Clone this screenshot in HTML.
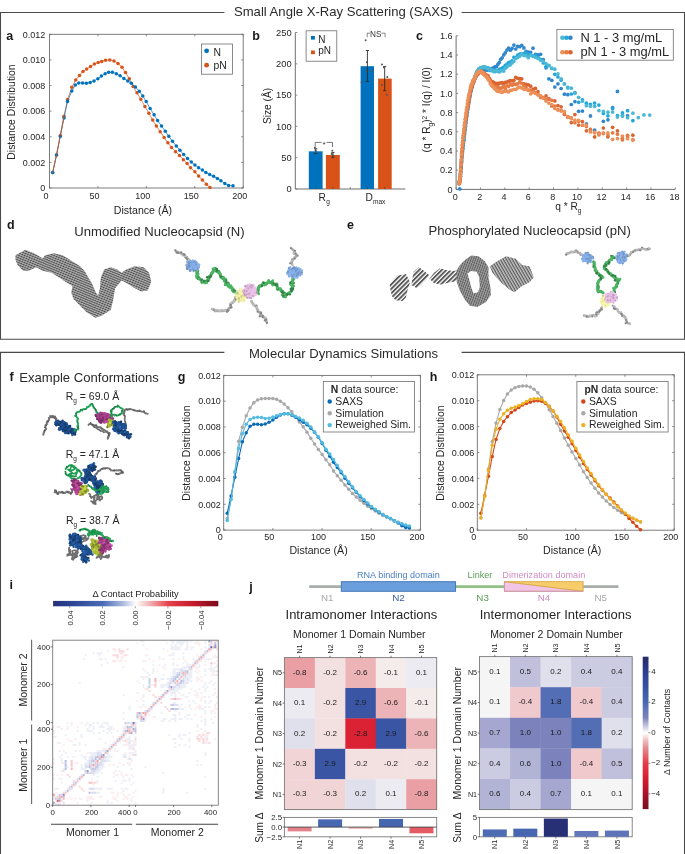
<!DOCTYPE html>
<html><head><meta charset="utf-8"><style>
html,body{margin:0;padding:0;background:#fff;}
svg{display:block;font-family:"Liberation Sans",sans-serif;will-change:transform;}
</style></head><body>
<svg width="685" height="854" viewBox="0 0 685 854">
<defs><pattern id="hatch" width="2.5" height="2.2" patternUnits="userSpaceOnUse" patternTransform="rotate(22)"><rect width="2.5" height="2.2" fill="#c6c6c6"/><ellipse cx="1.25" cy="1.1" rx="1.25" ry="0.78" fill="#464646"/></pattern>
<pattern id="hatch2" width="3.2" height="3.2" patternUnits="userSpaceOnUse" patternTransform="rotate(-45)"><rect width="3.2" height="1.9" fill="#585858"/></pattern>
<pattern id="hatch3" width="2.2" height="2.2" patternUnits="userSpaceOnUse" patternTransform="rotate(-70)"><rect width="2.2" height="2.2" fill="#b0b0b0"/><ellipse cx="1.1" cy="1.1" rx="1.1" ry="0.7" fill="#555"/></pattern>
<pattern id="hatch4" width="2.6" height="2.6" patternUnits="userSpaceOnUse" patternTransform="rotate(60)"><rect width="2.6" height="2.6" fill="#c4c4c4"/><rect width="2.6" height="1.2" fill="#5a5a5a"/></pattern></defs>
<rect width="685" height="854" fill="#fff"/>
<polyline points="224.4,12.5 0.5,12.5 0.5,339.2 684.5,339.2 684.5,12.5 461.6,12.5" fill="none" stroke="#4a4a4a" stroke-width="1.1"/>
<text x="343.5" y="15.5" font-size="13.1" text-anchor="middle" fill="#2a2a2a">Small Angle X-Ray Scattering (SAXS)</text>
<polyline points="224.4,352.4 0.5,352.4 0.5,870 684.5,870 684.5,352.4 461.6,352.4" fill="none" stroke="#4a4a4a" stroke-width="1.1"/>
<text x="343.5" y="358" font-size="13.1" text-anchor="middle" fill="#2a2a2a">Molecular Dynamics Simulations</text>
<rect x="49.5" y="34.3" width="193.7" height="153.7" fill="none" stroke="#6f6f6f" stroke-width="0.9"/>
<line x1="49.5" y1="188" x2="49.5" y2="186" stroke="#6f6f6f" stroke-width="0.8"/>
<line x1="49.5" y1="34.3" x2="49.5" y2="36.3" stroke="#6f6f6f" stroke-width="0.8"/>
<text x="46" y="198.8" font-size="9.0" text-anchor="middle" fill="#262626">0</text>
<line x1="97.92" y1="188" x2="97.92" y2="186" stroke="#6f6f6f" stroke-width="0.8"/>
<line x1="97.92" y1="34.3" x2="97.92" y2="36.3" stroke="#6f6f6f" stroke-width="0.8"/>
<text x="94.42" y="198.8" font-size="9.0" text-anchor="middle" fill="#262626">50</text>
<line x1="146.35" y1="188" x2="146.35" y2="186" stroke="#6f6f6f" stroke-width="0.8"/>
<line x1="146.35" y1="34.3" x2="146.35" y2="36.3" stroke="#6f6f6f" stroke-width="0.8"/>
<text x="142.85" y="198.8" font-size="9.0" text-anchor="middle" fill="#262626">100</text>
<line x1="194.77" y1="188" x2="194.77" y2="186" stroke="#6f6f6f" stroke-width="0.8"/>
<line x1="194.77" y1="34.3" x2="194.77" y2="36.3" stroke="#6f6f6f" stroke-width="0.8"/>
<text x="191.27" y="198.8" font-size="9.0" text-anchor="middle" fill="#262626">150</text>
<line x1="243.2" y1="188" x2="243.2" y2="186" stroke="#6f6f6f" stroke-width="0.8"/>
<line x1="243.2" y1="34.3" x2="243.2" y2="36.3" stroke="#6f6f6f" stroke-width="0.8"/>
<text x="239.7" y="198.8" font-size="9.0" text-anchor="middle" fill="#262626">200</text>
<line x1="49.5" y1="188" x2="51.5" y2="188" stroke="#6f6f6f" stroke-width="0.8"/>
<line x1="243.2" y1="188" x2="241.2" y2="188" stroke="#6f6f6f" stroke-width="0.8"/>
<text x="45.3" y="191.2" font-size="9.0" text-anchor="end" fill="#262626">0</text>
<line x1="49.5" y1="162.38" x2="51.5" y2="162.38" stroke="#6f6f6f" stroke-width="0.8"/>
<line x1="243.2" y1="162.38" x2="241.2" y2="162.38" stroke="#6f6f6f" stroke-width="0.8"/>
<text x="45.3" y="165.58" font-size="9.0" text-anchor="end" fill="#262626">0.002</text>
<line x1="49.5" y1="136.77" x2="51.5" y2="136.77" stroke="#6f6f6f" stroke-width="0.8"/>
<line x1="243.2" y1="136.77" x2="241.2" y2="136.77" stroke="#6f6f6f" stroke-width="0.8"/>
<text x="45.3" y="139.97" font-size="9.0" text-anchor="end" fill="#262626">0.004</text>
<line x1="49.5" y1="111.15" x2="51.5" y2="111.15" stroke="#6f6f6f" stroke-width="0.8"/>
<line x1="243.2" y1="111.15" x2="241.2" y2="111.15" stroke="#6f6f6f" stroke-width="0.8"/>
<text x="45.3" y="114.35" font-size="9.0" text-anchor="end" fill="#262626">0.006</text>
<line x1="49.5" y1="85.53" x2="51.5" y2="85.53" stroke="#6f6f6f" stroke-width="0.8"/>
<line x1="243.2" y1="85.53" x2="241.2" y2="85.53" stroke="#6f6f6f" stroke-width="0.8"/>
<text x="45.3" y="88.73" font-size="9.0" text-anchor="end" fill="#262626">0.008</text>
<line x1="49.5" y1="59.92" x2="51.5" y2="59.92" stroke="#6f6f6f" stroke-width="0.8"/>
<line x1="243.2" y1="59.92" x2="241.2" y2="59.92" stroke="#6f6f6f" stroke-width="0.8"/>
<text x="45.3" y="63.12" font-size="9.0" text-anchor="end" fill="#262626">0.010</text>
<line x1="49.5" y1="34.3" x2="51.5" y2="34.3" stroke="#6f6f6f" stroke-width="0.8"/>
<line x1="243.2" y1="34.3" x2="241.2" y2="34.3" stroke="#6f6f6f" stroke-width="0.8"/>
<text x="45.3" y="37.5" font-size="9.0" text-anchor="end" fill="#262626">0.012</text>
<text x="142.9" y="214" font-size="10.6" text-anchor="middle" fill="#262626">Distance (Å)</text>
<text transform="translate(15.3,112) rotate(-90)" font-size="10.4" text-anchor="middle" fill="#262626">Distance Distribution</text>
<text x="6.3" y="39.6" font-size="12.5" text-anchor="start" fill="#1a1a1a" font-weight="bold">a</text>
<polyline points="52.7,172.4 56.5,155 60.3,135.5 64,116.2 67.6,99.5 71.8,87.2 75.7,80 79.5,75.4 83,71.4 86.7,69.1 90.5,66.5 94.4,64 98.2,62.5 101.7,61.4 105.5,60.2 109.8,59.9 114,61 118,63.4 122,67.2 125.5,72.5 129.3,78.7 133.1,86.4 137,92.8 140.8,99.2 144.9,106.4 148.9,113.3 152.7,119.9 156.4,126 160.2,131.7 164.1,137.5 167.9,142.8 171.6,147.4 175.6,151.7 179.5,155.6 183.4,159.7 187.1,163.5 190.6,167.7 194.9,171.7 198.6,176.1 202.4,180.1 206.4,184.2 210,187.6" stroke="#D95319" stroke-width="0.7" fill="none" stroke-linejoin="round" stroke-linecap="round"/>
<circle cx="52.7" cy="172.4" r="1.75" fill="#D95319"/>
<circle cx="56.5" cy="155" r="1.75" fill="#D95319"/>
<circle cx="60.3" cy="135.5" r="1.75" fill="#D95319"/>
<circle cx="64" cy="116.2" r="1.75" fill="#D95319"/>
<circle cx="67.6" cy="99.5" r="1.75" fill="#D95319"/>
<circle cx="71.8" cy="87.2" r="1.75" fill="#D95319"/>
<circle cx="75.7" cy="80" r="1.75" fill="#D95319"/>
<circle cx="79.5" cy="75.4" r="1.75" fill="#D95319"/>
<circle cx="83" cy="71.4" r="1.75" fill="#D95319"/>
<circle cx="86.7" cy="69.1" r="1.75" fill="#D95319"/>
<circle cx="90.5" cy="66.5" r="1.75" fill="#D95319"/>
<circle cx="94.4" cy="64" r="1.75" fill="#D95319"/>
<circle cx="98.2" cy="62.5" r="1.75" fill="#D95319"/>
<circle cx="101.7" cy="61.4" r="1.75" fill="#D95319"/>
<circle cx="105.5" cy="60.2" r="1.75" fill="#D95319"/>
<circle cx="109.8" cy="59.9" r="1.75" fill="#D95319"/>
<circle cx="114" cy="61" r="1.75" fill="#D95319"/>
<circle cx="118" cy="63.4" r="1.75" fill="#D95319"/>
<circle cx="122" cy="67.2" r="1.75" fill="#D95319"/>
<circle cx="125.5" cy="72.5" r="1.75" fill="#D95319"/>
<circle cx="129.3" cy="78.7" r="1.75" fill="#D95319"/>
<circle cx="133.1" cy="86.4" r="1.75" fill="#D95319"/>
<circle cx="137" cy="92.8" r="1.75" fill="#D95319"/>
<circle cx="140.8" cy="99.2" r="1.75" fill="#D95319"/>
<circle cx="144.9" cy="106.4" r="1.75" fill="#D95319"/>
<circle cx="148.9" cy="113.3" r="1.75" fill="#D95319"/>
<circle cx="152.7" cy="119.9" r="1.75" fill="#D95319"/>
<circle cx="156.4" cy="126" r="1.75" fill="#D95319"/>
<circle cx="160.2" cy="131.7" r="1.75" fill="#D95319"/>
<circle cx="164.1" cy="137.5" r="1.75" fill="#D95319"/>
<circle cx="167.9" cy="142.8" r="1.75" fill="#D95319"/>
<circle cx="171.6" cy="147.4" r="1.75" fill="#D95319"/>
<circle cx="175.6" cy="151.7" r="1.75" fill="#D95319"/>
<circle cx="179.5" cy="155.6" r="1.75" fill="#D95319"/>
<circle cx="183.4" cy="159.7" r="1.75" fill="#D95319"/>
<circle cx="187.1" cy="163.5" r="1.75" fill="#D95319"/>
<circle cx="190.6" cy="167.7" r="1.75" fill="#D95319"/>
<circle cx="194.9" cy="171.7" r="1.75" fill="#D95319"/>
<circle cx="198.6" cy="176.1" r="1.75" fill="#D95319"/>
<circle cx="202.4" cy="180.1" r="1.75" fill="#D95319"/>
<circle cx="206.4" cy="184.2" r="1.75" fill="#D95319"/>
<circle cx="210" cy="187.6" r="1.75" fill="#D95319"/>
<polyline points="52.7,172.4 56.5,155.1 60.3,136.4 64,117.9 67.5,101.5 71.8,91 75.3,84.9 78.7,82.9 82.6,82.9 86.4,83.3 90.2,82.6 94,80.9 97.9,78.7 101.4,76 105.1,73.7 108.6,72.3 112.4,72.3 116.3,73.7 120.1,75.7 123.9,78.4 127.8,81 131.3,83.3 135.4,87 139.3,91.3 142.8,95.9 146.2,101.6 150.1,108.4 154.1,114.8 157.6,120.6 161.5,126 165.3,131.3 168.8,136.3 172.5,141.3 176.3,145.9 179.9,150.2 183.7,154.6 187.5,158.5 191.3,162 194.9,165.1 198.6,167.7 202.4,170.1 205.9,172.4 209.7,174.6 213.6,176.3 217.4,178.6 220.9,180.7 224.8,183.5 228.6,185.5 233,185.8" stroke="#0072BD" stroke-width="0.7" fill="none" stroke-linejoin="round" stroke-linecap="round"/>
<circle cx="52.7" cy="172.4" r="1.75" fill="#0072BD"/>
<circle cx="56.5" cy="155.1" r="1.75" fill="#0072BD"/>
<circle cx="60.3" cy="136.4" r="1.75" fill="#0072BD"/>
<circle cx="64" cy="117.9" r="1.75" fill="#0072BD"/>
<circle cx="67.5" cy="101.5" r="1.75" fill="#0072BD"/>
<circle cx="71.8" cy="91" r="1.75" fill="#0072BD"/>
<circle cx="75.3" cy="84.9" r="1.75" fill="#0072BD"/>
<circle cx="78.7" cy="82.9" r="1.75" fill="#0072BD"/>
<circle cx="82.6" cy="82.9" r="1.75" fill="#0072BD"/>
<circle cx="86.4" cy="83.3" r="1.75" fill="#0072BD"/>
<circle cx="90.2" cy="82.6" r="1.75" fill="#0072BD"/>
<circle cx="94" cy="80.9" r="1.75" fill="#0072BD"/>
<circle cx="97.9" cy="78.7" r="1.75" fill="#0072BD"/>
<circle cx="101.4" cy="76" r="1.75" fill="#0072BD"/>
<circle cx="105.1" cy="73.7" r="1.75" fill="#0072BD"/>
<circle cx="108.6" cy="72.3" r="1.75" fill="#0072BD"/>
<circle cx="112.4" cy="72.3" r="1.75" fill="#0072BD"/>
<circle cx="116.3" cy="73.7" r="1.75" fill="#0072BD"/>
<circle cx="120.1" cy="75.7" r="1.75" fill="#0072BD"/>
<circle cx="123.9" cy="78.4" r="1.75" fill="#0072BD"/>
<circle cx="127.8" cy="81" r="1.75" fill="#0072BD"/>
<circle cx="131.3" cy="83.3" r="1.75" fill="#0072BD"/>
<circle cx="135.4" cy="87" r="1.75" fill="#0072BD"/>
<circle cx="139.3" cy="91.3" r="1.75" fill="#0072BD"/>
<circle cx="142.8" cy="95.9" r="1.75" fill="#0072BD"/>
<circle cx="146.2" cy="101.6" r="1.75" fill="#0072BD"/>
<circle cx="150.1" cy="108.4" r="1.75" fill="#0072BD"/>
<circle cx="154.1" cy="114.8" r="1.75" fill="#0072BD"/>
<circle cx="157.6" cy="120.6" r="1.75" fill="#0072BD"/>
<circle cx="161.5" cy="126" r="1.75" fill="#0072BD"/>
<circle cx="165.3" cy="131.3" r="1.75" fill="#0072BD"/>
<circle cx="168.8" cy="136.3" r="1.75" fill="#0072BD"/>
<circle cx="172.5" cy="141.3" r="1.75" fill="#0072BD"/>
<circle cx="176.3" cy="145.9" r="1.75" fill="#0072BD"/>
<circle cx="179.9" cy="150.2" r="1.75" fill="#0072BD"/>
<circle cx="183.7" cy="154.6" r="1.75" fill="#0072BD"/>
<circle cx="187.5" cy="158.5" r="1.75" fill="#0072BD"/>
<circle cx="191.3" cy="162" r="1.75" fill="#0072BD"/>
<circle cx="194.9" cy="165.1" r="1.75" fill="#0072BD"/>
<circle cx="198.6" cy="167.7" r="1.75" fill="#0072BD"/>
<circle cx="202.4" cy="170.1" r="1.75" fill="#0072BD"/>
<circle cx="205.9" cy="172.4" r="1.75" fill="#0072BD"/>
<circle cx="209.7" cy="174.6" r="1.75" fill="#0072BD"/>
<circle cx="213.6" cy="176.3" r="1.75" fill="#0072BD"/>
<circle cx="217.4" cy="178.6" r="1.75" fill="#0072BD"/>
<circle cx="220.9" cy="180.7" r="1.75" fill="#0072BD"/>
<circle cx="224.8" cy="183.5" r="1.75" fill="#0072BD"/>
<circle cx="228.6" cy="185.5" r="1.75" fill="#0072BD"/>
<circle cx="233" cy="185.8" r="1.75" fill="#0072BD"/>
<polyline points="52.7,172.4 56.5,155 60.3,135.5 64,116.2" stroke="#D95319" stroke-width="0.7" fill="none" stroke-linejoin="round" stroke-linecap="round"/>
<rect x="201.4" y="44" width="31.2" height="30.2" fill="#fff" stroke="#6f6f6f" stroke-width="0.8"/>
<circle cx="206.6" cy="50.8" r="2.4" fill="#0072BD"/>
<circle cx="206.6" cy="65.2" r="2.4" fill="#D95319"/>
<text x="213.5" y="55.9" font-size="10.4" text-anchor="start" fill="#262626">N</text>
<text x="213.5" y="68.6" font-size="10.4" text-anchor="start" fill="#262626">pN</text>
<text x="252.3" y="39.9" font-size="12.5" text-anchor="start" fill="#1a1a1a" font-weight="bold">b</text>
<line x1="295.3" y1="32.5" x2="295.3" y2="189" stroke="#6f6f6f" stroke-width="1"/>
<line x1="295.3" y1="189" x2="405.3" y2="189" stroke="#6f6f6f" stroke-width="1"/>
<line x1="295.3" y1="189" x2="297.3" y2="189" stroke="#6f6f6f" stroke-width="0.8"/>
<text x="291.7" y="192.3" font-size="9.4" text-anchor="end" fill="#262626">0</text>
<line x1="295.3" y1="157.7" x2="297.3" y2="157.7" stroke="#6f6f6f" stroke-width="0.8"/>
<text x="291.7" y="161" font-size="9.4" text-anchor="end" fill="#262626">50</text>
<line x1="295.3" y1="126.4" x2="297.3" y2="126.4" stroke="#6f6f6f" stroke-width="0.8"/>
<text x="291.7" y="129.7" font-size="9.4" text-anchor="end" fill="#262626">100</text>
<line x1="295.3" y1="95.1" x2="297.3" y2="95.1" stroke="#6f6f6f" stroke-width="0.8"/>
<text x="291.7" y="98.4" font-size="9.4" text-anchor="end" fill="#262626">150</text>
<line x1="295.3" y1="63.8" x2="297.3" y2="63.8" stroke="#6f6f6f" stroke-width="0.8"/>
<text x="291.7" y="67.1" font-size="9.4" text-anchor="end" fill="#262626">200</text>
<line x1="295.3" y1="32.5" x2="297.3" y2="32.5" stroke="#6f6f6f" stroke-width="0.8"/>
<text x="291.7" y="35.8" font-size="9.4" text-anchor="end" fill="#262626">250</text>
<line x1="350.3" y1="189" x2="350.3" y2="187" stroke="#6f6f6f" stroke-width="0.8"/>
<rect x="308.8" y="151.3" width="13.8" height="37.7" fill="#0072BD"/>
<rect x="325.9" y="155" width="13.9" height="34" fill="#D95319"/>
<rect x="360.6" y="66.2" width="13.4" height="122.8" fill="#0072BD"/>
<rect x="378.1" y="78.6" width="13.6" height="110.4" fill="#D95319"/>
<line x1="367.4" y1="50.5" x2="367.4" y2="81.5" stroke="#2b2b2b" stroke-width="0.9"/>
<line x1="365.8" y1="50.5" x2="369" y2="50.5" stroke="#2b2b2b" stroke-width="0.9"/>
<line x1="365.8" y1="81.5" x2="369" y2="81.5" stroke="#2b2b2b" stroke-width="0.9"/>
<line x1="384.7" y1="66.6" x2="384.7" y2="90.7" stroke="#2b2b2b" stroke-width="0.9"/>
<line x1="383.1" y1="66.6" x2="386.3" y2="66.6" stroke="#2b2b2b" stroke-width="0.9"/>
<line x1="383.1" y1="90.7" x2="386.3" y2="90.7" stroke="#2b2b2b" stroke-width="0.9"/>
<line x1="315.7" y1="148.8" x2="315.7" y2="153.5" stroke="#2b2b2b" stroke-width="0.9"/>
<line x1="314.1" y1="148.8" x2="317.3" y2="148.8" stroke="#2b2b2b" stroke-width="0.9"/>
<line x1="314.1" y1="153.5" x2="317.3" y2="153.5" stroke="#2b2b2b" stroke-width="0.9"/>
<line x1="332.9" y1="152.6" x2="332.9" y2="157.3" stroke="#2b2b2b" stroke-width="0.9"/>
<line x1="331.3" y1="152.6" x2="334.5" y2="152.6" stroke="#2b2b2b" stroke-width="0.9"/>
<line x1="331.3" y1="157.3" x2="334.5" y2="157.3" stroke="#2b2b2b" stroke-width="0.9"/>
<circle cx="365.7" cy="40.3" r="1" fill="#555"/>
<circle cx="366.9" cy="62.2" r="1" fill="#555"/>
<circle cx="366.4" cy="71" r="1" fill="#555"/>
<circle cx="372" cy="71" r="1" fill="#555"/>
<circle cx="361.6" cy="82.2" r="1" fill="#555"/>
<circle cx="382" cy="64.4" r="1" fill="#555"/>
<circle cx="383.9" cy="67.6" r="1" fill="#555"/>
<circle cx="387.3" cy="77.1" r="1" fill="#555"/>
<circle cx="381.8" cy="84.9" r="1" fill="#555"/>
<circle cx="386.9" cy="94.8" r="1" fill="#555"/>
<circle cx="314.8" cy="147.8" r="1" fill="#555"/>
<circle cx="315.6" cy="150.5" r="1" fill="#555"/>
<circle cx="316.2" cy="152.4" r="1" fill="#555"/>
<circle cx="332.3" cy="150.8" r="1" fill="#555"/>
<circle cx="331.6" cy="153.9" r="1" fill="#555"/>
<circle cx="333.4" cy="155.6" r="1" fill="#555"/>
<polyline points="315.2,146.4 315.2,142.4 321.2,142.4" stroke="#555" stroke-width="0.8" fill="none" stroke-linejoin="round" stroke-linecap="round"/>
<polyline points="327,142.4 332.5,142.4 332.5,146.6" stroke="#555" stroke-width="0.8" fill="none" stroke-linejoin="round" stroke-linecap="round"/>
<text x="324" y="146.6" font-size="8.0" text-anchor="middle" fill="#333">*</text>
<polyline points="367.2,36.9 367.2,33.2 369.6,33.2" stroke="#555" stroke-width="0.7" fill="none" stroke-linejoin="round" stroke-linecap="round"/>
<polyline points="381.9,33.2 385.1,33.2 385.1,36.9" stroke="#555" stroke-width="0.7" fill="none" stroke-linejoin="round" stroke-linecap="round"/>
<text x="375.7" y="36.8" font-size="8.2" text-anchor="middle" fill="#333">NS</text>
<rect x="306.1" y="30.8" width="30.7" height="30.4" fill="#fff" stroke="#6f6f6f" stroke-width="0.8"/>
<rect x="311" y="36" width="3.9" height="3.6" fill="#0072BD"/>
<rect x="311" y="50.5" width="3.9" height="3.7" fill="#D95319"/>
<text x="318.3" y="42.9" font-size="10.0" text-anchor="start" fill="#262626">N</text>
<text x="318.3" y="54.2" font-size="10.0" text-anchor="start" fill="#262626">pN</text>
<text x="318.6" y="200.8" font-size="10.2" text-anchor="start" fill="#262626">R</text>
<text x="326.3" y="204.2" font-size="6.6" text-anchor="start" fill="#262626">g</text>
<text x="365.5" y="200.8" font-size="10.2" text-anchor="start" fill="#262626">D</text>
<text x="372.9" y="203.7" font-size="6.6" text-anchor="start" fill="#262626">max</text>
<line x1="315.7" y1="189" x2="315.7" y2="187" stroke="#444" stroke-width="0.7"/>
<line x1="332.9" y1="189" x2="332.9" y2="187" stroke="#444" stroke-width="0.7"/>
<line x1="367.4" y1="189" x2="367.4" y2="187" stroke="#444" stroke-width="0.7"/>
<line x1="384.7" y1="189" x2="384.7" y2="187" stroke="#444" stroke-width="0.7"/>
<text transform="translate(271.3,106) rotate(-90)" font-size="10.2" text-anchor="middle" fill="#262626">Size (Å)</text>
<text x="416" y="40" font-size="12.5" text-anchor="start" fill="#1a1a1a" font-weight="bold">c</text>
<line x1="456.1" y1="35.8" x2="456.1" y2="189.4" stroke="#6f6f6f" stroke-width="1"/>
<line x1="456.1" y1="189.4" x2="675.3" y2="189.4" stroke="#6f6f6f" stroke-width="1"/>
<line x1="456.1" y1="189.4" x2="456.1" y2="187.4" stroke="#6f6f6f" stroke-width="0.8"/>
<text x="455.3" y="200.3" font-size="9.0" text-anchor="middle" fill="#262626">0</text>
<line x1="480.46" y1="189.4" x2="480.46" y2="187.4" stroke="#6f6f6f" stroke-width="0.8"/>
<text x="479.66" y="200.3" font-size="9.0" text-anchor="middle" fill="#262626">2</text>
<line x1="504.81" y1="189.4" x2="504.81" y2="187.4" stroke="#6f6f6f" stroke-width="0.8"/>
<text x="504.01" y="200.3" font-size="9.0" text-anchor="middle" fill="#262626">4</text>
<line x1="529.17" y1="189.4" x2="529.17" y2="187.4" stroke="#6f6f6f" stroke-width="0.8"/>
<text x="528.37" y="200.3" font-size="9.0" text-anchor="middle" fill="#262626">6</text>
<line x1="553.52" y1="189.4" x2="553.52" y2="187.4" stroke="#6f6f6f" stroke-width="0.8"/>
<text x="552.72" y="200.3" font-size="9.0" text-anchor="middle" fill="#262626">8</text>
<line x1="577.88" y1="189.4" x2="577.88" y2="187.4" stroke="#6f6f6f" stroke-width="0.8"/>
<text x="577.08" y="200.3" font-size="9.0" text-anchor="middle" fill="#262626">10</text>
<line x1="602.23" y1="189.4" x2="602.23" y2="187.4" stroke="#6f6f6f" stroke-width="0.8"/>
<text x="601.43" y="200.3" font-size="9.0" text-anchor="middle" fill="#262626">12</text>
<line x1="626.59" y1="189.4" x2="626.59" y2="187.4" stroke="#6f6f6f" stroke-width="0.8"/>
<text x="625.79" y="200.3" font-size="9.0" text-anchor="middle" fill="#262626">14</text>
<line x1="650.94" y1="189.4" x2="650.94" y2="187.4" stroke="#6f6f6f" stroke-width="0.8"/>
<text x="650.14" y="200.3" font-size="9.0" text-anchor="middle" fill="#262626">16</text>
<line x1="675.3" y1="189.4" x2="675.3" y2="187.4" stroke="#6f6f6f" stroke-width="0.8"/>
<text x="674.5" y="200.3" font-size="9.0" text-anchor="middle" fill="#262626">18</text>
<line x1="456.1" y1="189.4" x2="458.1" y2="189.4" stroke="#6f6f6f" stroke-width="0.8"/>
<text x="452.6" y="192.6" font-size="9.1" text-anchor="end" fill="#262626">0</text>
<line x1="456.1" y1="170.2" x2="458.1" y2="170.2" stroke="#6f6f6f" stroke-width="0.8"/>
<text x="452.6" y="173.4" font-size="9.1" text-anchor="end" fill="#262626">0.2</text>
<line x1="456.1" y1="151" x2="458.1" y2="151" stroke="#6f6f6f" stroke-width="0.8"/>
<text x="452.6" y="154.2" font-size="9.1" text-anchor="end" fill="#262626">0.4</text>
<line x1="456.1" y1="131.8" x2="458.1" y2="131.8" stroke="#6f6f6f" stroke-width="0.8"/>
<text x="452.6" y="135" font-size="9.1" text-anchor="end" fill="#262626">0.6</text>
<line x1="456.1" y1="112.6" x2="458.1" y2="112.6" stroke="#6f6f6f" stroke-width="0.8"/>
<text x="452.6" y="115.8" font-size="9.1" text-anchor="end" fill="#262626">0.8</text>
<line x1="456.1" y1="93.4" x2="458.1" y2="93.4" stroke="#6f6f6f" stroke-width="0.8"/>
<text x="452.6" y="96.6" font-size="9.1" text-anchor="end" fill="#262626">1.0</text>
<line x1="456.1" y1="74.2" x2="458.1" y2="74.2" stroke="#6f6f6f" stroke-width="0.8"/>
<text x="452.6" y="77.4" font-size="9.1" text-anchor="end" fill="#262626">1.2</text>
<line x1="456.1" y1="55" x2="458.1" y2="55" stroke="#6f6f6f" stroke-width="0.8"/>
<text x="452.6" y="58.2" font-size="9.1" text-anchor="end" fill="#262626">1.4</text>
<line x1="456.1" y1="35.8" x2="458.1" y2="35.8" stroke="#6f6f6f" stroke-width="0.8"/>
<text x="452.6" y="39" font-size="9.1" text-anchor="end" fill="#262626">1.6</text>
<text x="566.5" y="209.6" font-size="10.2" text-anchor="middle" fill="#262626">q * R</text>
<text x="579.5" y="212.5" font-size="6.5" text-anchor="middle" fill="#262626">g</text>
<text transform="translate(430.2,109.8) rotate(-90)" font-size="10.2" text-anchor="middle" fill="#262626">(q * R<tspan font-size="6.5" dy="2.5">g</tspan><tspan dy="-2.5">)</tspan><tspan font-size="6.5" dy="-3.5">2</tspan><tspan dy="3.5"> * I(q) / I(0)</tspan></text>
<g fill="#2f86cc"><circle cx="459.14" cy="183.28" r="1.85"/><circle cx="459.38" cy="182.27" r="1.85"/><circle cx="459.63" cy="181.44" r="1.85"/><circle cx="459.88" cy="180.45" r="1.85"/><circle cx="460.14" cy="178.44" r="1.85"/><circle cx="460.41" cy="176.2" r="1.85"/><circle cx="460.68" cy="172.81" r="1.85"/><circle cx="460.96" cy="168.92" r="1.85"/><circle cx="461.26" cy="165.95" r="1.85"/><circle cx="461.56" cy="162.21" r="1.85"/><circle cx="461.87" cy="158.07" r="1.85"/><circle cx="462.19" cy="154.73" r="1.85"/><circle cx="462.51" cy="151.67" r="1.85"/><circle cx="462.85" cy="148.89" r="1.85"/><circle cx="463.2" cy="145.33" r="1.85"/><circle cx="463.56" cy="141.81" r="1.85"/><circle cx="463.93" cy="139.33" r="1.85"/><circle cx="464.31" cy="135.72" r="1.85"/><circle cx="464.7" cy="132.98" r="1.85"/><circle cx="465.11" cy="129.45" r="1.85"/><circle cx="465.53" cy="126.35" r="1.85"/><circle cx="465.95" cy="122.38" r="1.85"/><circle cx="466.4" cy="119.4" r="1.85"/><circle cx="466.85" cy="115.43" r="1.85"/><circle cx="467.32" cy="112.13" r="1.85"/><circle cx="467.8" cy="108.99" r="1.85"/><circle cx="468.3" cy="106.71" r="1.85"/><circle cx="468.81" cy="102.83" r="1.85"/><circle cx="469.34" cy="99.51" r="1.85"/><circle cx="469.88" cy="96.39" r="1.85"/><circle cx="470.44" cy="94.1" r="1.85"/><circle cx="471.02" cy="91.01" r="1.85"/><circle cx="471.61" cy="88.81" r="1.85"/><circle cx="472.22" cy="86.52" r="1.85"/><circle cx="472.85" cy="83.71" r="1.85"/><circle cx="473.5" cy="82.5" r="1.85"/><circle cx="474.17" cy="80.45" r="1.85"/><circle cx="474.86" cy="78.49" r="1.85"/><circle cx="475.57" cy="77.56" r="1.85"/><circle cx="476.3" cy="76" r="1.85"/><circle cx="477.05" cy="74.68" r="1.85"/><circle cx="477.82" cy="73.59" r="1.85"/><circle cx="478.62" cy="72.97" r="1.85"/><circle cx="479.44" cy="71.5" r="1.85"/><circle cx="480.29" cy="70.38" r="1.85"/><circle cx="481.16" cy="71.25" r="1.85"/><circle cx="482.06" cy="70.15" r="1.85"/><circle cx="482.99" cy="70.3" r="1.85"/><circle cx="483.94" cy="70.48" r="1.85"/><circle cx="484.92" cy="69.36" r="1.85"/><circle cx="485.93" cy="69.7" r="1.85"/><circle cx="486.97" cy="70.26" r="1.85"/><circle cx="488.04" cy="69.55" r="1.85"/><circle cx="489.15" cy="69.13" r="1.85"/><circle cx="490.29" cy="69.17" r="1.85"/><circle cx="491.46" cy="68.53" r="1.85"/><circle cx="492.66" cy="68.45" r="1.85"/><circle cx="493.91" cy="67.67" r="1.85"/><circle cx="495.19" cy="66.65" r="1.85"/><circle cx="496.51" cy="66.72" r="1.85"/><circle cx="497.86" cy="64.31" r="1.85"/><circle cx="499.26" cy="62.42" r="1.85"/><circle cx="500.7" cy="59.26" r="1.85"/><circle cx="502.19" cy="57.79" r="1.85"/><circle cx="503.72" cy="54.91" r="1.85"/><circle cx="505.29" cy="52.87" r="1.85"/><circle cx="506.91" cy="50.08" r="1.85"/><circle cx="508.58" cy="48.19" r="1.85"/><circle cx="510.31" cy="50.21" r="1.85"/><circle cx="512.08" cy="48.3" r="1.85"/><circle cx="513.9" cy="45.04" r="1.85"/><circle cx="515.78" cy="49.01" r="1.85"/><circle cx="517.72" cy="46.36" r="1.85"/><circle cx="519.71" cy="46.65" r="1.85"/><circle cx="521.77" cy="45.37" r="1.85"/><circle cx="523.89" cy="47.97" r="1.85"/><circle cx="526.06" cy="51.23" r="1.85"/><circle cx="528.31" cy="52.1" r="1.85"/><circle cx="530.62" cy="52.44" r="1.85"/><circle cx="533" cy="48.15" r="1.85"/><circle cx="535.46" cy="54.32" r="1.85"/><circle cx="537.98" cy="54.97" r="1.85"/><circle cx="540.59" cy="54.31" r="1.85"/><circle cx="543.27" cy="59.48" r="1.85"/><circle cx="546.03" cy="67.78" r="1.85"/><circle cx="548.87" cy="78.78" r="1.85"/><circle cx="551.8" cy="80.36" r="1.85"/><circle cx="554.82" cy="87.01" r="1.85"/><circle cx="557.93" cy="83.79" r="1.85"/><circle cx="561.13" cy="88.48" r="1.85"/><circle cx="564.43" cy="94.17" r="1.85"/><circle cx="567.82" cy="94.7" r="1.85"/><circle cx="571.32" cy="104.52" r="1.85"/><circle cx="574.92" cy="101.61" r="1.85"/><circle cx="578.63" cy="111.3" r="1.85"/><circle cx="582.45" cy="111.04" r="1.85"/><circle cx="586.39" cy="123.94" r="1.85"/><circle cx="590.45" cy="115.89" r="1.85"/><circle cx="594.62" cy="130.22" r="1.85"/><circle cx="598.92" cy="133.75" r="1.85"/><circle cx="603.36" cy="121.28" r="1.85"/><circle cx="607.92" cy="119.85" r="1.85"/><circle cx="612.62" cy="107.61" r="1.85"/><circle cx="617.46" cy="91.38" r="1.85"/><circle cx="622.45" cy="115.95" r="1.85"/><circle cx="627.58" cy="115.81" r="1.85"/></g>
<circle cx="459.75" cy="188.92" r="1.85" fill="#2f86cc"/>
<g fill="#22a6dc"><circle cx="459.14" cy="182.72" r="1.85"/><circle cx="459.38" cy="181.54" r="1.85"/><circle cx="459.63" cy="180.56" r="1.85"/><circle cx="459.88" cy="179.11" r="1.85"/><circle cx="460.14" cy="176.73" r="1.85"/><circle cx="460.41" cy="174.18" r="1.85"/><circle cx="460.68" cy="171.67" r="1.85"/><circle cx="460.96" cy="167.8" r="1.85"/><circle cx="461.26" cy="164" r="1.85"/><circle cx="461.56" cy="160.56" r="1.85"/><circle cx="461.87" cy="156.29" r="1.85"/><circle cx="462.19" cy="153.28" r="1.85"/><circle cx="462.51" cy="149.38" r="1.85"/><circle cx="462.85" cy="146.47" r="1.85"/><circle cx="463.2" cy="143.29" r="1.85"/><circle cx="463.56" cy="140.31" r="1.85"/><circle cx="463.93" cy="136.89" r="1.85"/><circle cx="464.31" cy="134.35" r="1.85"/><circle cx="464.7" cy="130.75" r="1.85"/><circle cx="465.11" cy="126.9" r="1.85"/><circle cx="465.53" cy="124.54" r="1.85"/><circle cx="465.95" cy="120.05" r="1.85"/><circle cx="466.4" cy="117.66" r="1.85"/><circle cx="466.85" cy="113.33" r="1.85"/><circle cx="467.32" cy="110.6" r="1.85"/><circle cx="467.8" cy="106.7" r="1.85"/><circle cx="468.3" cy="103.78" r="1.85"/><circle cx="468.81" cy="101.29" r="1.85"/><circle cx="469.34" cy="97.09" r="1.85"/><circle cx="469.88" cy="93.96" r="1.85"/><circle cx="470.44" cy="91.62" r="1.85"/><circle cx="471.02" cy="89.01" r="1.85"/><circle cx="471.61" cy="86.58" r="1.85"/><circle cx="472.22" cy="84.7" r="1.85"/><circle cx="472.85" cy="81.87" r="1.85"/><circle cx="473.5" cy="80.58" r="1.85"/><circle cx="474.17" cy="78.57" r="1.85"/><circle cx="474.86" cy="77.08" r="1.85"/><circle cx="475.57" cy="75.25" r="1.85"/><circle cx="476.3" cy="73.84" r="1.85"/><circle cx="477.05" cy="71.41" r="1.85"/><circle cx="477.82" cy="70.77" r="1.85"/><circle cx="478.62" cy="69.19" r="1.85"/><circle cx="479.44" cy="68.58" r="1.85"/><circle cx="480.29" cy="68.27" r="1.85"/><circle cx="481.16" cy="67.96" r="1.85"/><circle cx="482.06" cy="67.91" r="1.85"/><circle cx="482.99" cy="67.59" r="1.85"/><circle cx="483.94" cy="67.66" r="1.85"/><circle cx="484.92" cy="67.6" r="1.85"/><circle cx="485.93" cy="68.07" r="1.85"/><circle cx="486.97" cy="68.22" r="1.85"/><circle cx="488.04" cy="67.89" r="1.85"/><circle cx="489.15" cy="69.53" r="1.85"/><circle cx="490.29" cy="70.43" r="1.85"/><circle cx="491.46" cy="70.48" r="1.85"/><circle cx="492.66" cy="70.3" r="1.85"/><circle cx="493.91" cy="71.38" r="1.85"/><circle cx="495.19" cy="70.72" r="1.85"/><circle cx="496.51" cy="70.69" r="1.85"/><circle cx="497.86" cy="70.98" r="1.85"/><circle cx="499.26" cy="69.33" r="1.85"/><circle cx="500.7" cy="69.09" r="1.85"/><circle cx="502.19" cy="68.09" r="1.85"/><circle cx="503.72" cy="67.43" r="1.85"/><circle cx="505.29" cy="65.25" r="1.85"/><circle cx="506.91" cy="64.46" r="1.85"/><circle cx="508.58" cy="62.69" r="1.85"/><circle cx="510.31" cy="62.07" r="1.85"/><circle cx="512.08" cy="60.93" r="1.85"/><circle cx="513.9" cy="57.24" r="1.85"/><circle cx="515.78" cy="57.32" r="1.85"/><circle cx="517.72" cy="55.04" r="1.85"/><circle cx="519.71" cy="54.09" r="1.85"/><circle cx="521.77" cy="53.71" r="1.85"/><circle cx="523.89" cy="53.68" r="1.85"/><circle cx="526.06" cy="52.68" r="1.85"/><circle cx="528.31" cy="54.41" r="1.85"/><circle cx="530.62" cy="55.09" r="1.85"/><circle cx="533" cy="55.89" r="1.85"/><circle cx="535.46" cy="55.37" r="1.85"/><circle cx="537.98" cy="57.33" r="1.85"/><circle cx="540.59" cy="59.43" r="1.85"/><circle cx="543.27" cy="62.92" r="1.85"/><circle cx="546.03" cy="66.61" r="1.85"/><circle cx="548.87" cy="65.31" r="1.85"/><circle cx="551.8" cy="68.51" r="1.85"/><circle cx="554.82" cy="74.29" r="1.85"/><circle cx="557.93" cy="76.92" r="1.85"/><circle cx="561.13" cy="80.14" r="1.85"/><circle cx="564.43" cy="83.82" r="1.85"/><circle cx="567.82" cy="87.39" r="1.85"/><circle cx="571.32" cy="93.98" r="1.85"/><circle cx="574.92" cy="92.68" r="1.85"/><circle cx="578.63" cy="102.31" r="1.85"/><circle cx="582.45" cy="99.9" r="1.85"/><circle cx="586.39" cy="103.14" r="1.85"/><circle cx="590.45" cy="104.26" r="1.85"/><circle cx="594.62" cy="103.08" r="1.85"/><circle cx="598.92" cy="105.03" r="1.85"/><circle cx="603.36" cy="113.43" r="1.85"/><circle cx="607.92" cy="115.87" r="1.85"/><circle cx="612.62" cy="108.73" r="1.85"/><circle cx="617.46" cy="115.51" r="1.85"/><circle cx="622.45" cy="112.95" r="1.85"/><circle cx="627.58" cy="110.71" r="1.85"/><circle cx="632.88" cy="120.63" r="1.85"/></g>
<g fill="#4cb8d6"><circle cx="459.14" cy="183.61" r="1.85"/><circle cx="459.38" cy="181.63" r="1.85"/><circle cx="459.63" cy="180.47" r="1.85"/><circle cx="459.88" cy="179.13" r="1.85"/><circle cx="460.14" cy="176.99" r="1.85"/><circle cx="460.41" cy="174.71" r="1.85"/><circle cx="460.68" cy="171.85" r="1.85"/><circle cx="460.96" cy="167.83" r="1.85"/><circle cx="461.26" cy="164.38" r="1.85"/><circle cx="461.56" cy="160.79" r="1.85"/><circle cx="461.87" cy="156.2" r="1.85"/><circle cx="462.19" cy="152.97" r="1.85"/><circle cx="462.51" cy="149.6" r="1.85"/><circle cx="462.85" cy="146.92" r="1.85"/><circle cx="463.2" cy="143.57" r="1.85"/><circle cx="463.56" cy="140.47" r="1.85"/><circle cx="463.93" cy="137.18" r="1.85"/><circle cx="464.31" cy="133.51" r="1.85"/><circle cx="464.7" cy="130.62" r="1.85"/><circle cx="465.11" cy="126.9" r="1.85"/><circle cx="465.53" cy="123.6" r="1.85"/><circle cx="465.95" cy="119.59" r="1.85"/><circle cx="466.4" cy="117.53" r="1.85"/><circle cx="466.85" cy="113.28" r="1.85"/><circle cx="467.32" cy="110.31" r="1.85"/><circle cx="467.8" cy="107" r="1.85"/><circle cx="468.3" cy="104.38" r="1.85"/><circle cx="468.81" cy="100.88" r="1.85"/><circle cx="469.34" cy="97.29" r="1.85"/><circle cx="469.88" cy="94.55" r="1.85"/><circle cx="470.44" cy="91.56" r="1.85"/><circle cx="471.02" cy="89.02" r="1.85"/><circle cx="471.61" cy="86.07" r="1.85"/><circle cx="472.22" cy="84.34" r="1.85"/><circle cx="472.85" cy="83.13" r="1.85"/><circle cx="473.5" cy="80.64" r="1.85"/><circle cx="474.17" cy="79.31" r="1.85"/><circle cx="474.86" cy="78.02" r="1.85"/><circle cx="475.57" cy="75.21" r="1.85"/><circle cx="476.3" cy="72.84" r="1.85"/><circle cx="477.05" cy="71.88" r="1.85"/><circle cx="477.82" cy="71.17" r="1.85"/><circle cx="478.62" cy="69.99" r="1.85"/><circle cx="479.44" cy="68.26" r="1.85"/><circle cx="480.29" cy="67.98" r="1.85"/><circle cx="481.16" cy="67.65" r="1.85"/><circle cx="482.06" cy="67.37" r="1.85"/><circle cx="482.99" cy="67.1" r="1.85"/><circle cx="483.94" cy="66.69" r="1.85"/><circle cx="484.92" cy="66.87" r="1.85"/><circle cx="485.93" cy="67.31" r="1.85"/><circle cx="486.97" cy="68.26" r="1.85"/><circle cx="488.04" cy="68.22" r="1.85"/><circle cx="489.15" cy="69.23" r="1.85"/><circle cx="490.29" cy="69.01" r="1.85"/><circle cx="491.46" cy="70.33" r="1.85"/><circle cx="492.66" cy="70.35" r="1.85"/><circle cx="493.91" cy="70.76" r="1.85"/><circle cx="495.19" cy="71.75" r="1.85"/><circle cx="496.51" cy="70.77" r="1.85"/><circle cx="497.86" cy="71.08" r="1.85"/><circle cx="499.26" cy="72" r="1.85"/><circle cx="500.7" cy="71.01" r="1.85"/><circle cx="502.19" cy="70.48" r="1.85"/><circle cx="503.72" cy="71.1" r="1.85"/><circle cx="505.29" cy="68.22" r="1.85"/><circle cx="506.91" cy="66.97" r="1.85"/><circle cx="508.58" cy="65.41" r="1.85"/><circle cx="510.31" cy="64.78" r="1.85"/><circle cx="512.08" cy="62.94" r="1.85"/><circle cx="513.9" cy="61.28" r="1.85"/><circle cx="515.78" cy="58.49" r="1.85"/><circle cx="517.72" cy="57.38" r="1.85"/><circle cx="519.71" cy="56.15" r="1.85"/><circle cx="521.77" cy="53.9" r="1.85"/><circle cx="523.89" cy="55.51" r="1.85"/><circle cx="526.06" cy="55.7" r="1.85"/><circle cx="528.31" cy="57.65" r="1.85"/><circle cx="530.62" cy="55.14" r="1.85"/><circle cx="533" cy="56.47" r="1.85"/><circle cx="535.46" cy="57.3" r="1.85"/><circle cx="537.98" cy="58.5" r="1.85"/><circle cx="540.59" cy="60.24" r="1.85"/><circle cx="543.27" cy="61.45" r="1.85"/><circle cx="546.03" cy="63.63" r="1.85"/><circle cx="548.87" cy="65.74" r="1.85"/><circle cx="551.8" cy="68.08" r="1.85"/><circle cx="554.82" cy="69.19" r="1.85"/><circle cx="557.93" cy="73.86" r="1.85"/><circle cx="561.13" cy="78.73" r="1.85"/><circle cx="564.43" cy="84.08" r="1.85"/><circle cx="567.82" cy="88.11" r="1.85"/><circle cx="571.32" cy="88.13" r="1.85"/><circle cx="574.92" cy="93.31" r="1.85"/><circle cx="578.63" cy="97.29" r="1.85"/><circle cx="582.45" cy="101.24" r="1.85"/><circle cx="586.39" cy="105.7" r="1.85"/><circle cx="590.45" cy="106.21" r="1.85"/><circle cx="594.62" cy="106.34" r="1.85"/><circle cx="598.92" cy="110.56" r="1.85"/><circle cx="603.36" cy="111.4" r="1.85"/><circle cx="607.92" cy="112.13" r="1.85"/><circle cx="612.62" cy="112.04" r="1.85"/><circle cx="617.46" cy="117.12" r="1.85"/><circle cx="622.45" cy="115.46" r="1.85"/><circle cx="627.58" cy="117.63" r="1.85"/><circle cx="632.88" cy="113.18" r="1.85"/><circle cx="638.32" cy="117.55" r="1.85"/><circle cx="643.94" cy="114.88" r="1.85"/><circle cx="649.72" cy="115.03" r="1.85"/></g>
<g fill="#d9642f"><circle cx="459.14" cy="183.84" r="1.85"/><circle cx="459.38" cy="183.26" r="1.85"/><circle cx="459.63" cy="182.11" r="1.85"/><circle cx="459.88" cy="181.13" r="1.85"/><circle cx="460.14" cy="179.57" r="1.85"/><circle cx="460.41" cy="176.16" r="1.85"/><circle cx="460.68" cy="171.95" r="1.85"/><circle cx="460.96" cy="168.62" r="1.85"/><circle cx="461.26" cy="164.04" r="1.85"/><circle cx="461.56" cy="159.71" r="1.85"/><circle cx="461.87" cy="154.75" r="1.85"/><circle cx="462.19" cy="151.51" r="1.85"/><circle cx="462.51" cy="148.09" r="1.85"/><circle cx="462.85" cy="143.84" r="1.85"/><circle cx="463.2" cy="141.39" r="1.85"/><circle cx="463.56" cy="137.37" r="1.85"/><circle cx="463.93" cy="133.98" r="1.85"/><circle cx="464.31" cy="131.27" r="1.85"/><circle cx="464.7" cy="128" r="1.85"/><circle cx="465.11" cy="124.32" r="1.85"/><circle cx="465.53" cy="122.01" r="1.85"/><circle cx="465.95" cy="119.06" r="1.85"/><circle cx="466.4" cy="116.28" r="1.85"/><circle cx="466.85" cy="112.7" r="1.85"/><circle cx="467.32" cy="109.14" r="1.85"/><circle cx="467.8" cy="106.38" r="1.85"/><circle cx="468.3" cy="104.2" r="1.85"/><circle cx="468.81" cy="101.24" r="1.85"/><circle cx="469.34" cy="98.15" r="1.85"/><circle cx="469.88" cy="94.94" r="1.85"/><circle cx="470.44" cy="92.37" r="1.85"/><circle cx="471.02" cy="89.68" r="1.85"/><circle cx="471.61" cy="87.46" r="1.85"/><circle cx="472.22" cy="85.7" r="1.85"/><circle cx="472.85" cy="83.75" r="1.85"/><circle cx="473.5" cy="81.94" r="1.85"/><circle cx="474.17" cy="80.44" r="1.85"/><circle cx="474.86" cy="78.66" r="1.85"/><circle cx="475.57" cy="76.62" r="1.85"/><circle cx="476.3" cy="75.7" r="1.85"/><circle cx="477.05" cy="74.67" r="1.85"/><circle cx="477.82" cy="74.31" r="1.85"/><circle cx="478.62" cy="72.49" r="1.85"/><circle cx="479.44" cy="72.53" r="1.85"/><circle cx="480.29" cy="71.87" r="1.85"/><circle cx="481.16" cy="71.08" r="1.85"/><circle cx="482.06" cy="71.46" r="1.85"/><circle cx="482.99" cy="72.32" r="1.85"/><circle cx="483.94" cy="73.62" r="1.85"/><circle cx="484.92" cy="73.93" r="1.85"/><circle cx="485.93" cy="74.91" r="1.85"/><circle cx="486.97" cy="75.29" r="1.85"/><circle cx="488.04" cy="75.86" r="1.85"/><circle cx="489.15" cy="78.08" r="1.85"/><circle cx="490.29" cy="79.96" r="1.85"/><circle cx="491.46" cy="81.45" r="1.85"/><circle cx="492.66" cy="81.92" r="1.85"/><circle cx="493.91" cy="82.56" r="1.85"/><circle cx="495.19" cy="83.57" r="1.85"/><circle cx="496.51" cy="83.41" r="1.85"/><circle cx="497.86" cy="84.38" r="1.85"/><circle cx="499.26" cy="83.13" r="1.85"/><circle cx="500.7" cy="82.99" r="1.85"/><circle cx="502.19" cy="82.68" r="1.85"/><circle cx="503.72" cy="83.44" r="1.85"/><circle cx="505.29" cy="82.3" r="1.85"/><circle cx="506.91" cy="82.12" r="1.85"/><circle cx="508.58" cy="81.45" r="1.85"/><circle cx="510.31" cy="80.53" r="1.85"/><circle cx="512.08" cy="80.78" r="1.85"/><circle cx="513.9" cy="80.25" r="1.85"/><circle cx="515.78" cy="77.28" r="1.85"/><circle cx="517.72" cy="78.33" r="1.85"/><circle cx="519.71" cy="78.59" r="1.85"/><circle cx="521.77" cy="78.8" r="1.85"/><circle cx="523.89" cy="83.81" r="1.85"/><circle cx="526.06" cy="84.28" r="1.85"/><circle cx="528.31" cy="84.78" r="1.85"/><circle cx="530.62" cy="86.18" r="1.85"/><circle cx="533" cy="89.14" r="1.85"/><circle cx="535.46" cy="88.46" r="1.85"/><circle cx="537.98" cy="91.62" r="1.85"/><circle cx="540.59" cy="96.13" r="1.85"/><circle cx="543.27" cy="97.54" r="1.85"/><circle cx="546.03" cy="95.91" r="1.85"/><circle cx="548.87" cy="98.52" r="1.85"/><circle cx="551.8" cy="105.92" r="1.85"/><circle cx="554.82" cy="100.94" r="1.85"/><circle cx="557.93" cy="105.55" r="1.85"/><circle cx="561.13" cy="106.79" r="1.85"/><circle cx="564.43" cy="114.4" r="1.85"/><circle cx="567.82" cy="117.17" r="1.85"/><circle cx="571.32" cy="122.57" r="1.85"/><circle cx="574.92" cy="114.61" r="1.85"/><circle cx="578.63" cy="125.11" r="1.85"/><circle cx="582.45" cy="121.64" r="1.85"/><circle cx="586.39" cy="130.82" r="1.85"/><circle cx="590.45" cy="129.4" r="1.85"/><circle cx="594.62" cy="136.93" r="1.85"/><circle cx="598.92" cy="133.04" r="1.85"/><circle cx="603.36" cy="127.99" r="1.85"/><circle cx="607.92" cy="136.83" r="1.85"/><circle cx="612.62" cy="127.33" r="1.85"/><circle cx="617.46" cy="130.79" r="1.85"/><circle cx="622.45" cy="138.58" r="1.85"/><circle cx="627.58" cy="136.96" r="1.85"/><circle cx="632.88" cy="135.2" r="1.85"/></g>
<g fill="#e57a43"><circle cx="459.14" cy="182.95" r="1.85"/><circle cx="459.38" cy="182.03" r="1.85"/><circle cx="459.63" cy="180.83" r="1.85"/><circle cx="459.88" cy="179.1" r="1.85"/><circle cx="460.14" cy="177.06" r="1.85"/><circle cx="460.41" cy="174.06" r="1.85"/><circle cx="460.68" cy="169.83" r="1.85"/><circle cx="460.96" cy="165.22" r="1.85"/><circle cx="461.26" cy="161.59" r="1.85"/><circle cx="461.56" cy="156.39" r="1.85"/><circle cx="461.87" cy="152.24" r="1.85"/><circle cx="462.19" cy="148.53" r="1.85"/><circle cx="462.51" cy="144.42" r="1.85"/><circle cx="462.85" cy="141.59" r="1.85"/><circle cx="463.2" cy="137.52" r="1.85"/><circle cx="463.56" cy="135.15" r="1.85"/><circle cx="463.93" cy="131.49" r="1.85"/><circle cx="464.31" cy="128.55" r="1.85"/><circle cx="464.7" cy="125.61" r="1.85"/><circle cx="465.11" cy="121.96" r="1.85"/><circle cx="465.53" cy="119.11" r="1.85"/><circle cx="465.95" cy="115.69" r="1.85"/><circle cx="466.4" cy="112.84" r="1.85"/><circle cx="466.85" cy="110.16" r="1.85"/><circle cx="467.32" cy="106.77" r="1.85"/><circle cx="467.8" cy="103.78" r="1.85"/><circle cx="468.3" cy="100.59" r="1.85"/><circle cx="468.81" cy="98.51" r="1.85"/><circle cx="469.34" cy="95.37" r="1.85"/><circle cx="469.88" cy="93.29" r="1.85"/><circle cx="470.44" cy="89.81" r="1.85"/><circle cx="471.02" cy="88.16" r="1.85"/><circle cx="471.61" cy="86.45" r="1.85"/><circle cx="472.22" cy="84.02" r="1.85"/><circle cx="472.85" cy="81.96" r="1.85"/><circle cx="473.5" cy="81.47" r="1.85"/><circle cx="474.17" cy="79.84" r="1.85"/><circle cx="474.86" cy="78.19" r="1.85"/><circle cx="475.57" cy="76.72" r="1.85"/><circle cx="476.3" cy="74.62" r="1.85"/><circle cx="477.05" cy="73.9" r="1.85"/><circle cx="477.82" cy="73.21" r="1.85"/><circle cx="478.62" cy="72.18" r="1.85"/><circle cx="479.44" cy="72.29" r="1.85"/><circle cx="480.29" cy="71.64" r="1.85"/><circle cx="481.16" cy="72.27" r="1.85"/><circle cx="482.06" cy="72.71" r="1.85"/><circle cx="482.99" cy="73.54" r="1.85"/><circle cx="483.94" cy="72.9" r="1.85"/><circle cx="484.92" cy="74.66" r="1.85"/><circle cx="485.93" cy="75.43" r="1.85"/><circle cx="486.97" cy="76.58" r="1.85"/><circle cx="488.04" cy="77.98" r="1.85"/><circle cx="489.15" cy="79.84" r="1.85"/><circle cx="490.29" cy="81.06" r="1.85"/><circle cx="491.46" cy="83.95" r="1.85"/><circle cx="492.66" cy="85.38" r="1.85"/><circle cx="493.91" cy="86.07" r="1.85"/><circle cx="495.19" cy="87.06" r="1.85"/><circle cx="496.51" cy="86.78" r="1.85"/><circle cx="497.86" cy="87.14" r="1.85"/><circle cx="499.26" cy="88.15" r="1.85"/><circle cx="500.7" cy="88.29" r="1.85"/><circle cx="502.19" cy="87.46" r="1.85"/><circle cx="503.72" cy="86.02" r="1.85"/><circle cx="505.29" cy="88.5" r="1.85"/><circle cx="506.91" cy="85.73" r="1.85"/><circle cx="508.58" cy="86.37" r="1.85"/><circle cx="510.31" cy="84.12" r="1.85"/><circle cx="512.08" cy="85.24" r="1.85"/><circle cx="513.9" cy="83.83" r="1.85"/><circle cx="515.78" cy="84.38" r="1.85"/><circle cx="517.72" cy="83.84" r="1.85"/><circle cx="519.71" cy="81.95" r="1.85"/><circle cx="521.77" cy="83.31" r="1.85"/><circle cx="523.89" cy="85.59" r="1.85"/><circle cx="526.06" cy="87.5" r="1.85"/><circle cx="528.31" cy="90.36" r="1.85"/><circle cx="530.62" cy="90.02" r="1.85"/><circle cx="533" cy="91.03" r="1.85"/><circle cx="535.46" cy="92.63" r="1.85"/><circle cx="537.98" cy="94.23" r="1.85"/><circle cx="540.59" cy="97.48" r="1.85"/><circle cx="543.27" cy="97.69" r="1.85"/><circle cx="546.03" cy="99.59" r="1.85"/><circle cx="548.87" cy="99.36" r="1.85"/><circle cx="551.8" cy="100.36" r="1.85"/><circle cx="554.82" cy="106.09" r="1.85"/><circle cx="557.93" cy="109.52" r="1.85"/><circle cx="561.13" cy="110.45" r="1.85"/><circle cx="564.43" cy="113.92" r="1.85"/><circle cx="567.82" cy="116.7" r="1.85"/><circle cx="571.32" cy="117.8" r="1.85"/><circle cx="574.92" cy="122.68" r="1.85"/><circle cx="578.63" cy="121.2" r="1.85"/><circle cx="582.45" cy="125.27" r="1.85"/><circle cx="586.39" cy="126.57" r="1.85"/><circle cx="590.45" cy="129.57" r="1.85"/><circle cx="594.62" cy="132.75" r="1.85"/><circle cx="598.92" cy="134.85" r="1.85"/><circle cx="603.36" cy="133.6" r="1.85"/><circle cx="607.92" cy="134.95" r="1.85"/><circle cx="612.62" cy="132.8" r="1.85"/><circle cx="617.46" cy="134.22" r="1.85"/><circle cx="622.45" cy="139.93" r="1.85"/><circle cx="627.58" cy="135.37" r="1.85"/><circle cx="632.88" cy="139.48" r="1.85"/></g>
<g fill="#ec9058"><circle cx="459.14" cy="183.24" r="1.85"/><circle cx="459.38" cy="181.98" r="1.85"/><circle cx="459.63" cy="181.33" r="1.85"/><circle cx="459.88" cy="178.91" r="1.85"/><circle cx="460.14" cy="176.41" r="1.85"/><circle cx="460.41" cy="173.13" r="1.85"/><circle cx="460.68" cy="169.09" r="1.85"/><circle cx="460.96" cy="164.36" r="1.85"/><circle cx="461.26" cy="159.56" r="1.85"/><circle cx="461.56" cy="154.22" r="1.85"/><circle cx="461.87" cy="149.55" r="1.85"/><circle cx="462.19" cy="145.24" r="1.85"/><circle cx="462.51" cy="142.23" r="1.85"/><circle cx="462.85" cy="138.27" r="1.85"/><circle cx="463.2" cy="134.99" r="1.85"/><circle cx="463.56" cy="131.86" r="1.85"/><circle cx="463.93" cy="128.8" r="1.85"/><circle cx="464.31" cy="125.3" r="1.85"/><circle cx="464.7" cy="123.05" r="1.85"/><circle cx="465.11" cy="119.13" r="1.85"/><circle cx="465.53" cy="116.07" r="1.85"/><circle cx="465.95" cy="112.91" r="1.85"/><circle cx="466.4" cy="109.73" r="1.85"/><circle cx="466.85" cy="107.03" r="1.85"/><circle cx="467.32" cy="103.85" r="1.85"/><circle cx="467.8" cy="100.6" r="1.85"/><circle cx="468.3" cy="97.92" r="1.85"/><circle cx="468.81" cy="95.33" r="1.85"/><circle cx="469.34" cy="93.34" r="1.85"/><circle cx="469.88" cy="90" r="1.85"/><circle cx="470.44" cy="87.38" r="1.85"/><circle cx="471.02" cy="85.33" r="1.85"/><circle cx="471.61" cy="83.85" r="1.85"/><circle cx="472.22" cy="82.99" r="1.85"/><circle cx="472.85" cy="80.64" r="1.85"/><circle cx="473.5" cy="79.76" r="1.85"/><circle cx="474.17" cy="79.39" r="1.85"/><circle cx="474.86" cy="76.89" r="1.85"/><circle cx="475.57" cy="76.09" r="1.85"/><circle cx="476.3" cy="74.6" r="1.85"/><circle cx="477.05" cy="73.29" r="1.85"/><circle cx="477.82" cy="72.06" r="1.85"/><circle cx="478.62" cy="72.33" r="1.85"/><circle cx="479.44" cy="71.82" r="1.85"/><circle cx="480.29" cy="71.13" r="1.85"/><circle cx="481.16" cy="71.3" r="1.85"/><circle cx="482.06" cy="72.4" r="1.85"/><circle cx="482.99" cy="73.18" r="1.85"/><circle cx="483.94" cy="74.54" r="1.85"/><circle cx="484.92" cy="75.44" r="1.85"/><circle cx="485.93" cy="76.21" r="1.85"/><circle cx="486.97" cy="77.45" r="1.85"/><circle cx="488.04" cy="79.16" r="1.85"/><circle cx="489.15" cy="80.75" r="1.85"/><circle cx="490.29" cy="83.49" r="1.85"/><circle cx="491.46" cy="85.17" r="1.85"/><circle cx="492.66" cy="86.43" r="1.85"/><circle cx="493.91" cy="87.82" r="1.85"/><circle cx="495.19" cy="88.96" r="1.85"/><circle cx="496.51" cy="90.4" r="1.85"/><circle cx="497.86" cy="91.47" r="1.85"/><circle cx="499.26" cy="91.3" r="1.85"/><circle cx="500.7" cy="91.99" r="1.85"/><circle cx="502.19" cy="92.36" r="1.85"/><circle cx="503.72" cy="91.16" r="1.85"/><circle cx="505.29" cy="91.5" r="1.85"/><circle cx="506.91" cy="91.04" r="1.85"/><circle cx="508.58" cy="91.85" r="1.85"/><circle cx="510.31" cy="90.46" r="1.85"/><circle cx="512.08" cy="89.99" r="1.85"/><circle cx="513.9" cy="89.26" r="1.85"/><circle cx="515.78" cy="89.52" r="1.85"/><circle cx="517.72" cy="87.92" r="1.85"/><circle cx="519.71" cy="87.12" r="1.85"/><circle cx="521.77" cy="87.91" r="1.85"/><circle cx="523.89" cy="89.31" r="1.85"/><circle cx="526.06" cy="89.48" r="1.85"/><circle cx="528.31" cy="89.51" r="1.85"/><circle cx="530.62" cy="93.82" r="1.85"/><circle cx="533" cy="92.52" r="1.85"/><circle cx="535.46" cy="93.43" r="1.85"/><circle cx="537.98" cy="95.07" r="1.85"/><circle cx="540.59" cy="95.75" r="1.85"/><circle cx="543.27" cy="98.17" r="1.85"/><circle cx="546.03" cy="101.07" r="1.85"/><circle cx="548.87" cy="103.11" r="1.85"/><circle cx="551.8" cy="104.57" r="1.85"/><circle cx="554.82" cy="108.51" r="1.85"/><circle cx="557.93" cy="110.11" r="1.85"/><circle cx="561.13" cy="111.07" r="1.85"/><circle cx="564.43" cy="111.7" r="1.85"/><circle cx="567.82" cy="116.99" r="1.85"/><circle cx="571.32" cy="118.72" r="1.85"/><circle cx="574.92" cy="120.21" r="1.85"/><circle cx="578.63" cy="120.32" r="1.85"/><circle cx="582.45" cy="125.26" r="1.85"/><circle cx="586.39" cy="125.12" r="1.85"/><circle cx="590.45" cy="131.92" r="1.85"/><circle cx="594.62" cy="132.19" r="1.85"/><circle cx="598.92" cy="133.74" r="1.85"/><circle cx="603.36" cy="132.76" r="1.85"/><circle cx="607.92" cy="132.97" r="1.85"/><circle cx="612.62" cy="139.35" r="1.85"/><circle cx="617.46" cy="138.6" r="1.85"/><circle cx="622.45" cy="136.1" r="1.85"/><circle cx="627.58" cy="138.71" r="1.85"/><circle cx="632.88" cy="140.17" r="1.85"/></g>
<rect x="556.9" y="29.5" width="116.4" height="30.7" fill="#fff" stroke="#6f6f6f" stroke-width="0.8"/>
<circle cx="562.4" cy="37.8" r="2.3" fill="#4cb8d6"/>
<circle cx="566.4" cy="37.8" r="2.3" fill="#22a6dc"/>
<circle cx="570.4" cy="37.8" r="2.3" fill="#2f86cc"/>
<circle cx="562.4" cy="52.2" r="2.3" fill="#ec9058"/>
<circle cx="566.4" cy="52.2" r="2.3" fill="#e57a43"/>
<circle cx="570.4" cy="52.2" r="2.3" fill="#d9642f"/>
<text x="580.4" y="41.8" font-size="12.9" text-anchor="start" fill="#262626">N 1 - 3 mg/mL</text>
<text x="580.4" y="56" font-size="12.9" text-anchor="start" fill="#262626">pN 1 - 3 mg/mL</text>
<text x="7" y="229.1" font-size="12.5" text-anchor="start" fill="#1a1a1a" font-weight="bold">d</text>
<text x="159.5" y="235.5" font-size="13.1" text-anchor="middle" fill="#2a2a2a">Unmodified Nucleocapsid (N)</text>
<text x="347" y="229.1" font-size="12.5" text-anchor="start" fill="#1a1a1a" font-weight="bold">e</text>
<text x="529.6" y="235.1" font-size="13.1" text-anchor="middle" fill="#2a2a2a">Phosphorylated Nucleocapsid (pN)</text>
<polygon points="15.47,255.33 25.33,249.85 34.09,253.14 42.84,258.61 45.03,255.33 53.79,253.14 62.55,255.33 73.5,261.9 80.07,266.28 84.45,270.65 88.83,278.32 92.11,283.79 95.4,291.46 98.02,295.84 99.77,289.27 100.87,277.22 104.15,269.56 110.72,267.37 117.29,269.56 121.67,272.84 126.05,269.56 134.81,266.28 143.57,267.37 149.04,272.84 151.23,281.6 147.95,290.36 141.38,291.46 132.62,287.08 126.05,282.7 121.67,280.51 115.1,288.17 112.91,301.31 110.72,310.07 101.96,315.54 95.4,317.73 86.64,312.26 80.07,305.69 73.5,299.12 71.31,292.55 72.4,285.98 66.93,282.7 60.36,278.32 51.6,272.84 42.84,270.65 36.28,267.37 28.61,270.65 23.14,270.65 17.66,265.18 15.47,259.71" fill="url(#hatch)" stroke="none" stroke-width="1"/>
<polygon points="389.67,284.53 396.68,275.77 406.02,274.01 410.11,282.19 407.19,291.53 406.02,297.37 402.52,300.88 395.51,300.29 392.01,296.2 390.26,289.2" fill="url(#hatch2)" stroke="none" stroke-width="1"/>
<polygon points="411.28,285.11 413.61,271.68 418.87,267.01 424.12,271.09 429.38,275.18 425.88,279.85 420.04,285.69 416.53,288.03" fill="url(#hatch2)" stroke="none" stroke-width="1"/>
<polygon points="429.38,278.69 434.05,272.85 439.89,268.18 445.73,269.93 452.74,271.09 457.41,270.51 457.99,281.02 450.4,282.19 441.06,284.53 434.05,283.36" fill="url(#hatch2)" stroke="none" stroke-width="1"/>
<path d="M456.24,271.09 L459.96,264.89 L464.93,259.93 L471.13,255.58 L478.57,256.2 L484.78,261.17 L488.5,267.37 L488.5,277.3 L490.36,287.22 L490.98,294.67 L486.02,302.11 L477.33,307.07 L469.89,305.83 L464.93,299.63 L459.96,290.94 L456.86,282.26 Z M469.27,279.78 L471.13,287.22 L473.61,293.42 L477.95,292.18 L479.81,287.22 L479.19,277.3 L476.71,271.71 L471.13,271.09 L467.41,273.57 Z" fill="url(#hatch3)" fill-rule="evenodd"/>
<polygon points="489.74,266.13 497.18,261.17 505.87,256.2 515.79,258.68 522,264.89 529.44,266.13 533.78,277.3 529.44,282.26 522,285.98 514.55,292.18 509.59,289.7 502.15,283.5 497.18,278.54 492.22,272.33" fill="url(#hatch4)" stroke="none" stroke-width="1"/>
<polyline points="175.9,250.9 177.29,252.35 179.15,252.66 181,253 182.03,254.09 183.66,254.22 184.7,255.3 185.23,256.97 187.03,257.37 187.4,259.2 189.1,259.7" stroke="#ababab" stroke-width="2.6" fill="none" stroke-linejoin="round" stroke-linecap="round"/>
<g><circle cx="175.24" cy="250.28" r="1.09" fill="#858585"/><circle cx="176.61" cy="252.67" r="1.09" fill="#858585"/><circle cx="178.12" cy="252.65" r="1.09" fill="#858585"/><circle cx="181.2" cy="252.45" r="1.09" fill="#858585"/><circle cx="182.76" cy="255.57" r="1.09" fill="#bfbfbf"/><circle cx="183.62" cy="254.37" r="1.09" fill="#858585"/><circle cx="184.66" cy="254.76" r="1.09" fill="#858585"/><circle cx="185.75" cy="256.41" r="1.09" fill="#bfbfbf"/><circle cx="186.01" cy="257.97" r="1.09" fill="#858585"/><circle cx="187.3" cy="259.36" r="1.09" fill="#858585"/><circle cx="188.86" cy="260.06" r="1.09" fill="#bfbfbf"/></g>
<polyline points="292,248.8 293.11,249.94 294.42,250.95 293.91,253.19 295.54,253.99 296.4,255.3 295.87,256.84 294.66,257.83 293.61,258.94 292.5,260 291.71,261.98 292,264.1" stroke="#ababab" stroke-width="2.6" fill="none" stroke-linejoin="round" stroke-linecap="round"/>
<g><circle cx="290.84" cy="248.04" r="1.09" fill="#858585"/><circle cx="295.09" cy="250.74" r="1.09" fill="#858585"/><circle cx="294.88" cy="252.73" r="1.09" fill="#bfbfbf"/><circle cx="293.7" cy="253.84" r="1.09" fill="#bfbfbf"/><circle cx="295.77" cy="253.49" r="1.09" fill="#858585"/><circle cx="297.6" cy="255.64" r="1.09" fill="#858585"/><circle cx="294.35" cy="257.34" r="1.09" fill="#bfbfbf"/><circle cx="294.8" cy="258.51" r="1.09" fill="#858585"/><circle cx="292.02" cy="259.55" r="1.09" fill="#858585"/><circle cx="291.99" cy="260.24" r="1.09" fill="#bfbfbf"/><circle cx="290.08" cy="263.23" r="1.09" fill="#858585"/><circle cx="292.81" cy="265.54" r="1.09" fill="#bfbfbf"/></g>
<polyline points="235.1,298 235.39,299.99 233.96,300.74 233.31,302.05 232.02,302.9 230.8,303.8 230,305 231,307.12 228.74,308.26 228.5,310 227.22,311.34 225.64,310.1 224.26,310.58 222.86,310.91 221.42,310.89 220,311 218.32,311.01 216.72,310.66 214.94,311.07 213.67,309.42 212.1,309" stroke="#ababab" stroke-width="2.6" fill="none" stroke-linejoin="round" stroke-linecap="round"/>
<g><circle cx="236.44" cy="299.44" r="1.09" fill="#bfbfbf"/><circle cx="235.86" cy="299.22" r="1.09" fill="#858585"/><circle cx="234.06" cy="300.62" r="1.09" fill="#bfbfbf"/><circle cx="233.28" cy="301.8" r="1.09" fill="#bfbfbf"/><circle cx="230.98" cy="302.81" r="1.09" fill="#bfbfbf"/><circle cx="230.46" cy="304.06" r="1.09" fill="#bfbfbf"/><circle cx="230.86" cy="304.93" r="1.09" fill="#858585"/><circle cx="231.48" cy="307.41" r="1.09" fill="#858585"/><circle cx="230.39" cy="307.5" r="1.09" fill="#858585"/><circle cx="228.21" cy="310.49" r="1.09" fill="#858585"/><circle cx="227.23" cy="310.43" r="1.09" fill="#858585"/><circle cx="226.86" cy="311.73" r="1.09" fill="#858585"/><circle cx="225.48" cy="310.13" r="1.09" fill="#bfbfbf"/><circle cx="223.66" cy="310.14" r="1.09" fill="#bfbfbf"/><circle cx="221.28" cy="309.8" r="1.09" fill="#bfbfbf"/><circle cx="220.09" cy="311.23" r="1.09" fill="#bfbfbf"/><circle cx="217.94" cy="309.84" r="1.09" fill="#bfbfbf"/><circle cx="215.73" cy="309.85" r="1.09" fill="#bfbfbf"/><circle cx="214.32" cy="309.44" r="1.09" fill="#bfbfbf"/><circle cx="213.66" cy="309.76" r="1.09" fill="#858585"/><circle cx="212.56" cy="309.03" r="1.09" fill="#bfbfbf"/></g>
<polyline points="251.5,301.3 252.11,302.67 253,303.83 253.87,305.02 255,306 256.79,306.63 256.79,308.45 257.69,309.67 258.23,311.13 259.2,312.3 260.97,312.81 260.11,315.45 261.99,315.88 263,317 264.71,317.71 265.97,318.75 266.03,320.69 266.8,322.1" stroke="#ababab" stroke-width="2.6" fill="none" stroke-linejoin="round" stroke-linecap="round"/>
<g><circle cx="251.43" cy="300.78" r="1.09" fill="#bfbfbf"/><circle cx="251.78" cy="303.25" r="1.09" fill="#bfbfbf"/><circle cx="253.26" cy="304.94" r="1.09" fill="#bfbfbf"/><circle cx="253.7" cy="305.17" r="1.09" fill="#bfbfbf"/><circle cx="256.49" cy="305.49" r="1.09" fill="#858585"/><circle cx="256.76" cy="306.72" r="1.09" fill="#bfbfbf"/><circle cx="256.86" cy="307.49" r="1.09" fill="#bfbfbf"/><circle cx="257.7" cy="310.64" r="1.09" fill="#bfbfbf"/><circle cx="257.63" cy="311.63" r="1.09" fill="#858585"/><circle cx="260.85" cy="312.6" r="1.09" fill="#858585"/><circle cx="261.07" cy="313.5" r="1.09" fill="#858585"/><circle cx="259.64" cy="316.53" r="1.09" fill="#858585"/><circle cx="262.75" cy="315.51" r="1.09" fill="#858585"/><circle cx="262.68" cy="316.94" r="1.09" fill="#858585"/><circle cx="265.27" cy="317.35" r="1.09" fill="#bfbfbf"/><circle cx="266.21" cy="319.73" r="1.09" fill="#858585"/><circle cx="264.75" cy="320.37" r="1.09" fill="#858585"/><circle cx="266.88" cy="323.06" r="1.09" fill="#858585"/></g>
<polyline points="195.7,268.5 195.6,270.16 197.76,270.87 196.7,272.93 198,274 196.73,276.01 198.35,276.94 199.29,278.13 200,279.4 201.3,280.34 201.92,282.43 204.55,281.16 205.5,282.7 206.32,281.3 207.64,280.25 208.76,279.05 208.77,277.12 210,276 211.12,274.91 211.6,273.35 212.79,272.31 213.5,270.93 213.67,269.15 215.4,268.5 216.31,269.61 216.58,271.24 218.78,271.33 219,273 220.15,274.28 220.44,276.14 221.9,277.2 223.68,277.62 223.98,279.52 225.87,279.83 225.58,282.32 225.93,284.17 228.5,283.8 228.06,286.08 230.54,285.87 230.82,287.53 232.19,288.27 233.14,289.36 233.1,291.31 235.1,291.5" stroke="#44a45a" stroke-width="3.0" fill="none" stroke-linejoin="round" stroke-linecap="round"/>
<g><circle cx="194.59" cy="269.39" r="1.26" fill="#4cb764"/><circle cx="196.78" cy="270.3" r="1.26" fill="#357f46"/><circle cx="197.38" cy="271.28" r="1.26" fill="#4cb764"/><circle cx="197.72" cy="271.32" r="1.26" fill="#4cb764"/><circle cx="197.72" cy="273.73" r="1.26" fill="#4cb764"/><circle cx="197.9" cy="275.12" r="1.26" fill="#4cb764"/><circle cx="196.37" cy="275.48" r="1.26" fill="#4cb764"/><circle cx="196.62" cy="277.62" r="1.26" fill="#4cb764"/><circle cx="198.04" cy="278.78" r="1.26" fill="#357f46"/><circle cx="198.75" cy="278.81" r="1.26" fill="#4cb764"/><circle cx="202.07" cy="279.81" r="1.26" fill="#357f46"/><circle cx="202.29" cy="281.1" r="1.26" fill="#357f46"/><circle cx="202.64" cy="281.62" r="1.26" fill="#4cb764"/><circle cx="204.2" cy="281.38" r="1.26" fill="#357f46"/><circle cx="204.82" cy="283.11" r="1.26" fill="#4cb764"/><circle cx="206.76" cy="282.82" r="1.26" fill="#4cb764"/><circle cx="209.06" cy="279.95" r="1.26" fill="#4cb764"/><circle cx="208.07" cy="281.07" r="1.26" fill="#357f46"/><circle cx="207.12" cy="277.21" r="1.26" fill="#357f46"/><circle cx="209.98" cy="277.24" r="1.26" fill="#357f46"/><circle cx="210.9" cy="276.05" r="1.26" fill="#357f46"/><circle cx="212.22" cy="272.24" r="1.26" fill="#4cb764"/><circle cx="211.35" cy="273.62" r="1.26" fill="#4cb764"/><circle cx="212.45" cy="271.84" r="1.26" fill="#4cb764"/><circle cx="212.83" cy="268.64" r="1.26" fill="#4cb764"/><circle cx="214.87" cy="269.72" r="1.26" fill="#4cb764"/><circle cx="216.68" cy="269" r="1.26" fill="#357f46"/><circle cx="216.93" cy="271.33" r="1.26" fill="#357f46"/><circle cx="217.21" cy="271.14" r="1.26" fill="#357f46"/><circle cx="218.06" cy="272.47" r="1.26" fill="#4cb764"/><circle cx="219.55" cy="272.49" r="1.26" fill="#4cb764"/><circle cx="220.5" cy="274.09" r="1.26" fill="#4cb764"/><circle cx="220.74" cy="277.57" r="1.26" fill="#4cb764"/><circle cx="221.16" cy="276.75" r="1.26" fill="#357f46"/><circle cx="223.34" cy="277.57" r="1.26" fill="#4cb764"/><circle cx="222.36" cy="278.65" r="1.26" fill="#4cb764"/><circle cx="225.25" cy="279.06" r="1.26" fill="#4cb764"/><circle cx="225.61" cy="280.74" r="1.26" fill="#357f46"/><circle cx="224.13" cy="281.25" r="1.26" fill="#4cb764"/><circle cx="225.04" cy="285.11" r="1.26" fill="#4cb764"/><circle cx="227.7" cy="282.84" r="1.26" fill="#357f46"/><circle cx="228.18" cy="284.03" r="1.26" fill="#4cb764"/><circle cx="229.61" cy="285.86" r="1.26" fill="#4cb764"/><circle cx="228.49" cy="286.47" r="1.26" fill="#4cb764"/><circle cx="231.3" cy="286.24" r="1.26" fill="#4cb764"/><circle cx="229.49" cy="287.46" r="1.26" fill="#4cb764"/><circle cx="232.2" cy="287.96" r="1.26" fill="#4cb764"/><circle cx="231.97" cy="290.12" r="1.26" fill="#4cb764"/><circle cx="234.42" cy="290.41" r="1.26" fill="#357f46"/><circle cx="234.76" cy="292.34" r="1.26" fill="#4cb764"/></g>
<polyline points="254.8,293.6 255.26,292.11 257.26,291.95 258.18,290.85 258.26,289.04 258.68,287.52 259.31,286.18 261.3,286 262.43,284.69 263.22,282.72 265.89,284.35 267,283 268.62,281.99 270.64,282.49 272.3,281.6 272.33,283.93 273.93,284.57 276.53,284.14 277,286 277.42,287.63 278.23,288.9 280.5,288.85 281,290.4 282.59,291.22 282.84,292.94 284.83,293.49 283.42,296.34 285.4,296.9 284.98,294.27 286.9,294.02 288.53,293.48 289.66,292.42 291,291.59 292,290.4 292.38,288.91 292.08,287.36 293.43,285.96 290.63,284.18 292.69,282.84 292.18,281.27 293.08,279.82 293.1,278.3" stroke="#44a45a" stroke-width="3.0" fill="none" stroke-linejoin="round" stroke-linecap="round"/>
<g><circle cx="254.99" cy="292.83" r="1.26" fill="#4cb764"/><circle cx="256.02" cy="292.4" r="1.26" fill="#357f46"/><circle cx="258.73" cy="293.91" r="1.26" fill="#4cb764"/><circle cx="258.42" cy="292.97" r="1.26" fill="#4cb764"/><circle cx="257.25" cy="289.39" r="1.26" fill="#4cb764"/><circle cx="258.2" cy="287.42" r="1.26" fill="#4cb764"/><circle cx="260.03" cy="285.84" r="1.26" fill="#357f46"/><circle cx="260.05" cy="285.98" r="1.26" fill="#4cb764"/><circle cx="262.07" cy="285.81" r="1.26" fill="#357f46"/><circle cx="263.35" cy="283.74" r="1.26" fill="#4cb764"/><circle cx="263.87" cy="282.93" r="1.26" fill="#357f46"/><circle cx="264.48" cy="285.17" r="1.26" fill="#4cb764"/><circle cx="265.95" cy="283.1" r="1.26" fill="#4cb764"/><circle cx="267.98" cy="281.87" r="1.26" fill="#4cb764"/><circle cx="268.68" cy="280.25" r="1.26" fill="#4cb764"/><circle cx="269.24" cy="282.3" r="1.26" fill="#4cb764"/><circle cx="272.85" cy="280.58" r="1.26" fill="#4cb764"/><circle cx="273.81" cy="283.63" r="1.26" fill="#357f46"/><circle cx="272.91" cy="285.22" r="1.26" fill="#4cb764"/><circle cx="276.03" cy="284.52" r="1.26" fill="#357f46"/><circle cx="277.06" cy="283.67" r="1.26" fill="#4cb764"/><circle cx="276.99" cy="285" r="1.26" fill="#357f46"/><circle cx="277.44" cy="289.37" r="1.26" fill="#357f46"/><circle cx="276.95" cy="288.12" r="1.26" fill="#4cb764"/><circle cx="279.67" cy="289.23" r="1.26" fill="#4cb764"/><circle cx="280.39" cy="289.09" r="1.26" fill="#4cb764"/><circle cx="281.12" cy="291.31" r="1.26" fill="#4cb764"/><circle cx="281.86" cy="291.77" r="1.26" fill="#357f46"/><circle cx="284.03" cy="292.66" r="1.26" fill="#4cb764"/><circle cx="283.13" cy="292.87" r="1.26" fill="#357f46"/><circle cx="282.09" cy="295.04" r="1.26" fill="#4cb764"/><circle cx="283.62" cy="295.81" r="1.26" fill="#357f46"/><circle cx="285.37" cy="296.7" r="1.26" fill="#4cb764"/><circle cx="284.99" cy="294.41" r="1.26" fill="#4cb764"/><circle cx="285.96" cy="294.71" r="1.26" fill="#4cb764"/><circle cx="286.98" cy="294.63" r="1.26" fill="#357f46"/><circle cx="289.82" cy="294.33" r="1.26" fill="#357f46"/><circle cx="290" cy="292.81" r="1.26" fill="#4cb764"/><circle cx="291.6" cy="290.64" r="1.26" fill="#357f46"/><circle cx="290.73" cy="288.91" r="1.26" fill="#357f46"/><circle cx="292.96" cy="288.87" r="1.26" fill="#357f46"/><circle cx="292.59" cy="285.96" r="1.26" fill="#4cb764"/><circle cx="292.65" cy="286.1" r="1.26" fill="#4cb764"/><circle cx="291.28" cy="284.67" r="1.26" fill="#4cb764"/><circle cx="290.48" cy="282.58" r="1.26" fill="#357f46"/><circle cx="293.69" cy="283.09" r="1.26" fill="#357f46"/><circle cx="292.76" cy="282.42" r="1.26" fill="#4cb764"/><circle cx="292.44" cy="279.66" r="1.26" fill="#4cb764"/><circle cx="293.64" cy="279.29" r="1.26" fill="#4cb764"/></g>
<ellipse cx="192.6" cy="265.6" rx="6.72" ry="5.08" fill="#84abe2"/>
<g><circle cx="191.41" cy="266.88" r="1.05" fill="#8ab3ed"/><circle cx="193.57" cy="265.47" r="1.05" fill="#8ab3ed"/><circle cx="194.89" cy="269.06" r="1.05" fill="#8ab3ed"/><circle cx="186.95" cy="261.86" r="1.05" fill="#8ab3ed"/><circle cx="187.62" cy="268.62" r="1.05" fill="#8ab3ed"/><circle cx="188.7" cy="267.39" r="1.05" fill="#8ab3ed"/><circle cx="191.88" cy="268.35" r="1.05" fill="#7193c2"/><circle cx="188.8" cy="266.73" r="1.05" fill="#8ab3ed"/><circle cx="195.15" cy="262.87" r="1.05" fill="#8ab3ed"/><circle cx="196.3" cy="263.63" r="1.05" fill="#8ab3ed"/><circle cx="186.9" cy="267.2" r="1.05" fill="#8ab3ed"/><circle cx="197.37" cy="269.89" r="1.05" fill="#8ab3ed"/><circle cx="194.31" cy="261.24" r="1.05" fill="#8ab3ed"/><circle cx="189.67" cy="269.86" r="1.05" fill="#7193c2"/><circle cx="186.38" cy="265.34" r="1.05" fill="#7193c2"/><circle cx="198.82" cy="267.5" r="1.05" fill="#8ab3ed"/><circle cx="190.44" cy="262.81" r="1.05" fill="#8ab3ed"/><circle cx="197.91" cy="267.94" r="1.05" fill="#8ab3ed"/><circle cx="188.86" cy="263.04" r="1.05" fill="#7193c2"/><circle cx="191.82" cy="261.76" r="1.05" fill="#8ab3ed"/><circle cx="191.13" cy="266.87" r="1.05" fill="#8ab3ed"/><circle cx="187.41" cy="261.78" r="1.05" fill="#8ab3ed"/><circle cx="198.81" cy="267.36" r="1.05" fill="#7193c2"/><circle cx="191.09" cy="262.28" r="1.05" fill="#7193c2"/><circle cx="187.12" cy="265.91" r="1.05" fill="#8ab3ed"/><circle cx="188.58" cy="262.02" r="1.05" fill="#7193c2"/><circle cx="190.65" cy="262.59" r="1.05" fill="#8ab3ed"/><circle cx="187.12" cy="266.68" r="1.05" fill="#7193c2"/><circle cx="189.06" cy="265.62" r="1.05" fill="#7193c2"/><circle cx="198.07" cy="267.67" r="1.05" fill="#8ab3ed"/><circle cx="191.11" cy="267.06" r="1.05" fill="#8ab3ed"/><circle cx="197.57" cy="269.46" r="1.05" fill="#7193c2"/><circle cx="189.17" cy="268.66" r="1.05" fill="#7193c2"/><circle cx="190.94" cy="268.32" r="1.05" fill="#8ab3ed"/><circle cx="197.13" cy="265.3" r="1.05" fill="#8ab3ed"/><circle cx="196.25" cy="268.95" r="1.05" fill="#8ab3ed"/><circle cx="190.98" cy="270.62" r="1.05" fill="#8ab3ed"/><circle cx="195.32" cy="267.9" r="1.05" fill="#8ab3ed"/><circle cx="198.49" cy="265.39" r="1.05" fill="#8ab3ed"/><circle cx="199.06" cy="265.11" r="1.05" fill="#8ab3ed"/><circle cx="193.43" cy="269.02" r="1.05" fill="#8ab3ed"/><circle cx="196.31" cy="264.2" r="1.05" fill="#7193c2"/><circle cx="198.84" cy="266.26" r="1.05" fill="#8ab3ed"/><circle cx="193.68" cy="262.97" r="1.05" fill="#8ab3ed"/><circle cx="190.21" cy="262.16" r="1.05" fill="#7193c2"/><circle cx="187.26" cy="268.42" r="1.05" fill="#7193c2"/><circle cx="196.93" cy="267.68" r="1.05" fill="#7193c2"/><circle cx="194.73" cy="260.7" r="1.05" fill="#8ab3ed"/><circle cx="195.84" cy="261.72" r="1.05" fill="#7193c2"/><circle cx="195.45" cy="261.24" r="1.05" fill="#8ab3ed"/><circle cx="190.37" cy="260.68" r="1.05" fill="#7193c2"/><circle cx="190.06" cy="261.97" r="1.05" fill="#7193c2"/><circle cx="191.22" cy="267.59" r="1.05" fill="#8ab3ed"/><circle cx="189.28" cy="268.32" r="1.05" fill="#8ab3ed"/><circle cx="190" cy="261.32" r="1.05" fill="#8ab3ed"/><circle cx="193.68" cy="269.58" r="1.05" fill="#7193c2"/><circle cx="186.85" cy="269.07" r="1.05" fill="#7193c2"/><circle cx="192.94" cy="260.3" r="1.05" fill="#8ab3ed"/><circle cx="194.08" cy="261.98" r="1.05" fill="#7193c2"/><circle cx="189.27" cy="265.51" r="1.05" fill="#7193c2"/><circle cx="190.04" cy="270.93" r="1.05" fill="#7193c2"/><circle cx="193.57" cy="271.08" r="1.05" fill="#7193c2"/><circle cx="199.41" cy="264.48" r="1.05" fill="#8ab3ed"/><circle cx="189.59" cy="266.71" r="1.05" fill="#7193c2"/><circle cx="196.14" cy="267.64" r="1.05" fill="#8ab3ed"/><circle cx="197.5" cy="263.67" r="1.05" fill="#8ab3ed"/></g>
<ellipse cx="294.2" cy="272.4" rx="7.71" ry="5.25" fill="#84abe2"/>
<g><circle cx="293.6" cy="270.19" r="1.05" fill="#8ab3ed"/><circle cx="295.12" cy="273.38" r="1.05" fill="#8ab3ed"/><circle cx="292.23" cy="274.58" r="1.05" fill="#7193c2"/><circle cx="290.81" cy="269.13" r="1.05" fill="#7193c2"/><circle cx="293.25" cy="269.49" r="1.05" fill="#8ab3ed"/><circle cx="287.89" cy="272.71" r="1.05" fill="#8ab3ed"/><circle cx="290.34" cy="267.16" r="1.05" fill="#8ab3ed"/><circle cx="299.72" cy="274.14" r="1.05" fill="#7193c2"/><circle cx="297.26" cy="273.96" r="1.05" fill="#7193c2"/><circle cx="301.43" cy="271.13" r="1.05" fill="#8ab3ed"/><circle cx="292.66" cy="269.26" r="1.05" fill="#7193c2"/><circle cx="289.84" cy="273.56" r="1.05" fill="#8ab3ed"/><circle cx="294.52" cy="270.79" r="1.05" fill="#7193c2"/><circle cx="287.15" cy="273.04" r="1.05" fill="#8ab3ed"/><circle cx="293.76" cy="270.51" r="1.05" fill="#7193c2"/><circle cx="292.54" cy="275.31" r="1.05" fill="#8ab3ed"/><circle cx="301.34" cy="272.2" r="1.05" fill="#7193c2"/><circle cx="291.92" cy="277.44" r="1.05" fill="#8ab3ed"/><circle cx="289.97" cy="270.45" r="1.05" fill="#7193c2"/><circle cx="288.82" cy="268.33" r="1.05" fill="#7193c2"/><circle cx="294.37" cy="272.69" r="1.05" fill="#7193c2"/><circle cx="298.26" cy="268.66" r="1.05" fill="#8ab3ed"/><circle cx="298.94" cy="273.91" r="1.05" fill="#8ab3ed"/><circle cx="293.02" cy="271.11" r="1.05" fill="#8ab3ed"/><circle cx="289.55" cy="268.68" r="1.05" fill="#8ab3ed"/><circle cx="297.42" cy="277.76" r="1.05" fill="#8ab3ed"/><circle cx="292.91" cy="268.18" r="1.05" fill="#7193c2"/><circle cx="294.38" cy="273.87" r="1.05" fill="#7193c2"/><circle cx="295.92" cy="276.01" r="1.05" fill="#7193c2"/><circle cx="289.12" cy="276.45" r="1.05" fill="#7193c2"/><circle cx="300.39" cy="275.6" r="1.05" fill="#8ab3ed"/><circle cx="290.05" cy="273.54" r="1.05" fill="#8ab3ed"/><circle cx="295.62" cy="277.77" r="1.05" fill="#8ab3ed"/><circle cx="293.61" cy="273.23" r="1.05" fill="#8ab3ed"/><circle cx="292.09" cy="276.95" r="1.05" fill="#8ab3ed"/><circle cx="296.6" cy="267.18" r="1.05" fill="#8ab3ed"/><circle cx="297.42" cy="269.06" r="1.05" fill="#7193c2"/><circle cx="289.23" cy="272.81" r="1.05" fill="#8ab3ed"/><circle cx="295.8" cy="270.47" r="1.05" fill="#7193c2"/><circle cx="289.82" cy="275.08" r="1.05" fill="#8ab3ed"/><circle cx="302.14" cy="270.33" r="1.05" fill="#8ab3ed"/><circle cx="292.21" cy="269.65" r="1.05" fill="#7193c2"/><circle cx="302.09" cy="272.49" r="1.05" fill="#7193c2"/><circle cx="298.47" cy="273.98" r="1.05" fill="#7193c2"/><circle cx="294.09" cy="271.96" r="1.05" fill="#7193c2"/><circle cx="300.56" cy="269.1" r="1.05" fill="#8ab3ed"/><circle cx="290.4" cy="271.39" r="1.05" fill="#8ab3ed"/><circle cx="294.62" cy="268.19" r="1.05" fill="#7193c2"/><circle cx="295.33" cy="275.94" r="1.05" fill="#7193c2"/><circle cx="299.31" cy="273.8" r="1.05" fill="#8ab3ed"/><circle cx="292.96" cy="275.95" r="1.05" fill="#7193c2"/><circle cx="289.33" cy="275.64" r="1.05" fill="#8ab3ed"/><circle cx="296.69" cy="277.37" r="1.05" fill="#8ab3ed"/><circle cx="287.14" cy="273.69" r="1.05" fill="#8ab3ed"/><circle cx="298.74" cy="268.09" r="1.05" fill="#8ab3ed"/><circle cx="293.58" cy="270.1" r="1.05" fill="#8ab3ed"/><circle cx="294.08" cy="275.39" r="1.05" fill="#7193c2"/><circle cx="293.23" cy="272.9" r="1.05" fill="#8ab3ed"/><circle cx="294.11" cy="267.22" r="1.05" fill="#7193c2"/><circle cx="289.19" cy="268.22" r="1.05" fill="#7193c2"/><circle cx="295.76" cy="275.26" r="1.05" fill="#8ab3ed"/><circle cx="297.18" cy="276.22" r="1.05" fill="#7193c2"/><circle cx="290.66" cy="268.85" r="1.05" fill="#8ab3ed"/><circle cx="294.37" cy="277.35" r="1.05" fill="#8ab3ed"/><circle cx="293.8" cy="270.88" r="1.05" fill="#8ab3ed"/><circle cx="290.2" cy="270.97" r="1.05" fill="#8ab3ed"/><circle cx="288.02" cy="271.93" r="1.05" fill="#7193c2"/><circle cx="293.71" cy="275.93" r="1.05" fill="#8ab3ed"/><circle cx="292.63" cy="272.84" r="1.05" fill="#8ab3ed"/><circle cx="294.49" cy="273.03" r="1.05" fill="#8ab3ed"/><circle cx="292.48" cy="276.55" r="1.05" fill="#7193c2"/><circle cx="301.95" cy="274.24" r="1.05" fill="#8ab3ed"/><circle cx="296.37" cy="275.91" r="1.05" fill="#7193c2"/><circle cx="297.7" cy="276.56" r="1.05" fill="#8ab3ed"/><circle cx="294.63" cy="267.57" r="1.05" fill="#7193c2"/><circle cx="294.99" cy="276.59" r="1.05" fill="#8ab3ed"/><circle cx="289.82" cy="274.98" r="1.05" fill="#8ab3ed"/><circle cx="298.63" cy="272.85" r="1.05" fill="#7193c2"/></g>
<ellipse cx="241" cy="295.4" rx="5.58" ry="6.23" fill="#eeeca4"/>
<g><circle cx="243.98" cy="295.25" r="1.05" fill="#ccca8d"/><circle cx="236.64" cy="298.22" r="1.05" fill="#ccca8d"/><circle cx="242.48" cy="292.78" r="1.05" fill="#f9f7ac"/><circle cx="244.09" cy="300.98" r="1.05" fill="#ccca8d"/><circle cx="240.33" cy="289.04" r="1.05" fill="#ccca8d"/><circle cx="245" cy="298.35" r="1.05" fill="#f9f7ac"/><circle cx="235.52" cy="296.2" r="1.05" fill="#f9f7ac"/><circle cx="236.63" cy="295.49" r="1.05" fill="#f9f7ac"/><circle cx="238.92" cy="296.97" r="1.05" fill="#ccca8d"/><circle cx="240.71" cy="298.87" r="1.05" fill="#f9f7ac"/><circle cx="243.14" cy="297.48" r="1.05" fill="#f9f7ac"/><circle cx="239.83" cy="298.57" r="1.05" fill="#ccca8d"/><circle cx="235.86" cy="295.33" r="1.05" fill="#f9f7ac"/><circle cx="243.47" cy="291.74" r="1.05" fill="#f9f7ac"/><circle cx="238.36" cy="297.13" r="1.05" fill="#f9f7ac"/><circle cx="243.57" cy="296.72" r="1.05" fill="#f9f7ac"/><circle cx="238.21" cy="293.43" r="1.05" fill="#f9f7ac"/><circle cx="236.93" cy="298.31" r="1.05" fill="#ccca8d"/><circle cx="242.55" cy="293.98" r="1.05" fill="#ccca8d"/><circle cx="245.58" cy="290.92" r="1.05" fill="#f9f7ac"/><circle cx="242.42" cy="292.42" r="1.05" fill="#ccca8d"/><circle cx="239.5" cy="295.92" r="1.05" fill="#f9f7ac"/><circle cx="244.56" cy="295.61" r="1.05" fill="#ccca8d"/><circle cx="245.4" cy="295.82" r="1.05" fill="#ccca8d"/><circle cx="245.2" cy="291.99" r="1.05" fill="#ccca8d"/><circle cx="244.04" cy="290.16" r="1.05" fill="#ccca8d"/><circle cx="244.46" cy="289.88" r="1.05" fill="#f9f7ac"/><circle cx="237.46" cy="300.72" r="1.05" fill="#f9f7ac"/><circle cx="239.95" cy="297.08" r="1.05" fill="#f9f7ac"/><circle cx="239.46" cy="292.5" r="1.05" fill="#f9f7ac"/><circle cx="238.86" cy="301.66" r="1.05" fill="#ccca8d"/><circle cx="241.43" cy="296.77" r="1.05" fill="#ccca8d"/><circle cx="243.92" cy="295.18" r="1.05" fill="#f9f7ac"/><circle cx="241.5" cy="295.3" r="1.05" fill="#ccca8d"/><circle cx="241.84" cy="293.45" r="1.05" fill="#f9f7ac"/><circle cx="242.2" cy="293.12" r="1.05" fill="#f9f7ac"/><circle cx="236.1" cy="293.41" r="1.05" fill="#ccca8d"/><circle cx="238.71" cy="297.68" r="1.05" fill="#ccca8d"/><circle cx="243.68" cy="301.34" r="1.05" fill="#f9f7ac"/><circle cx="237.68" cy="299.89" r="1.05" fill="#f9f7ac"/><circle cx="240.29" cy="299.46" r="1.05" fill="#f9f7ac"/><circle cx="238.41" cy="299.86" r="1.05" fill="#f9f7ac"/><circle cx="239.34" cy="301.41" r="1.05" fill="#ccca8d"/><circle cx="240.41" cy="289.15" r="1.05" fill="#f9f7ac"/><circle cx="246.21" cy="294.48" r="1.05" fill="#f9f7ac"/><circle cx="240.2" cy="300.37" r="1.05" fill="#ccca8d"/><circle cx="244.59" cy="297.72" r="1.05" fill="#f9f7ac"/><circle cx="241.14" cy="294.5" r="1.05" fill="#f9f7ac"/><circle cx="241.06" cy="299.18" r="1.05" fill="#f9f7ac"/><circle cx="245.23" cy="291.7" r="1.05" fill="#ccca8d"/><circle cx="235.44" cy="296.88" r="1.05" fill="#ccca8d"/><circle cx="242.88" cy="289.59" r="1.05" fill="#f9f7ac"/><circle cx="244.09" cy="292.78" r="1.05" fill="#f9f7ac"/><circle cx="238.7" cy="292.3" r="1.05" fill="#f9f7ac"/><circle cx="237.4" cy="292.23" r="1.05" fill="#ccca8d"/><circle cx="247.14" cy="295.03" r="1.05" fill="#ccca8d"/><circle cx="245.28" cy="293.65" r="1.05" fill="#ccca8d"/><circle cx="242.77" cy="291.24" r="1.05" fill="#f9f7ac"/><circle cx="243.14" cy="290.86" r="1.05" fill="#ccca8d"/><circle cx="243.29" cy="290.17" r="1.05" fill="#f9f7ac"/><circle cx="240.3" cy="301.55" r="1.05" fill="#f9f7ac"/><circle cx="238.54" cy="298.94" r="1.05" fill="#ccca8d"/><circle cx="244.01" cy="295.52" r="1.05" fill="#ccca8d"/><circle cx="245.25" cy="299.25" r="1.05" fill="#f9f7ac"/><circle cx="237.96" cy="293.85" r="1.05" fill="#ccca8d"/><circle cx="241.09" cy="290.61" r="1.05" fill="#f9f7ac"/><circle cx="236.87" cy="297.84" r="1.05" fill="#f9f7ac"/></g>
<ellipse cx="250" cy="291.2" rx="6.23" ry="6.72" fill="#e2bae0"/>
<g><circle cx="249.45" cy="296.6" r="1.05" fill="#edc3eb"/><circle cx="255.86" cy="295.04" r="1.05" fill="#edc3eb"/><circle cx="250.18" cy="297.78" r="1.05" fill="#edc3eb"/><circle cx="245.44" cy="285.92" r="1.05" fill="#c29fc0"/><circle cx="244.06" cy="290.08" r="1.05" fill="#edc3eb"/><circle cx="246.58" cy="286.66" r="1.05" fill="#c29fc0"/><circle cx="245.31" cy="288.76" r="1.05" fill="#edc3eb"/><circle cx="252.8" cy="285.47" r="1.05" fill="#edc3eb"/><circle cx="255.61" cy="293.87" r="1.05" fill="#edc3eb"/><circle cx="250.04" cy="287.09" r="1.05" fill="#edc3eb"/><circle cx="250.59" cy="289.94" r="1.05" fill="#c29fc0"/><circle cx="243.56" cy="291.7" r="1.05" fill="#c29fc0"/><circle cx="251.53" cy="287.86" r="1.05" fill="#c29fc0"/><circle cx="244.67" cy="289.18" r="1.05" fill="#edc3eb"/><circle cx="252.54" cy="288.61" r="1.05" fill="#edc3eb"/><circle cx="247.13" cy="287.68" r="1.05" fill="#edc3eb"/><circle cx="253.87" cy="288.06" r="1.05" fill="#edc3eb"/><circle cx="251.98" cy="293.41" r="1.05" fill="#edc3eb"/><circle cx="248.17" cy="296.62" r="1.05" fill="#edc3eb"/><circle cx="253.7" cy="296.4" r="1.05" fill="#edc3eb"/><circle cx="252.18" cy="294.24" r="1.05" fill="#edc3eb"/><circle cx="255.56" cy="287.51" r="1.05" fill="#edc3eb"/><circle cx="246.86" cy="294.93" r="1.05" fill="#c29fc0"/><circle cx="246.64" cy="291.29" r="1.05" fill="#c29fc0"/><circle cx="248.71" cy="292.5" r="1.05" fill="#edc3eb"/><circle cx="248.13" cy="285.46" r="1.05" fill="#edc3eb"/><circle cx="254.19" cy="287.25" r="1.05" fill="#edc3eb"/><circle cx="244.13" cy="293.51" r="1.05" fill="#c29fc0"/><circle cx="243.18" cy="289.95" r="1.05" fill="#edc3eb"/><circle cx="243.8" cy="290.91" r="1.05" fill="#c29fc0"/><circle cx="250.46" cy="290.3" r="1.05" fill="#c29fc0"/><circle cx="251.57" cy="294.63" r="1.05" fill="#edc3eb"/><circle cx="253.78" cy="291.82" r="1.05" fill="#edc3eb"/><circle cx="248.21" cy="284.85" r="1.05" fill="#c29fc0"/><circle cx="251.2" cy="298.04" r="1.05" fill="#c29fc0"/><circle cx="253.09" cy="292.64" r="1.05" fill="#edc3eb"/><circle cx="255.58" cy="288.91" r="1.05" fill="#edc3eb"/><circle cx="244.23" cy="290.36" r="1.05" fill="#edc3eb"/><circle cx="248.9" cy="293.17" r="1.05" fill="#c29fc0"/><circle cx="251.14" cy="285.32" r="1.05" fill="#edc3eb"/><circle cx="256.38" cy="293.18" r="1.05" fill="#c29fc0"/><circle cx="254.82" cy="288.6" r="1.05" fill="#edc3eb"/><circle cx="252.29" cy="285.77" r="1.05" fill="#edc3eb"/><circle cx="252.98" cy="296.1" r="1.05" fill="#c29fc0"/><circle cx="252.27" cy="292.46" r="1.05" fill="#edc3eb"/><circle cx="249.52" cy="297.78" r="1.05" fill="#c29fc0"/><circle cx="256.96" cy="291.85" r="1.05" fill="#c29fc0"/><circle cx="246.8" cy="290.99" r="1.05" fill="#c29fc0"/><circle cx="244.92" cy="295.06" r="1.05" fill="#c29fc0"/><circle cx="253.63" cy="284.79" r="1.05" fill="#edc3eb"/><circle cx="247.84" cy="294.01" r="1.05" fill="#c29fc0"/><circle cx="247.13" cy="297.44" r="1.05" fill="#c29fc0"/><circle cx="251.28" cy="285.19" r="1.05" fill="#c29fc0"/><circle cx="255.43" cy="293.94" r="1.05" fill="#edc3eb"/><circle cx="247.48" cy="297.65" r="1.05" fill="#c29fc0"/><circle cx="247.87" cy="292.33" r="1.05" fill="#edc3eb"/><circle cx="252.53" cy="292.86" r="1.05" fill="#edc3eb"/><circle cx="244.31" cy="291.19" r="1.05" fill="#edc3eb"/><circle cx="247.56" cy="289.12" r="1.05" fill="#edc3eb"/><circle cx="252.71" cy="293.81" r="1.05" fill="#edc3eb"/><circle cx="251.71" cy="292.82" r="1.05" fill="#edc3eb"/><circle cx="249.78" cy="286.61" r="1.05" fill="#c29fc0"/><circle cx="251.33" cy="296.46" r="1.05" fill="#edc3eb"/><circle cx="251.29" cy="290.58" r="1.05" fill="#edc3eb"/><circle cx="254.11" cy="290.94" r="1.05" fill="#edc3eb"/><circle cx="252.56" cy="285.77" r="1.05" fill="#c29fc0"/><circle cx="245.31" cy="286.27" r="1.05" fill="#c29fc0"/><circle cx="248.96" cy="291.34" r="1.05" fill="#edc3eb"/><circle cx="250.27" cy="289.61" r="1.05" fill="#edc3eb"/><circle cx="249.11" cy="288.7" r="1.05" fill="#edc3eb"/><circle cx="248.49" cy="287.14" r="1.05" fill="#edc3eb"/><circle cx="255.51" cy="290.29" r="1.05" fill="#edc3eb"/><circle cx="252.23" cy="292.26" r="1.05" fill="#edc3eb"/><circle cx="249.7" cy="284.31" r="1.05" fill="#edc3eb"/><circle cx="245.48" cy="288.67" r="1.05" fill="#edc3eb"/><circle cx="247.62" cy="295.86" r="1.05" fill="#edc3eb"/><circle cx="248.29" cy="288.22" r="1.05" fill="#c29fc0"/><circle cx="252.51" cy="292.89" r="1.05" fill="#edc3eb"/><circle cx="248.75" cy="284.81" r="1.05" fill="#edc3eb"/><circle cx="253.81" cy="294.3" r="1.05" fill="#edc3eb"/><circle cx="244.45" cy="290.86" r="1.05" fill="#c29fc0"/></g>
<polyline points="566.2,254.5 567.69,253.45 569.4,252.83 571,252 572.77,251.87 574.62,252.02 575.9,250.4 577.29,251.23 578.23,252.77 580,253 581.07,254.33 582.73,254.9 583.9,256.1" stroke="#ababab" stroke-width="2.4" fill="none" stroke-linejoin="round" stroke-linecap="round"/>
<g><circle cx="566.25" cy="254.52" r="1.01" fill="#858585"/><circle cx="566.95" cy="252.85" r="1.01" fill="#bfbfbf"/><circle cx="568.41" cy="253.63" r="1.01" fill="#bfbfbf"/><circle cx="570.87" cy="251.52" r="1.01" fill="#bfbfbf"/><circle cx="573.03" cy="252.38" r="1.01" fill="#bfbfbf"/><circle cx="575.16" cy="251.63" r="1.01" fill="#858585"/><circle cx="574.6" cy="251.23" r="1.01" fill="#bfbfbf"/><circle cx="576.82" cy="251.89" r="1.01" fill="#858585"/><circle cx="576.21" cy="252.59" r="1.01" fill="#bfbfbf"/><circle cx="580.49" cy="254.64" r="1.01" fill="#858585"/><circle cx="581.03" cy="254.04" r="1.01" fill="#bfbfbf"/><circle cx="583.06" cy="255.73" r="1.01" fill="#858585"/><circle cx="584.96" cy="255.47" r="1.01" fill="#858585"/></g>
<polyline points="627.3,255.3 629.14,255.2 630.41,254.09 631.24,252.24 633,252 634.17,250.94 635.62,250.49 637.11,250.17 638.5,249.6 640.42,250.22 642.07,248.28 644,249 645.44,249.29 646.87,249.34 648.29,249.25 649.7,248.8" stroke="#ababab" stroke-width="2.4" fill="none" stroke-linejoin="round" stroke-linecap="round"/>
<g><circle cx="627.61" cy="256.32" r="1.01" fill="#858585"/><circle cx="629.6" cy="255.58" r="1.01" fill="#858585"/><circle cx="629.08" cy="255" r="1.01" fill="#bfbfbf"/><circle cx="630.89" cy="251.93" r="1.01" fill="#bfbfbf"/><circle cx="632.32" cy="251.6" r="1.01" fill="#bfbfbf"/><circle cx="632.97" cy="252.09" r="1.01" fill="#858585"/><circle cx="635.38" cy="250.04" r="1.01" fill="#858585"/><circle cx="636.47" cy="249.75" r="1.01" fill="#bfbfbf"/><circle cx="638.72" cy="248.76" r="1.01" fill="#bfbfbf"/><circle cx="639.86" cy="250.28" r="1.01" fill="#858585"/><circle cx="641.99" cy="248.65" r="1.01" fill="#bfbfbf"/><circle cx="642.02" cy="247.48" r="1.01" fill="#858585"/><circle cx="644.1" cy="249.16" r="1.01" fill="#bfbfbf"/><circle cx="646.38" cy="250.26" r="1.01" fill="#bfbfbf"/><circle cx="647.82" cy="248.72" r="1.01" fill="#858585"/><circle cx="649.01" cy="248.04" r="1.01" fill="#bfbfbf"/></g>
<polyline points="601.6,307.4 601.53,309.46 599.44,310.29 598.8,312 596.19,312.83 596.8,315.5 595.15,316.34 593.35,315.07 591.69,315.69 590,316 588.41,316.67 586.93,315.95 585.41,315.79 583.9,315.5" stroke="#ababab" stroke-width="2.4" fill="none" stroke-linejoin="round" stroke-linecap="round"/>
<g><circle cx="601.14" cy="308.7" r="1.01" fill="#858585"/><circle cx="601.8" cy="309.45" r="1.01" fill="#858585"/><circle cx="600.15" cy="310.64" r="1.01" fill="#858585"/><circle cx="599.31" cy="311.85" r="1.01" fill="#858585"/><circle cx="598.67" cy="313.89" r="1.01" fill="#bfbfbf"/><circle cx="596.93" cy="312.15" r="1.01" fill="#858585"/><circle cx="596.11" cy="314.48" r="1.01" fill="#858585"/><circle cx="595.2" cy="315.95" r="1.01" fill="#bfbfbf"/><circle cx="594.09" cy="315.73" r="1.01" fill="#bfbfbf"/><circle cx="592.13" cy="316.61" r="1.01" fill="#858585"/><circle cx="590.16" cy="315.3" r="1.01" fill="#bfbfbf"/><circle cx="590.53" cy="316.59" r="1.01" fill="#bfbfbf"/><circle cx="587.17" cy="316.92" r="1.01" fill="#bfbfbf"/><circle cx="586.67" cy="316.77" r="1.01" fill="#858585"/><circle cx="584.33" cy="316" r="1.01" fill="#bfbfbf"/></g>
<polyline points="612.8,305.8 614.38,306.3 614.28,308.48 616.11,308.73 617.35,309.57 618,311 619.05,312.18 620.31,313.14 621.81,313.88 622.4,315.5 624.45,316.06 625.3,317.71 626,319.5 626.47,321.54 627.43,323.13 629.7,323.5" stroke="#ababab" stroke-width="2.4" fill="none" stroke-linejoin="round" stroke-linecap="round"/>
<g><circle cx="613.24" cy="306.6" r="1.01" fill="#bfbfbf"/><circle cx="614.32" cy="306.56" r="1.01" fill="#bfbfbf"/><circle cx="613.63" cy="308.15" r="1.01" fill="#858585"/><circle cx="614.87" cy="308.92" r="1.01" fill="#858585"/><circle cx="617.78" cy="309.39" r="1.01" fill="#bfbfbf"/><circle cx="618.02" cy="310.73" r="1.01" fill="#bfbfbf"/><circle cx="618.76" cy="312.66" r="1.01" fill="#bfbfbf"/><circle cx="621.26" cy="312.05" r="1.01" fill="#bfbfbf"/><circle cx="621.58" cy="314.13" r="1.01" fill="#858585"/><circle cx="622.19" cy="316.06" r="1.01" fill="#858585"/><circle cx="623.4" cy="316.89" r="1.01" fill="#bfbfbf"/><circle cx="624.73" cy="317.9" r="1.01" fill="#bfbfbf"/><circle cx="626.53" cy="318.78" r="1.01" fill="#bfbfbf"/><circle cx="625.99" cy="320.06" r="1.01" fill="#858585"/><circle cx="626.96" cy="322.18" r="1.01" fill="#858585"/><circle cx="625.55" cy="323.28" r="1.01" fill="#858585"/><circle cx="629.86" cy="324.26" r="1.01" fill="#bfbfbf"/></g>
<polyline points="593.5,261.7 594.09,263.11 594.18,264.61 594.41,266.08 595.02,267.48 595.32,268.95 595.1,270.5 596.83,270.98 596.88,273.38 598.76,273.69 599.44,275.37 601.32,275.68 602.4,276.9 601.35,278.09 600.51,279.44 599.1,280.33 598.4,281.8 597.55,283.33 597.88,284.98 598.48,286.66 598.41,288.27 597.6,289.8 598.31,291.81 600.52,291.2 601.92,291.99 603.2,293" stroke="#44a45a" stroke-width="2.8" fill="none" stroke-linejoin="round" stroke-linecap="round"/>
<g><circle cx="594.65" cy="262.55" r="1.18" fill="#4cb764"/><circle cx="593.78" cy="265.09" r="1.18" fill="#357f46"/><circle cx="594.66" cy="264.77" r="1.18" fill="#4cb764"/><circle cx="593.55" cy="266.83" r="1.18" fill="#357f46"/><circle cx="594.95" cy="267.16" r="1.18" fill="#4cb764"/><circle cx="594.95" cy="268.58" r="1.18" fill="#4cb764"/><circle cx="596.85" cy="272.95" r="1.18" fill="#357f46"/><circle cx="596.38" cy="271.04" r="1.18" fill="#4cb764"/><circle cx="596.58" cy="272.92" r="1.18" fill="#357f46"/><circle cx="599.28" cy="274.13" r="1.18" fill="#4cb764"/><circle cx="599.46" cy="275.53" r="1.18" fill="#357f46"/><circle cx="599.87" cy="275.22" r="1.18" fill="#357f46"/><circle cx="603.27" cy="277.47" r="1.18" fill="#4cb764"/><circle cx="600.75" cy="277.84" r="1.18" fill="#357f46"/><circle cx="600.81" cy="278.92" r="1.18" fill="#357f46"/><circle cx="599.17" cy="280.76" r="1.18" fill="#4cb764"/><circle cx="598.35" cy="281.34" r="1.18" fill="#4cb764"/><circle cx="598.43" cy="282.68" r="1.18" fill="#4cb764"/><circle cx="597.47" cy="283.31" r="1.18" fill="#4cb764"/><circle cx="597.44" cy="286.59" r="1.18" fill="#357f46"/><circle cx="597.14" cy="286.94" r="1.18" fill="#4cb764"/><circle cx="597.26" cy="288.29" r="1.18" fill="#4cb764"/><circle cx="597.75" cy="291.05" r="1.18" fill="#4cb764"/><circle cx="599.07" cy="291.08" r="1.18" fill="#4cb764"/><circle cx="600.89" cy="291.25" r="1.18" fill="#4cb764"/><circle cx="601.04" cy="292.1" r="1.18" fill="#4cb764"/><circle cx="603" cy="292.4" r="1.18" fill="#4cb764"/></g>
<polyline points="614.4,257.7 611.99,256.71 611.86,259.52 610.25,259.86 608.9,260.63 608.84,263.55 606.4,262.5 605.9,264.07 606.18,265.84 604.07,267.02 604.8,268.9 606.02,269.82 607.4,270.57 608.13,271.97 608.97,273.27 610.47,273.9 611.2,275.3 612.56,276.06 614.45,275.92 615.3,277.54 616.2,279.06 617.02,280.72 619.2,280.1 618.04,281.52 617.79,283.27 616.47,284.63 616.8,286.6 615.39,287.5 614.27,288.53 614.07,290.03 614.33,291.76 613.6,293" stroke="#44a45a" stroke-width="2.8" fill="none" stroke-linejoin="round" stroke-linecap="round"/>
<g><circle cx="614.6" cy="257.84" r="1.18" fill="#357f46"/><circle cx="613.02" cy="256.46" r="1.18" fill="#4cb764"/><circle cx="611.43" cy="255.84" r="1.18" fill="#357f46"/><circle cx="611.89" cy="257.77" r="1.18" fill="#4cb764"/><circle cx="611.35" cy="259.85" r="1.18" fill="#4cb764"/><circle cx="610.65" cy="259.52" r="1.18" fill="#4cb764"/><circle cx="609.22" cy="262.3" r="1.18" fill="#357f46"/><circle cx="608.21" cy="263.05" r="1.18" fill="#357f46"/><circle cx="606.66" cy="262.79" r="1.18" fill="#4cb764"/><circle cx="605.36" cy="263.65" r="1.18" fill="#4cb764"/><circle cx="605.96" cy="264.75" r="1.18" fill="#357f46"/><circle cx="604.16" cy="265.53" r="1.18" fill="#4cb764"/><circle cx="604.22" cy="266.49" r="1.18" fill="#357f46"/><circle cx="604.57" cy="268.44" r="1.18" fill="#4cb764"/><circle cx="606.28" cy="269.22" r="1.18" fill="#357f46"/><circle cx="607.5" cy="271.32" r="1.18" fill="#4cb764"/><circle cx="608.16" cy="271.82" r="1.18" fill="#357f46"/><circle cx="609.72" cy="273.93" r="1.18" fill="#357f46"/><circle cx="611.1" cy="273.97" r="1.18" fill="#4cb764"/><circle cx="611.2" cy="273.68" r="1.18" fill="#4cb764"/><circle cx="612.76" cy="275.13" r="1.18" fill="#357f46"/><circle cx="613.64" cy="277.58" r="1.18" fill="#4cb764"/><circle cx="615.28" cy="276.06" r="1.18" fill="#357f46"/><circle cx="615.69" cy="280.23" r="1.18" fill="#4cb764"/><circle cx="615" cy="280.25" r="1.18" fill="#357f46"/><circle cx="617.72" cy="278.75" r="1.18" fill="#4cb764"/><circle cx="620.22" cy="278.96" r="1.18" fill="#4cb764"/><circle cx="617.56" cy="283.65" r="1.18" fill="#357f46"/><circle cx="617.51" cy="284.27" r="1.18" fill="#4cb764"/><circle cx="616.04" cy="285.15" r="1.18" fill="#4cb764"/><circle cx="615.33" cy="287.8" r="1.18" fill="#4cb764"/><circle cx="615.26" cy="287.54" r="1.18" fill="#4cb764"/><circle cx="613.41" cy="287.96" r="1.18" fill="#4cb764"/><circle cx="614.14" cy="290.78" r="1.18" fill="#4cb764"/><circle cx="614.68" cy="292.01" r="1.18" fill="#357f46"/><circle cx="613.78" cy="292.26" r="1.18" fill="#4cb764"/></g>
<ellipse cx="587.5" cy="258" rx="5.41" ry="4.76" fill="#84abe2"/>
<g><circle cx="591.91" cy="256.33" r="1.05" fill="#8ab3ed"/><circle cx="587.96" cy="252.8" r="1.05" fill="#7193c2"/><circle cx="583.08" cy="261.46" r="1.05" fill="#8ab3ed"/><circle cx="589.97" cy="257.26" r="1.05" fill="#7193c2"/><circle cx="590.58" cy="255.91" r="1.05" fill="#8ab3ed"/><circle cx="590.12" cy="257.03" r="1.05" fill="#8ab3ed"/><circle cx="585.1" cy="259.61" r="1.05" fill="#7193c2"/><circle cx="583.38" cy="257.58" r="1.05" fill="#8ab3ed"/><circle cx="588.71" cy="258.35" r="1.05" fill="#7193c2"/><circle cx="583.27" cy="255.09" r="1.05" fill="#8ab3ed"/><circle cx="583.82" cy="255.2" r="1.05" fill="#7193c2"/><circle cx="587.64" cy="263.33" r="1.05" fill="#7193c2"/><circle cx="591.52" cy="256.77" r="1.05" fill="#7193c2"/><circle cx="590.33" cy="258.04" r="1.05" fill="#7193c2"/><circle cx="583.73" cy="259.33" r="1.05" fill="#8ab3ed"/><circle cx="586.41" cy="258.16" r="1.05" fill="#7193c2"/><circle cx="588.48" cy="257.79" r="1.05" fill="#8ab3ed"/><circle cx="582.45" cy="258.66" r="1.05" fill="#7193c2"/><circle cx="584.51" cy="260.79" r="1.05" fill="#8ab3ed"/><circle cx="586.66" cy="259.38" r="1.05" fill="#7193c2"/><circle cx="590" cy="255.98" r="1.05" fill="#7193c2"/><circle cx="582.91" cy="255.21" r="1.05" fill="#8ab3ed"/><circle cx="589.74" cy="260.77" r="1.05" fill="#7193c2"/><circle cx="593.43" cy="258.55" r="1.05" fill="#8ab3ed"/><circle cx="591.28" cy="261.76" r="1.05" fill="#8ab3ed"/><circle cx="588.73" cy="255.54" r="1.05" fill="#7193c2"/><circle cx="582.92" cy="257.36" r="1.05" fill="#8ab3ed"/><circle cx="593.17" cy="256.96" r="1.05" fill="#7193c2"/><circle cx="585.66" cy="257.04" r="1.05" fill="#8ab3ed"/><circle cx="589.33" cy="258.77" r="1.05" fill="#7193c2"/><circle cx="586.43" cy="260.82" r="1.05" fill="#8ab3ed"/><circle cx="589.3" cy="258.82" r="1.05" fill="#8ab3ed"/><circle cx="585.11" cy="254.02" r="1.05" fill="#8ab3ed"/><circle cx="585.15" cy="254.61" r="1.05" fill="#8ab3ed"/><circle cx="589.94" cy="259.2" r="1.05" fill="#8ab3ed"/><circle cx="589.06" cy="261.64" r="1.05" fill="#7193c2"/><circle cx="582.46" cy="260.04" r="1.05" fill="#8ab3ed"/><circle cx="584.51" cy="258.94" r="1.05" fill="#8ab3ed"/><circle cx="585.28" cy="255.05" r="1.05" fill="#8ab3ed"/><circle cx="585.37" cy="253.06" r="1.05" fill="#8ab3ed"/><circle cx="591.14" cy="255.67" r="1.05" fill="#8ab3ed"/><circle cx="588.5" cy="256.66" r="1.05" fill="#8ab3ed"/><circle cx="586.35" cy="257.21" r="1.05" fill="#8ab3ed"/><circle cx="586.24" cy="252.96" r="1.05" fill="#7193c2"/><circle cx="581.81" cy="258.98" r="1.05" fill="#8ab3ed"/><circle cx="589.49" cy="255.01" r="1.05" fill="#7193c2"/><circle cx="587.02" cy="260.43" r="1.05" fill="#8ab3ed"/><circle cx="590.41" cy="262.13" r="1.05" fill="#8ab3ed"/><circle cx="588.66" cy="258.72" r="1.05" fill="#7193c2"/></g>
<ellipse cx="621.6" cy="257.2" rx="5.08" ry="6.07" fill="#84abe2"/>
<g><circle cx="623.01" cy="256.43" r="1.05" fill="#8ab3ed"/><circle cx="620.76" cy="260.06" r="1.05" fill="#7193c2"/><circle cx="621.32" cy="256.35" r="1.05" fill="#8ab3ed"/><circle cx="619.08" cy="255.83" r="1.05" fill="#7193c2"/><circle cx="619.05" cy="252.74" r="1.05" fill="#7193c2"/><circle cx="619.64" cy="261.2" r="1.05" fill="#8ab3ed"/><circle cx="616.52" cy="255.71" r="1.05" fill="#8ab3ed"/><circle cx="617.91" cy="255.39" r="1.05" fill="#8ab3ed"/><circle cx="616.75" cy="257.51" r="1.05" fill="#7193c2"/><circle cx="619.26" cy="262.92" r="1.05" fill="#7193c2"/><circle cx="624.65" cy="251.7" r="1.05" fill="#8ab3ed"/><circle cx="625.58" cy="260.74" r="1.05" fill="#8ab3ed"/><circle cx="620.26" cy="263.32" r="1.05" fill="#8ab3ed"/><circle cx="622.99" cy="257.82" r="1.05" fill="#7193c2"/><circle cx="617.63" cy="253.29" r="1.05" fill="#7193c2"/><circle cx="626.06" cy="257.95" r="1.05" fill="#8ab3ed"/><circle cx="616.78" cy="259.41" r="1.05" fill="#8ab3ed"/><circle cx="626.53" cy="255.97" r="1.05" fill="#7193c2"/><circle cx="624.16" cy="261.43" r="1.05" fill="#8ab3ed"/><circle cx="625.17" cy="259.59" r="1.05" fill="#7193c2"/><circle cx="619.14" cy="259.15" r="1.05" fill="#7193c2"/><circle cx="621.73" cy="259.38" r="1.05" fill="#8ab3ed"/><circle cx="617.06" cy="259.11" r="1.05" fill="#8ab3ed"/><circle cx="624.78" cy="256.04" r="1.05" fill="#8ab3ed"/><circle cx="618.13" cy="260.87" r="1.05" fill="#8ab3ed"/><circle cx="618.56" cy="259.95" r="1.05" fill="#8ab3ed"/><circle cx="624.79" cy="260.38" r="1.05" fill="#7193c2"/><circle cx="622.31" cy="262.51" r="1.05" fill="#8ab3ed"/><circle cx="624.51" cy="257.19" r="1.05" fill="#7193c2"/><circle cx="617.84" cy="256.67" r="1.05" fill="#7193c2"/><circle cx="622.16" cy="251.5" r="1.05" fill="#8ab3ed"/><circle cx="618.46" cy="253.61" r="1.05" fill="#8ab3ed"/><circle cx="626.59" cy="254.3" r="1.05" fill="#8ab3ed"/><circle cx="622.77" cy="255.5" r="1.05" fill="#8ab3ed"/><circle cx="622.21" cy="253.58" r="1.05" fill="#8ab3ed"/><circle cx="624.02" cy="258.25" r="1.05" fill="#8ab3ed"/><circle cx="624.96" cy="259.09" r="1.05" fill="#7193c2"/><circle cx="623.68" cy="254.27" r="1.05" fill="#7193c2"/><circle cx="622.97" cy="252.38" r="1.05" fill="#7193c2"/><circle cx="622.5" cy="262.41" r="1.05" fill="#7193c2"/><circle cx="621.65" cy="262.57" r="1.05" fill="#8ab3ed"/><circle cx="621.09" cy="262.25" r="1.05" fill="#8ab3ed"/><circle cx="624.49" cy="258.07" r="1.05" fill="#7193c2"/><circle cx="622.53" cy="256.14" r="1.05" fill="#7193c2"/><circle cx="623.22" cy="262.54" r="1.05" fill="#8ab3ed"/><circle cx="626.56" cy="259.43" r="1.05" fill="#8ab3ed"/><circle cx="622.72" cy="263.58" r="1.05" fill="#7193c2"/><circle cx="621.97" cy="255.39" r="1.05" fill="#8ab3ed"/><circle cx="616.2" cy="256.97" r="1.05" fill="#8ab3ed"/><circle cx="620.36" cy="256.76" r="1.05" fill="#8ab3ed"/><circle cx="617.57" cy="261.99" r="1.05" fill="#8ab3ed"/><circle cx="618.75" cy="259.51" r="1.05" fill="#8ab3ed"/><circle cx="625.85" cy="260.68" r="1.05" fill="#8ab3ed"/><circle cx="617.18" cy="259.47" r="1.05" fill="#7193c2"/><circle cx="623.89" cy="260.64" r="1.05" fill="#7193c2"/><circle cx="624.83" cy="259.55" r="1.05" fill="#8ab3ed"/><circle cx="622.76" cy="261.82" r="1.05" fill="#8ab3ed"/><circle cx="624.13" cy="251.49" r="1.05" fill="#8ab3ed"/><circle cx="617.91" cy="254.44" r="1.05" fill="#8ab3ed"/></g>
<ellipse cx="604.8" cy="301.5" rx="4.59" ry="5.41" fill="#eeeca4"/>
<g><circle cx="601.78" cy="302.3" r="1.05" fill="#ccca8d"/><circle cx="607.67" cy="302.97" r="1.05" fill="#f9f7ac"/><circle cx="602.83" cy="300.7" r="1.05" fill="#f9f7ac"/><circle cx="609.6" cy="303.01" r="1.05" fill="#f9f7ac"/><circle cx="601.69" cy="300.15" r="1.05" fill="#f9f7ac"/><circle cx="605.45" cy="301.53" r="1.05" fill="#f9f7ac"/><circle cx="603.85" cy="305.18" r="1.05" fill="#f9f7ac"/><circle cx="609.72" cy="303.14" r="1.05" fill="#f9f7ac"/><circle cx="608.4" cy="304.54" r="1.05" fill="#f9f7ac"/><circle cx="603.09" cy="296.69" r="1.05" fill="#f9f7ac"/><circle cx="608.58" cy="305.6" r="1.05" fill="#f9f7ac"/><circle cx="605.76" cy="305.04" r="1.05" fill="#ccca8d"/><circle cx="607.75" cy="298.81" r="1.05" fill="#ccca8d"/><circle cx="604" cy="297.32" r="1.05" fill="#f9f7ac"/><circle cx="609.39" cy="303.13" r="1.05" fill="#f9f7ac"/><circle cx="608.35" cy="301.72" r="1.05" fill="#ccca8d"/><circle cx="603.29" cy="301.17" r="1.05" fill="#f9f7ac"/><circle cx="606.51" cy="306.04" r="1.05" fill="#f9f7ac"/><circle cx="603.77" cy="304.04" r="1.05" fill="#f9f7ac"/><circle cx="607.32" cy="302.26" r="1.05" fill="#ccca8d"/><circle cx="602.1" cy="299.64" r="1.05" fill="#ccca8d"/><circle cx="600.84" cy="299.29" r="1.05" fill="#f9f7ac"/><circle cx="601.95" cy="301.72" r="1.05" fill="#ccca8d"/><circle cx="600.8" cy="300.51" r="1.05" fill="#f9f7ac"/><circle cx="607.04" cy="300.81" r="1.05" fill="#f9f7ac"/><circle cx="603.85" cy="295.85" r="1.05" fill="#f9f7ac"/><circle cx="605.21" cy="307.31" r="1.05" fill="#f9f7ac"/><circle cx="602.63" cy="296.15" r="1.05" fill="#f9f7ac"/><circle cx="603.61" cy="300.7" r="1.05" fill="#f9f7ac"/><circle cx="604.98" cy="305.28" r="1.05" fill="#ccca8d"/><circle cx="608.86" cy="300.69" r="1.05" fill="#f9f7ac"/><circle cx="606.13" cy="304.46" r="1.05" fill="#f9f7ac"/><circle cx="608.46" cy="305.56" r="1.05" fill="#f9f7ac"/><circle cx="601.95" cy="304.28" r="1.05" fill="#f9f7ac"/><circle cx="601.5" cy="302.23" r="1.05" fill="#f9f7ac"/><circle cx="604.45" cy="303.94" r="1.05" fill="#f9f7ac"/><circle cx="607.73" cy="303.64" r="1.05" fill="#f9f7ac"/><circle cx="605.16" cy="299.54" r="1.05" fill="#ccca8d"/><circle cx="605.37" cy="298.03" r="1.05" fill="#f9f7ac"/><circle cx="604.59" cy="300.28" r="1.05" fill="#ccca8d"/><circle cx="605.18" cy="297.12" r="1.05" fill="#f9f7ac"/><circle cx="609.03" cy="301.19" r="1.05" fill="#f9f7ac"/><circle cx="606.72" cy="298.22" r="1.05" fill="#ccca8d"/><circle cx="604.24" cy="306.14" r="1.05" fill="#f9f7ac"/><circle cx="602.65" cy="299.48" r="1.05" fill="#f9f7ac"/><circle cx="602.81" cy="303.2" r="1.05" fill="#f9f7ac"/><circle cx="603.84" cy="303.18" r="1.05" fill="#f9f7ac"/><circle cx="602.97" cy="295.91" r="1.05" fill="#ccca8d"/></g>
<ellipse cx="610.8" cy="297.4" rx="5.9" ry="5.25" fill="#e2bae0"/>
<g><circle cx="615.8" cy="294.6" r="1.05" fill="#c29fc0"/><circle cx="605.59" cy="298.01" r="1.05" fill="#c29fc0"/><circle cx="615.53" cy="300.77" r="1.05" fill="#c29fc0"/><circle cx="606.43" cy="297.63" r="1.05" fill="#edc3eb"/><circle cx="606.78" cy="296.01" r="1.05" fill="#edc3eb"/><circle cx="607.41" cy="301.41" r="1.05" fill="#c29fc0"/><circle cx="611.06" cy="292.3" r="1.05" fill="#edc3eb"/><circle cx="607.69" cy="297.67" r="1.05" fill="#edc3eb"/><circle cx="613.92" cy="295.65" r="1.05" fill="#c29fc0"/><circle cx="613.34" cy="302.62" r="1.05" fill="#c29fc0"/><circle cx="612.76" cy="298.01" r="1.05" fill="#edc3eb"/><circle cx="606.71" cy="300.68" r="1.05" fill="#edc3eb"/><circle cx="605.61" cy="299.43" r="1.05" fill="#edc3eb"/><circle cx="607.26" cy="296.55" r="1.05" fill="#c29fc0"/><circle cx="607.96" cy="295.72" r="1.05" fill="#c29fc0"/><circle cx="613.68" cy="294.96" r="1.05" fill="#c29fc0"/><circle cx="607.48" cy="294.24" r="1.05" fill="#c29fc0"/><circle cx="607.78" cy="301.14" r="1.05" fill="#c29fc0"/><circle cx="616.7" cy="296.94" r="1.05" fill="#edc3eb"/><circle cx="611.86" cy="296.84" r="1.05" fill="#c29fc0"/><circle cx="614.86" cy="295.26" r="1.05" fill="#c29fc0"/><circle cx="605.68" cy="295.26" r="1.05" fill="#edc3eb"/><circle cx="612.02" cy="297.72" r="1.05" fill="#edc3eb"/><circle cx="612.71" cy="297.57" r="1.05" fill="#edc3eb"/><circle cx="609.01" cy="298.05" r="1.05" fill="#edc3eb"/><circle cx="606.58" cy="301.47" r="1.05" fill="#edc3eb"/><circle cx="607.67" cy="294.76" r="1.05" fill="#edc3eb"/><circle cx="610.94" cy="300.38" r="1.05" fill="#edc3eb"/><circle cx="611.98" cy="300.9" r="1.05" fill="#edc3eb"/><circle cx="608.87" cy="300.52" r="1.05" fill="#edc3eb"/><circle cx="611.68" cy="300.18" r="1.05" fill="#edc3eb"/><circle cx="610.2" cy="300.74" r="1.05" fill="#edc3eb"/><circle cx="607.94" cy="302.7" r="1.05" fill="#edc3eb"/><circle cx="612.6" cy="295.1" r="1.05" fill="#c29fc0"/><circle cx="610.9" cy="292.05" r="1.05" fill="#c29fc0"/><circle cx="611.69" cy="300.2" r="1.05" fill="#c29fc0"/><circle cx="606.67" cy="299.38" r="1.05" fill="#edc3eb"/><circle cx="613.53" cy="298.28" r="1.05" fill="#c29fc0"/><circle cx="610.44" cy="299.92" r="1.05" fill="#edc3eb"/><circle cx="609.07" cy="298.97" r="1.05" fill="#edc3eb"/><circle cx="616.62" cy="296.51" r="1.05" fill="#edc3eb"/><circle cx="607.77" cy="299.99" r="1.05" fill="#c29fc0"/><circle cx="612.85" cy="292.45" r="1.05" fill="#edc3eb"/><circle cx="614.26" cy="293.77" r="1.05" fill="#edc3eb"/><circle cx="610.42" cy="300.27" r="1.05" fill="#c29fc0"/><circle cx="615.85" cy="294.65" r="1.05" fill="#edc3eb"/><circle cx="613.42" cy="292.66" r="1.05" fill="#edc3eb"/><circle cx="611.06" cy="295.01" r="1.05" fill="#edc3eb"/><circle cx="617.08" cy="298.94" r="1.05" fill="#edc3eb"/><circle cx="613.76" cy="301.84" r="1.05" fill="#edc3eb"/><circle cx="615.61" cy="298.56" r="1.05" fill="#edc3eb"/><circle cx="606.22" cy="293.64" r="1.05" fill="#edc3eb"/><circle cx="611.99" cy="301.66" r="1.05" fill="#edc3eb"/><circle cx="613.2" cy="297.55" r="1.05" fill="#c29fc0"/><circle cx="612.21" cy="299.98" r="1.05" fill="#edc3eb"/><circle cx="615.15" cy="296.44" r="1.05" fill="#edc3eb"/><circle cx="611.19" cy="292.58" r="1.05" fill="#edc3eb"/><circle cx="616.98" cy="297.44" r="1.05" fill="#c29fc0"/><circle cx="612.8" cy="301.21" r="1.05" fill="#edc3eb"/></g>
<text x="177.7" y="380.5" font-size="12.5" text-anchor="start" fill="#1a1a1a" font-weight="bold">g</text>
<rect x="223.7" y="375.4" width="196.7" height="154.7" fill="none" stroke="#6f6f6f" stroke-width="0.9"/>
<line x1="223.7" y1="530.1" x2="223.7" y2="528.1" stroke="#6f6f6f" stroke-width="0.8"/>
<line x1="223.7" y1="375.4" x2="223.7" y2="377.4" stroke="#6f6f6f" stroke-width="0.8"/>
<text x="220.2" y="539.7" font-size="9.0" text-anchor="middle" fill="#262626">0</text>
<line x1="272.88" y1="530.1" x2="272.88" y2="528.1" stroke="#6f6f6f" stroke-width="0.8"/>
<line x1="272.88" y1="375.4" x2="272.88" y2="377.4" stroke="#6f6f6f" stroke-width="0.8"/>
<text x="269.38" y="539.7" font-size="9.0" text-anchor="middle" fill="#262626">50</text>
<line x1="322.05" y1="530.1" x2="322.05" y2="528.1" stroke="#6f6f6f" stroke-width="0.8"/>
<line x1="322.05" y1="375.4" x2="322.05" y2="377.4" stroke="#6f6f6f" stroke-width="0.8"/>
<text x="318.55" y="539.7" font-size="9.0" text-anchor="middle" fill="#262626">100</text>
<line x1="371.22" y1="530.1" x2="371.22" y2="528.1" stroke="#6f6f6f" stroke-width="0.8"/>
<line x1="371.22" y1="375.4" x2="371.22" y2="377.4" stroke="#6f6f6f" stroke-width="0.8"/>
<text x="367.72" y="539.7" font-size="9.0" text-anchor="middle" fill="#262626">150</text>
<line x1="420.4" y1="530.1" x2="420.4" y2="528.1" stroke="#6f6f6f" stroke-width="0.8"/>
<line x1="420.4" y1="375.4" x2="420.4" y2="377.4" stroke="#6f6f6f" stroke-width="0.8"/>
<text x="416.9" y="539.7" font-size="9.0" text-anchor="middle" fill="#262626">200</text>
<line x1="223.7" y1="530.1" x2="225.7" y2="530.1" stroke="#6f6f6f" stroke-width="0.8"/>
<line x1="420.4" y1="530.1" x2="418.4" y2="530.1" stroke="#6f6f6f" stroke-width="0.8"/>
<text x="220.7" y="533.3" font-size="9.0" text-anchor="end" fill="#262626">0</text>
<line x1="223.7" y1="504.32" x2="225.7" y2="504.32" stroke="#6f6f6f" stroke-width="0.8"/>
<line x1="420.4" y1="504.32" x2="418.4" y2="504.32" stroke="#6f6f6f" stroke-width="0.8"/>
<text x="220.7" y="507.52" font-size="9.0" text-anchor="end" fill="#262626">0.002</text>
<line x1="223.7" y1="478.53" x2="225.7" y2="478.53" stroke="#6f6f6f" stroke-width="0.8"/>
<line x1="420.4" y1="478.53" x2="418.4" y2="478.53" stroke="#6f6f6f" stroke-width="0.8"/>
<text x="220.7" y="481.73" font-size="9.0" text-anchor="end" fill="#262626">0.004</text>
<line x1="223.7" y1="452.75" x2="225.7" y2="452.75" stroke="#6f6f6f" stroke-width="0.8"/>
<line x1="420.4" y1="452.75" x2="418.4" y2="452.75" stroke="#6f6f6f" stroke-width="0.8"/>
<text x="220.7" y="455.95" font-size="9.0" text-anchor="end" fill="#262626">0.006</text>
<line x1="223.7" y1="426.97" x2="225.7" y2="426.97" stroke="#6f6f6f" stroke-width="0.8"/>
<line x1="420.4" y1="426.97" x2="418.4" y2="426.97" stroke="#6f6f6f" stroke-width="0.8"/>
<text x="220.7" y="430.17" font-size="9.0" text-anchor="end" fill="#262626">0.008</text>
<line x1="223.7" y1="401.18" x2="225.7" y2="401.18" stroke="#6f6f6f" stroke-width="0.8"/>
<line x1="420.4" y1="401.18" x2="418.4" y2="401.18" stroke="#6f6f6f" stroke-width="0.8"/>
<text x="220.7" y="404.38" font-size="9.0" text-anchor="end" fill="#262626">0.010</text>
<line x1="223.7" y1="375.4" x2="225.7" y2="375.4" stroke="#6f6f6f" stroke-width="0.8"/>
<line x1="420.4" y1="375.4" x2="418.4" y2="375.4" stroke="#6f6f6f" stroke-width="0.8"/>
<text x="220.7" y="378.6" font-size="9.0" text-anchor="end" fill="#262626">0.012</text>
<text x="318.55" y="554.2" font-size="10.6" text-anchor="middle" fill="#262626">Distance (Å)</text>
<text transform="translate(190.1,453) rotate(-90)" font-size="10.4" text-anchor="middle" fill="#262626">Distance Distribution</text>
<polyline points="227.24,518.41 231.04,498.8 234.83,472.46 238.63,441.32 242.43,427.31 246.22,415.65 250.02,408.07 253.81,402.67 257.61,400.04 261.41,398.8 265.2,398.51 269,398.4 272.8,398.49 276.59,399.17 280.39,401.13 284.19,404.09 287.98,407.67 291.78,411.86 295.57,417 299.37,421.93 303.17,426.86 306.96,432.14 310.76,438.29 314.56,444.03 318.35,449.47 322.15,454.4 325.94,459.82 329.74,464.76 333.54,470.96 337.33,475.74 341.13,480.32 344.93,484.91 348.72,489.37 352.52,493.52 356.32,496.98 360.11,500.2 363.91,503.22 367.7,506.33 371.5,508.76 375.3,511.04 379.09,513.35 382.89,515.44 386.69,516.98 390.48,518.98 394.28,520.69 398.07,522.31 401.87,524.08 405.67,525.51 409.46,526.91" stroke="#A8A8A8" stroke-width="1.1" fill="none" stroke-linejoin="round" stroke-linecap="round"/>
<g fill="#A8A8A8"><circle cx="227.24" cy="518.41" r="1.75"/><circle cx="231.04" cy="498.8" r="1.75"/><circle cx="234.83" cy="472.46" r="1.75"/><circle cx="238.63" cy="441.32" r="1.75"/><circle cx="242.43" cy="427.31" r="1.75"/><circle cx="246.22" cy="415.65" r="1.75"/><circle cx="250.02" cy="408.07" r="1.75"/><circle cx="253.81" cy="402.67" r="1.75"/><circle cx="257.61" cy="400.04" r="1.75"/><circle cx="261.41" cy="398.8" r="1.75"/><circle cx="265.2" cy="398.51" r="1.75"/><circle cx="269" cy="398.4" r="1.75"/><circle cx="272.8" cy="398.49" r="1.75"/><circle cx="276.59" cy="399.17" r="1.75"/><circle cx="280.39" cy="401.13" r="1.75"/><circle cx="284.19" cy="404.09" r="1.75"/><circle cx="287.98" cy="407.67" r="1.75"/><circle cx="291.78" cy="411.86" r="1.75"/><circle cx="295.57" cy="417" r="1.75"/><circle cx="299.37" cy="421.93" r="1.75"/><circle cx="303.17" cy="426.86" r="1.75"/><circle cx="306.96" cy="432.14" r="1.75"/><circle cx="310.76" cy="438.29" r="1.75"/><circle cx="314.56" cy="444.03" r="1.75"/><circle cx="318.35" cy="449.47" r="1.75"/><circle cx="322.15" cy="454.4" r="1.75"/><circle cx="325.94" cy="459.82" r="1.75"/><circle cx="329.74" cy="464.76" r="1.75"/><circle cx="333.54" cy="470.96" r="1.75"/><circle cx="337.33" cy="475.74" r="1.75"/><circle cx="341.13" cy="480.32" r="1.75"/><circle cx="344.93" cy="484.91" r="1.75"/><circle cx="348.72" cy="489.37" r="1.75"/><circle cx="352.52" cy="493.52" r="1.75"/><circle cx="356.32" cy="496.98" r="1.75"/><circle cx="360.11" cy="500.2" r="1.75"/><circle cx="363.91" cy="503.22" r="1.75"/><circle cx="367.7" cy="506.33" r="1.75"/><circle cx="371.5" cy="508.76" r="1.75"/><circle cx="375.3" cy="511.04" r="1.75"/><circle cx="379.09" cy="513.35" r="1.75"/><circle cx="382.89" cy="515.44" r="1.75"/><circle cx="386.69" cy="516.98" r="1.75"/><circle cx="390.48" cy="518.98" r="1.75"/><circle cx="394.28" cy="520.69" r="1.75"/><circle cx="398.07" cy="522.31" r="1.75"/><circle cx="401.87" cy="524.08" r="1.75"/><circle cx="405.67" cy="525.51" r="1.75"/><circle cx="409.46" cy="526.91" r="1.75"/></g>
<polyline points="227.24,513.13 231.04,495.91 234.83,477.35 238.63,458.55 242.43,441.65 246.22,432.72 250.02,426.23 253.81,424.32 257.61,424.32 261.41,424.71 265.2,423.97 269,422.25 272.8,420.12 276.59,417.24 280.39,414.94 284.19,413.65 287.98,413.67 291.78,415.16 295.57,417.18 299.37,419.87 303.17,422.37 306.96,424.87 310.76,428.27 314.56,432.37 318.35,437.27 322.15,443.56 325.94,450.13 329.74,456.14 333.54,462.36 337.33,467.56 341.13,472.8 344.93,478.17 348.72,483.24 352.52,487.79 356.32,492.28 360.11,496.63 363.91,500.48 367.7,503.94 371.5,507.16 375.3,509.79 379.09,512.16 382.89,514.62 386.69,516.76 390.48,518.4 394.28,520.69 398.07,522.97 401.87,525.67 405.67,527.6 409.46,527.88" stroke="#0a6cb8" stroke-width="1.1" fill="none" stroke-linejoin="round" stroke-linecap="round"/>
<g fill="#0a6cb8"><circle cx="227.24" cy="513.13" r="1.75"/><circle cx="231.04" cy="495.91" r="1.75"/><circle cx="234.83" cy="477.35" r="1.75"/><circle cx="238.63" cy="458.55" r="1.75"/><circle cx="242.43" cy="441.65" r="1.75"/><circle cx="246.22" cy="432.72" r="1.75"/><circle cx="250.02" cy="426.23" r="1.75"/><circle cx="253.81" cy="424.32" r="1.75"/><circle cx="257.61" cy="424.32" r="1.75"/><circle cx="261.41" cy="424.71" r="1.75"/><circle cx="265.2" cy="423.97" r="1.75"/><circle cx="269" cy="422.25" r="1.75"/><circle cx="272.8" cy="420.12" r="1.75"/><circle cx="276.59" cy="417.24" r="1.75"/><circle cx="280.39" cy="414.94" r="1.75"/><circle cx="284.19" cy="413.65" r="1.75"/><circle cx="287.98" cy="413.67" r="1.75"/><circle cx="291.78" cy="415.16" r="1.75"/><circle cx="295.57" cy="417.18" r="1.75"/><circle cx="299.37" cy="419.87" r="1.75"/><circle cx="303.17" cy="422.37" r="1.75"/><circle cx="306.96" cy="424.87" r="1.75"/><circle cx="310.76" cy="428.27" r="1.75"/><circle cx="314.56" cy="432.37" r="1.75"/><circle cx="318.35" cy="437.27" r="1.75"/><circle cx="322.15" cy="443.56" r="1.75"/><circle cx="325.94" cy="450.13" r="1.75"/><circle cx="329.74" cy="456.14" r="1.75"/><circle cx="333.54" cy="462.36" r="1.75"/><circle cx="337.33" cy="467.56" r="1.75"/><circle cx="341.13" cy="472.8" r="1.75"/><circle cx="344.93" cy="478.17" r="1.75"/><circle cx="348.72" cy="483.24" r="1.75"/><circle cx="352.52" cy="487.79" r="1.75"/><circle cx="356.32" cy="492.28" r="1.75"/><circle cx="360.11" cy="496.63" r="1.75"/><circle cx="363.91" cy="500.48" r="1.75"/><circle cx="367.7" cy="503.94" r="1.75"/><circle cx="371.5" cy="507.16" r="1.75"/><circle cx="375.3" cy="509.79" r="1.75"/><circle cx="379.09" cy="512.16" r="1.75"/><circle cx="382.89" cy="514.62" r="1.75"/><circle cx="386.69" cy="516.76" r="1.75"/><circle cx="390.48" cy="518.4" r="1.75"/><circle cx="394.28" cy="520.69" r="1.75"/><circle cx="398.07" cy="522.97" r="1.75"/><circle cx="401.87" cy="525.67" r="1.75"/><circle cx="405.67" cy="527.6" r="1.75"/><circle cx="409.46" cy="527.88" r="1.75"/></g>
<polyline points="227.24,520.56 231.04,499.57 234.83,471.74 238.63,448.48 242.43,433.63 246.22,424.16 250.02,419.39 253.81,417.63 257.61,417.3 261.41,417.6 265.2,418.59 269,418.15 272.8,417.07 276.59,415.74 280.39,414.43 284.19,413.8 287.98,413.8 291.78,414.71 295.57,416.4 299.37,418.04 303.17,420.18 306.96,423.37 310.76,426.97 314.56,432 318.35,436.67 322.15,442.61 325.94,449.18 329.74,454.05 333.54,459.62 337.33,465.56 341.13,471.23 344.93,476.59 348.72,481.74 352.52,486.82 356.32,491.67 360.11,495.73 363.91,499.47 367.7,502.91 371.5,506.59 375.3,509.13 379.09,511.85 382.89,514.47 386.69,516.52 390.48,518.56 394.28,520.72 398.07,522.28 401.87,523.72 405.67,524.88 409.46,526.07" stroke="#52bbe0" stroke-width="1.1" fill="none" stroke-linejoin="round" stroke-linecap="round"/>
<g fill="#52bbe0"><circle cx="227.24" cy="520.56" r="1.75"/><circle cx="231.04" cy="499.57" r="1.75"/><circle cx="234.83" cy="471.74" r="1.75"/><circle cx="238.63" cy="448.48" r="1.75"/><circle cx="242.43" cy="433.63" r="1.75"/><circle cx="246.22" cy="424.16" r="1.75"/><circle cx="250.02" cy="419.39" r="1.75"/><circle cx="253.81" cy="417.63" r="1.75"/><circle cx="257.61" cy="417.3" r="1.75"/><circle cx="261.41" cy="417.6" r="1.75"/><circle cx="265.2" cy="418.59" r="1.75"/><circle cx="269" cy="418.15" r="1.75"/><circle cx="272.8" cy="417.07" r="1.75"/><circle cx="276.59" cy="415.74" r="1.75"/><circle cx="280.39" cy="414.43" r="1.75"/><circle cx="284.19" cy="413.8" r="1.75"/><circle cx="287.98" cy="413.8" r="1.75"/><circle cx="291.78" cy="414.71" r="1.75"/><circle cx="295.57" cy="416.4" r="1.75"/><circle cx="299.37" cy="418.04" r="1.75"/><circle cx="303.17" cy="420.18" r="1.75"/><circle cx="306.96" cy="423.37" r="1.75"/><circle cx="310.76" cy="426.97" r="1.75"/><circle cx="314.56" cy="432" r="1.75"/><circle cx="318.35" cy="436.67" r="1.75"/><circle cx="322.15" cy="442.61" r="1.75"/><circle cx="325.94" cy="449.18" r="1.75"/><circle cx="329.74" cy="454.05" r="1.75"/><circle cx="333.54" cy="459.62" r="1.75"/><circle cx="337.33" cy="465.56" r="1.75"/><circle cx="341.13" cy="471.23" r="1.75"/><circle cx="344.93" cy="476.59" r="1.75"/><circle cx="348.72" cy="481.74" r="1.75"/><circle cx="352.52" cy="486.82" r="1.75"/><circle cx="356.32" cy="491.67" r="1.75"/><circle cx="360.11" cy="495.73" r="1.75"/><circle cx="363.91" cy="499.47" r="1.75"/><circle cx="367.7" cy="502.91" r="1.75"/><circle cx="371.5" cy="506.59" r="1.75"/><circle cx="375.3" cy="509.13" r="1.75"/><circle cx="379.09" cy="511.85" r="1.75"/><circle cx="382.89" cy="514.47" r="1.75"/><circle cx="386.69" cy="516.52" r="1.75"/><circle cx="390.48" cy="518.56" r="1.75"/><circle cx="394.28" cy="520.72" r="1.75"/><circle cx="398.07" cy="522.28" r="1.75"/><circle cx="401.87" cy="523.72" r="1.75"/><circle cx="405.67" cy="524.88" r="1.75"/><circle cx="409.46" cy="526.07" r="1.75"/></g>
<rect x="323.3" y="381.4" width="91.2" height="50.6" fill="#fff" stroke="#6f6f6f" stroke-width="0.8"/>
<text x="330.8" y="392.8" font-size="10.4" fill="#262626"><tspan font-weight="bold">N</tspan> data source:</text>
<circle cx="329.7" cy="401.5" r="2.2" fill="#0a6cb8"/>
<text x="335.3" y="405.3" font-size="10.4" text-anchor="start" fill="#262626">SAXS</text>
<circle cx="329.7" cy="413.3" r="2.2" fill="#A8A8A8"/>
<text x="335.3" y="416.6" font-size="10.4" text-anchor="start" fill="#262626">Simulation</text>
<circle cx="329.7" cy="425.1" r="2.2" fill="#52bbe0"/>
<text x="335.3" y="427.9" font-size="10.4" text-anchor="start" fill="#262626">Reweighed Sim.</text>
<text x="429.8" y="380.5" font-size="12.5" text-anchor="start" fill="#1a1a1a" font-weight="bold">h</text>
<rect x="477.3" y="374.8" width="196.9" height="155.4" fill="none" stroke="#6f6f6f" stroke-width="0.9"/>
<line x1="477.3" y1="530.2" x2="477.3" y2="528.2" stroke="#6f6f6f" stroke-width="0.8"/>
<line x1="477.3" y1="374.8" x2="477.3" y2="376.8" stroke="#6f6f6f" stroke-width="0.8"/>
<text x="473.8" y="539.8" font-size="9.0" text-anchor="middle" fill="#262626">0</text>
<line x1="526.52" y1="530.2" x2="526.52" y2="528.2" stroke="#6f6f6f" stroke-width="0.8"/>
<line x1="526.52" y1="374.8" x2="526.52" y2="376.8" stroke="#6f6f6f" stroke-width="0.8"/>
<text x="523.02" y="539.8" font-size="9.0" text-anchor="middle" fill="#262626">50</text>
<line x1="575.75" y1="530.2" x2="575.75" y2="528.2" stroke="#6f6f6f" stroke-width="0.8"/>
<line x1="575.75" y1="374.8" x2="575.75" y2="376.8" stroke="#6f6f6f" stroke-width="0.8"/>
<text x="572.25" y="539.8" font-size="9.0" text-anchor="middle" fill="#262626">100</text>
<line x1="624.98" y1="530.2" x2="624.98" y2="528.2" stroke="#6f6f6f" stroke-width="0.8"/>
<line x1="624.98" y1="374.8" x2="624.98" y2="376.8" stroke="#6f6f6f" stroke-width="0.8"/>
<text x="621.48" y="539.8" font-size="9.0" text-anchor="middle" fill="#262626">150</text>
<line x1="674.2" y1="530.2" x2="674.2" y2="528.2" stroke="#6f6f6f" stroke-width="0.8"/>
<line x1="674.2" y1="374.8" x2="674.2" y2="376.8" stroke="#6f6f6f" stroke-width="0.8"/>
<text x="670.7" y="539.8" font-size="9.0" text-anchor="middle" fill="#262626">200</text>
<line x1="477.3" y1="530.2" x2="479.3" y2="530.2" stroke="#6f6f6f" stroke-width="0.8"/>
<line x1="674.2" y1="530.2" x2="672.2" y2="530.2" stroke="#6f6f6f" stroke-width="0.8"/>
<text x="474.3" y="533.4" font-size="9.0" text-anchor="end" fill="#262626">0</text>
<line x1="477.3" y1="504.3" x2="479.3" y2="504.3" stroke="#6f6f6f" stroke-width="0.8"/>
<line x1="674.2" y1="504.3" x2="672.2" y2="504.3" stroke="#6f6f6f" stroke-width="0.8"/>
<text x="474.3" y="507.5" font-size="9.0" text-anchor="end" fill="#262626">0.002</text>
<line x1="477.3" y1="478.4" x2="479.3" y2="478.4" stroke="#6f6f6f" stroke-width="0.8"/>
<line x1="674.2" y1="478.4" x2="672.2" y2="478.4" stroke="#6f6f6f" stroke-width="0.8"/>
<text x="474.3" y="481.6" font-size="9.0" text-anchor="end" fill="#262626">0.004</text>
<line x1="477.3" y1="452.5" x2="479.3" y2="452.5" stroke="#6f6f6f" stroke-width="0.8"/>
<line x1="674.2" y1="452.5" x2="672.2" y2="452.5" stroke="#6f6f6f" stroke-width="0.8"/>
<text x="474.3" y="455.7" font-size="9.0" text-anchor="end" fill="#262626">0.006</text>
<line x1="477.3" y1="426.6" x2="479.3" y2="426.6" stroke="#6f6f6f" stroke-width="0.8"/>
<line x1="674.2" y1="426.6" x2="672.2" y2="426.6" stroke="#6f6f6f" stroke-width="0.8"/>
<text x="474.3" y="429.8" font-size="9.0" text-anchor="end" fill="#262626">0.008</text>
<line x1="477.3" y1="400.7" x2="479.3" y2="400.7" stroke="#6f6f6f" stroke-width="0.8"/>
<line x1="674.2" y1="400.7" x2="672.2" y2="400.7" stroke="#6f6f6f" stroke-width="0.8"/>
<text x="474.3" y="403.9" font-size="9.0" text-anchor="end" fill="#262626">0.010</text>
<line x1="477.3" y1="374.8" x2="479.3" y2="374.8" stroke="#6f6f6f" stroke-width="0.8"/>
<line x1="674.2" y1="374.8" x2="672.2" y2="374.8" stroke="#6f6f6f" stroke-width="0.8"/>
<text x="474.3" y="378" font-size="9.0" text-anchor="end" fill="#262626">0.012</text>
<text x="572.25" y="554.2" font-size="10.6" text-anchor="middle" fill="#262626">Distance (Å)</text>
<text transform="translate(443.7,453) rotate(-90)" font-size="10.4" text-anchor="middle" fill="#262626">Distance Distribution</text>
<polyline points="480.84,517.8 484.64,495.92 488.44,468.98 492.24,441.52 496.04,423.03 499.85,409.6 503.65,400.58 507.45,393.99 511.25,389.98 515.05,387.77 518.85,386.54 522.65,385.88 526.45,386.03 530.25,386.9 534.05,389.26 537.85,392.81 541.65,397.64 545.45,403.29 549.25,409.77 553.05,416.57 556.85,423.37 560.65,430.43 564.45,437.96 568.25,445.37 572.05,452.09 575.85,458.43 579.65,465.01 583.45,471.67 587.25,477.51 591.05,483.03 594.85,488.34 598.65,492.95 602.45,497.08 606.25,501.03 610.05,504.49 613.85,507.56 617.65,510.3 621.45,512.69 625.25,514.55 629.05,516.38 632.85,518.33 636.65,520.22 640.45,522.07" stroke="#A8A8A8" stroke-width="1.1" fill="none" stroke-linejoin="round" stroke-linecap="round"/>
<g fill="#A8A8A8"><circle cx="480.84" cy="517.8" r="1.75"/><circle cx="484.64" cy="495.92" r="1.75"/><circle cx="488.44" cy="468.98" r="1.75"/><circle cx="492.24" cy="441.52" r="1.75"/><circle cx="496.04" cy="423.03" r="1.75"/><circle cx="499.85" cy="409.6" r="1.75"/><circle cx="503.65" cy="400.58" r="1.75"/><circle cx="507.45" cy="393.99" r="1.75"/><circle cx="511.25" cy="389.98" r="1.75"/><circle cx="515.05" cy="387.77" r="1.75"/><circle cx="518.85" cy="386.54" r="1.75"/><circle cx="522.65" cy="385.88" r="1.75"/><circle cx="526.45" cy="386.03" r="1.75"/><circle cx="530.25" cy="386.9" r="1.75"/><circle cx="534.05" cy="389.26" r="1.75"/><circle cx="537.85" cy="392.81" r="1.75"/><circle cx="541.65" cy="397.64" r="1.75"/><circle cx="545.45" cy="403.29" r="1.75"/><circle cx="549.25" cy="409.77" r="1.75"/><circle cx="553.05" cy="416.57" r="1.75"/><circle cx="556.85" cy="423.37" r="1.75"/><circle cx="560.65" cy="430.43" r="1.75"/><circle cx="564.45" cy="437.96" r="1.75"/><circle cx="568.25" cy="445.37" r="1.75"/><circle cx="572.05" cy="452.09" r="1.75"/><circle cx="575.85" cy="458.43" r="1.75"/><circle cx="579.65" cy="465.01" r="1.75"/><circle cx="583.45" cy="471.67" r="1.75"/><circle cx="587.25" cy="477.51" r="1.75"/><circle cx="591.05" cy="483.03" r="1.75"/><circle cx="594.85" cy="488.34" r="1.75"/><circle cx="598.65" cy="492.95" r="1.75"/><circle cx="602.45" cy="497.08" r="1.75"/><circle cx="606.25" cy="501.03" r="1.75"/><circle cx="610.05" cy="504.49" r="1.75"/><circle cx="613.85" cy="507.56" r="1.75"/><circle cx="617.65" cy="510.3" r="1.75"/><circle cx="621.45" cy="512.69" r="1.75"/><circle cx="625.25" cy="514.55" r="1.75"/><circle cx="629.05" cy="516.38" r="1.75"/><circle cx="632.85" cy="518.33" r="1.75"/><circle cx="636.65" cy="520.22" r="1.75"/><circle cx="640.45" cy="522.07" r="1.75"/></g>
<polyline points="480.84,513.17 484.64,495.73 488.44,476.26 492.24,456.6 496.04,439.5 499.85,428.56 503.65,421.43 507.45,416.76 511.25,412.4 515.05,410.03 518.85,407.44 522.65,404.98 526.45,403.44 530.25,402.24 534.05,401.01 537.85,400.69 541.65,401.35 545.45,403.18 549.25,406.19 553.05,411 556.85,417.02 560.65,424.21 564.45,431.08 568.25,437.27 572.05,443.79 575.85,450.4 579.65,456.94 583.45,463.43 587.25,469.47 591.05,475.1 594.85,480.65 598.65,485.78 602.45,490.31 606.25,494.28 610.05,498.06 613.85,502.03 617.65,505.97 621.45,510.39 625.25,513.88 629.05,518.38 632.85,522.34 636.65,526.22 640.45,529.8" stroke="#d4461a" stroke-width="1.1" fill="none" stroke-linejoin="round" stroke-linecap="round"/>
<g fill="#d4461a"><circle cx="480.84" cy="513.17" r="1.75"/><circle cx="484.64" cy="495.73" r="1.75"/><circle cx="488.44" cy="476.26" r="1.75"/><circle cx="492.24" cy="456.6" r="1.75"/><circle cx="496.04" cy="439.5" r="1.75"/><circle cx="499.85" cy="428.56" r="1.75"/><circle cx="503.65" cy="421.43" r="1.75"/><circle cx="507.45" cy="416.76" r="1.75"/><circle cx="511.25" cy="412.4" r="1.75"/><circle cx="515.05" cy="410.03" r="1.75"/><circle cx="518.85" cy="407.44" r="1.75"/><circle cx="522.65" cy="404.98" r="1.75"/><circle cx="526.45" cy="403.44" r="1.75"/><circle cx="530.25" cy="402.24" r="1.75"/><circle cx="534.05" cy="401.01" r="1.75"/><circle cx="537.85" cy="400.69" r="1.75"/><circle cx="541.65" cy="401.35" r="1.75"/><circle cx="545.45" cy="403.18" r="1.75"/><circle cx="549.25" cy="406.19" r="1.75"/><circle cx="553.05" cy="411" r="1.75"/><circle cx="556.85" cy="417.02" r="1.75"/><circle cx="560.65" cy="424.21" r="1.75"/><circle cx="564.45" cy="431.08" r="1.75"/><circle cx="568.25" cy="437.27" r="1.75"/><circle cx="572.05" cy="443.79" r="1.75"/><circle cx="575.85" cy="450.4" r="1.75"/><circle cx="579.65" cy="456.94" r="1.75"/><circle cx="583.45" cy="463.43" r="1.75"/><circle cx="587.25" cy="469.47" r="1.75"/><circle cx="591.05" cy="475.1" r="1.75"/><circle cx="594.85" cy="480.65" r="1.75"/><circle cx="598.65" cy="485.78" r="1.75"/><circle cx="602.45" cy="490.31" r="1.75"/><circle cx="606.25" cy="494.28" r="1.75"/><circle cx="610.05" cy="498.06" r="1.75"/><circle cx="613.85" cy="502.03" r="1.75"/><circle cx="617.65" cy="505.97" r="1.75"/><circle cx="621.45" cy="510.39" r="1.75"/><circle cx="625.25" cy="513.88" r="1.75"/><circle cx="629.05" cy="518.38" r="1.75"/><circle cx="632.85" cy="522.34" r="1.75"/><circle cx="636.65" cy="526.22" r="1.75"/><circle cx="640.45" cy="529.8" r="1.75"/></g>
<polyline points="480.84,517.88 484.64,496.54 488.44,470.22 492.24,445.61 496.04,429.22 499.85,419.36 503.65,413.71 507.45,410.2 511.25,408.26 515.05,407.01 518.85,405.6 522.65,403.75 526.45,401.56 530.25,399.51 534.05,398.75 537.85,398.7 541.65,399.55 545.45,402.49 549.25,406.52 553.05,410.98 556.85,416.23 560.65,421.62 564.45,427.86 568.25,434.7 572.05,441.29 575.85,448.26 579.65,455.03 583.45,461.6 587.25,467.97 591.05,473.61 594.85,479.42 598.65,484.81 602.45,489.65 606.25,494.47 610.05,498.94 613.85,502.96 617.65,506.58 621.45,509.93 625.25,512.96 629.05,515.9 632.85,518.16 636.65,520.02 640.45,521.87" stroke="#EDB120" stroke-width="1.1" fill="none" stroke-linejoin="round" stroke-linecap="round"/>
<g fill="#EDB120"><circle cx="480.84" cy="517.88" r="1.75"/><circle cx="484.64" cy="496.54" r="1.75"/><circle cx="488.44" cy="470.22" r="1.75"/><circle cx="492.24" cy="445.61" r="1.75"/><circle cx="496.04" cy="429.22" r="1.75"/><circle cx="499.85" cy="419.36" r="1.75"/><circle cx="503.65" cy="413.71" r="1.75"/><circle cx="507.45" cy="410.2" r="1.75"/><circle cx="511.25" cy="408.26" r="1.75"/><circle cx="515.05" cy="407.01" r="1.75"/><circle cx="518.85" cy="405.6" r="1.75"/><circle cx="522.65" cy="403.75" r="1.75"/><circle cx="526.45" cy="401.56" r="1.75"/><circle cx="530.25" cy="399.51" r="1.75"/><circle cx="534.05" cy="398.75" r="1.75"/><circle cx="537.85" cy="398.7" r="1.75"/><circle cx="541.65" cy="399.55" r="1.75"/><circle cx="545.45" cy="402.49" r="1.75"/><circle cx="549.25" cy="406.52" r="1.75"/><circle cx="553.05" cy="410.98" r="1.75"/><circle cx="556.85" cy="416.23" r="1.75"/><circle cx="560.65" cy="421.62" r="1.75"/><circle cx="564.45" cy="427.86" r="1.75"/><circle cx="568.25" cy="434.7" r="1.75"/><circle cx="572.05" cy="441.29" r="1.75"/><circle cx="575.85" cy="448.26" r="1.75"/><circle cx="579.65" cy="455.03" r="1.75"/><circle cx="583.45" cy="461.6" r="1.75"/><circle cx="587.25" cy="467.97" r="1.75"/><circle cx="591.05" cy="473.61" r="1.75"/><circle cx="594.85" cy="479.42" r="1.75"/><circle cx="598.65" cy="484.81" r="1.75"/><circle cx="602.45" cy="489.65" r="1.75"/><circle cx="606.25" cy="494.47" r="1.75"/><circle cx="610.05" cy="498.94" r="1.75"/><circle cx="613.85" cy="502.96" r="1.75"/><circle cx="617.65" cy="506.58" r="1.75"/><circle cx="621.45" cy="509.93" r="1.75"/><circle cx="625.25" cy="512.96" r="1.75"/><circle cx="629.05" cy="515.9" r="1.75"/><circle cx="632.85" cy="518.16" r="1.75"/><circle cx="636.65" cy="520.02" r="1.75"/><circle cx="640.45" cy="521.87" r="1.75"/></g>
<rect x="576.9" y="381.4" width="91.2" height="50.6" fill="#fff" stroke="#6f6f6f" stroke-width="0.8"/>
<text x="584.4" y="392.8" font-size="10.4" fill="#262626"><tspan font-weight="bold">pN</tspan> data source:</text>
<circle cx="583.3" cy="401.5" r="2.2" fill="#d4461a"/>
<text x="588.9" y="405.3" font-size="10.4" text-anchor="start" fill="#262626">SAXS</text>
<circle cx="583.3" cy="413.3" r="2.2" fill="#A8A8A8"/>
<text x="588.9" y="416.6" font-size="10.4" text-anchor="start" fill="#262626">Simulation</text>
<circle cx="583.3" cy="425.1" r="2.2" fill="#EDB120"/>
<text x="588.9" y="427.9" font-size="10.4" text-anchor="start" fill="#262626">Reweighed Sim.</text>
<text x="9.5" y="380.7" font-size="12.5" text-anchor="start" fill="#1a1a1a" font-weight="bold">f</text>
<text x="19.2" y="382" font-size="13.1" text-anchor="start" fill="#2a2a2a">Example Conformations</text>
<text x="65.7" y="399.9" font-size="10.5" fill="#262626">R<tspan font-size="6.5" dy="3">g</tspan><tspan dy="-3"> = 69.0 Å</tspan></text>
<text x="65.7" y="458.2" font-size="10.5" fill="#262626">R<tspan font-size="6.5" dy="3">g</tspan><tspan dy="-3"> = 47.1 Å</tspan></text>
<text x="65.9" y="523.9" font-size="10.5" fill="#262626">R<tspan font-size="6.5" dy="3">g</tspan><tspan dy="-3"> = 38.7 Å</tspan></text>
<polyline points="43.3,434.5 43.85,432.73 44.5,431 46.1,428.9 45.32,427.28 45.5,425.5 46.66,424.22 46.82,422.49 47.5,421 49.1,419.92 49,418 50.73,417.35 52,416 53.42,416.72 55,416.5 55.38,418.04 56,419.5 57.5,421.5" stroke="#6e6e6e" stroke-width="1.9" fill="none" stroke-linejoin="round" stroke-linecap="round"/>
<g><circle cx="43.41" cy="434.85" r="0.8" fill="#7b7b7b"/><circle cx="43.44" cy="433.09" r="0.8" fill="#7b7b7b"/><circle cx="44.38" cy="431.06" r="0.8" fill="#555555"/><circle cx="44.66" cy="430.41" r="0.8" fill="#555555"/><circle cx="45.98" cy="429.3" r="0.8" fill="#7b7b7b"/><circle cx="44.91" cy="427.25" r="0.8" fill="#555555"/><circle cx="46.09" cy="425.34" r="0.8" fill="#555555"/><circle cx="47.56" cy="423.98" r="0.8" fill="#7b7b7b"/><circle cx="47.73" cy="422.44" r="0.8" fill="#7b7b7b"/><circle cx="48.25" cy="421.55" r="0.8" fill="#555555"/><circle cx="49.03" cy="418.96" r="0.8" fill="#7b7b7b"/><circle cx="48.75" cy="417.94" r="0.8" fill="#7b7b7b"/><circle cx="49.8" cy="417.19" r="0.8" fill="#7b7b7b"/><circle cx="52.2" cy="415.55" r="0.8" fill="#7b7b7b"/><circle cx="53.33" cy="416.03" r="0.8" fill="#7b7b7b"/><circle cx="55.1" cy="417.44" r="0.8" fill="#7b7b7b"/><circle cx="55.72" cy="417.95" r="0.8" fill="#7b7b7b"/><circle cx="55.98" cy="420.01" r="0.8" fill="#555555"/><circle cx="57.56" cy="421.84" r="0.8" fill="#7b7b7b"/></g>
<polyline points="50.5,416.2 51.65,417.05 53,417.5 54.87,417.57 56.5,418.5" stroke="#6e6e6e" stroke-width="1.6" fill="none" stroke-linejoin="round" stroke-linecap="round"/>
<g><circle cx="49.85" cy="415.92" r="0.67" fill="#555555"/><circle cx="52.84" cy="417.09" r="0.67" fill="#555555"/><circle cx="54.4" cy="418.23" r="0.67" fill="#555555"/><circle cx="56.3" cy="418.86" r="0.67" fill="#7b7b7b"/></g>
<polyline points="88.8,424.4 90.42,423.89 92,424.5 94.5,425.4 96.22,425.47 97,427 98.59,427.3 100.2,427.3 101.62,428.37 103,429.5 104.47,430.26 105.9,431.1 107.28,431.51 108.05,433.14 109.7,433 109.34,434.59 108.5,436 107.8,438.6" stroke="#6e6e6e" stroke-width="2.0" fill="none" stroke-linejoin="round" stroke-linecap="round"/>
<g><circle cx="88.39" cy="425.1" r="0.84" fill="#7b7b7b"/><circle cx="90.6" cy="422.92" r="0.84" fill="#555555"/><circle cx="92.33" cy="424.51" r="0.84" fill="#555555"/><circle cx="92.82" cy="425.45" r="0.84" fill="#7b7b7b"/><circle cx="95.96" cy="425.39" r="0.84" fill="#7b7b7b"/><circle cx="96.17" cy="425.29" r="0.84" fill="#555555"/><circle cx="97.31" cy="426.55" r="0.84" fill="#7b7b7b"/><circle cx="100.07" cy="427.46" r="0.84" fill="#7b7b7b"/><circle cx="100.78" cy="427.41" r="0.84" fill="#7b7b7b"/><circle cx="102.36" cy="429.11" r="0.84" fill="#555555"/><circle cx="102.44" cy="429.36" r="0.84" fill="#7b7b7b"/><circle cx="105.26" cy="430.65" r="0.84" fill="#7b7b7b"/><circle cx="106.36" cy="432.18" r="0.84" fill="#7b7b7b"/><circle cx="107.17" cy="432.25" r="0.84" fill="#7b7b7b"/><circle cx="108.66" cy="433.36" r="0.84" fill="#7b7b7b"/><circle cx="108.51" cy="433.86" r="0.84" fill="#555555"/><circle cx="108.81" cy="435.3" r="0.84" fill="#555555"/><circle cx="108.8" cy="436.71" r="0.84" fill="#7b7b7b"/><circle cx="107.8" cy="438.66" r="0.84" fill="#7b7b7b"/></g>
<polyline points="93,425.5 94.05,426.88 95.67,427.5 97,428.5 98.29,429.4 99.68,430.15 101,431 102.72,431.32 104,432.5" stroke="#6e6e6e" stroke-width="1.6" fill="none" stroke-linejoin="round" stroke-linecap="round"/>
<g><circle cx="92.63" cy="425.03" r="0.67" fill="#555555"/><circle cx="93.89" cy="426.47" r="0.67" fill="#555555"/><circle cx="96.18" cy="426.92" r="0.67" fill="#7b7b7b"/><circle cx="97.49" cy="428.79" r="0.67" fill="#7b7b7b"/><circle cx="99.13" cy="429.57" r="0.67" fill="#555555"/><circle cx="100.25" cy="430.78" r="0.67" fill="#555555"/><circle cx="102.08" cy="431.24" r="0.67" fill="#7b7b7b"/><circle cx="105.08" cy="432.1" r="0.67" fill="#555555"/></g>
<polyline points="123,413.7 123.95,412.59 124.31,411.19 124.9,409.9 126.37,409.06 128,409.5 130.6,409 132.24,409.71 134,410 136.3,410.9 138.15,411.01 140,411 141.9,411.64 143.9,411.8 144.89,412.98 146.19,413.56 147.7,413.7" stroke="#6e6e6e" stroke-width="1.8" fill="none" stroke-linejoin="round" stroke-linecap="round"/>
<g><circle cx="123.21" cy="413.86" r="0.76" fill="#7b7b7b"/><circle cx="123.96" cy="412.39" r="0.76" fill="#555555"/><circle cx="124.63" cy="410.17" r="0.76" fill="#7b7b7b"/><circle cx="126.88" cy="409.19" r="0.76" fill="#555555"/><circle cx="127.34" cy="409.99" r="0.76" fill="#555555"/><circle cx="129.24" cy="409.16" r="0.76" fill="#555555"/><circle cx="130.43" cy="409.48" r="0.76" fill="#7b7b7b"/><circle cx="132.87" cy="409.84" r="0.76" fill="#7b7b7b"/><circle cx="134.33" cy="410.65" r="0.76" fill="#555555"/><circle cx="136.31" cy="410.67" r="0.76" fill="#7b7b7b"/><circle cx="137.8" cy="411.46" r="0.76" fill="#7b7b7b"/><circle cx="139.72" cy="410.25" r="0.76" fill="#555555"/><circle cx="140.28" cy="410.92" r="0.76" fill="#7b7b7b"/><circle cx="143.85" cy="411.08" r="0.76" fill="#555555"/><circle cx="144.21" cy="411.58" r="0.76" fill="#555555"/><circle cx="146.28" cy="413.35" r="0.76" fill="#7b7b7b"/><circle cx="147.52" cy="413.7" r="0.76" fill="#7b7b7b"/></g>
<polyline points="124.5,411 124.5,412.68 123.93,414.42 125,416 124.73,417.99 124.8,420 125.06,422.02 125.5,424" stroke="#6e6e6e" stroke-width="1.6" fill="none" stroke-linejoin="round" stroke-linecap="round"/>
<g><circle cx="124.22" cy="410.66" r="0.67" fill="#555555"/><circle cx="123.93" cy="412.51" r="0.67" fill="#7b7b7b"/><circle cx="123.93" cy="415.58" r="0.67" fill="#555555"/><circle cx="125.11" cy="416.68" r="0.67" fill="#7b7b7b"/><circle cx="124.45" cy="418.47" r="0.67" fill="#7b7b7b"/><circle cx="124.41" cy="419.5" r="0.67" fill="#7b7b7b"/><circle cx="125.76" cy="421.97" r="0.67" fill="#555555"/><circle cx="126.15" cy="423.91" r="0.67" fill="#7b7b7b"/></g>
<circle cx="57" cy="422.5" r="2.47" fill="#1f4f8e"/>
<circle cx="61" cy="423.5" r="2.47" fill="#1f4f8e"/>
<circle cx="64.5" cy="425.5" r="2.47" fill="#1f4f8e"/>
<circle cx="68" cy="427.5" r="2.47" fill="#1f4f8e"/>
<circle cx="71.5" cy="430" r="2.47" fill="#1f4f8e"/>
<circle cx="62" cy="428" r="2.47" fill="#1f4f8e"/>
<circle cx="67" cy="430.5" r="2.47" fill="#1f4f8e"/>
<circle cx="74" cy="432.5" r="2.47" fill="#1f4f8e"/>
<g><circle cx="59.18" cy="424.77" r="1.25" fill="#173b6a"/><circle cx="56.28" cy="423.83" r="1.25" fill="#245da7"/><circle cx="59.56" cy="424.19" r="1.25" fill="#173b6a"/><circle cx="59.73" cy="421.66" r="1.25" fill="#173b6a"/><circle cx="55.68" cy="422.42" r="1.25" fill="#1f4f8e"/><circle cx="59.69" cy="422.95" r="1.25" fill="#1f4f8e"/><circle cx="56.95" cy="422.88" r="1.25" fill="#245da7"/><circle cx="58.34" cy="423.84" r="1.25" fill="#173b6a"/><circle cx="55.45" cy="423.9" r="1.25" fill="#1f4f8e"/><circle cx="56.26" cy="423.98" r="1.25" fill="#1f4f8e"/><circle cx="56.66" cy="424.37" r="1.25" fill="#1f4f8e"/><circle cx="56.58" cy="425.28" r="1.25" fill="#173b6a"/><circle cx="56.05" cy="424.42" r="1.25" fill="#173b6a"/><circle cx="58.05" cy="420.84" r="1.25" fill="#1f4f8e"/><circle cx="58.05" cy="424.09" r="1.25" fill="#173b6a"/><circle cx="62.53" cy="420.67" r="1.25" fill="#173b6a"/><circle cx="62.42" cy="426.06" r="1.25" fill="#173b6a"/><circle cx="61.13" cy="424.41" r="1.25" fill="#1f4f8e"/><circle cx="63.86" cy="422.3" r="1.25" fill="#1f4f8e"/><circle cx="57.98" cy="424.73" r="1.25" fill="#1f4f8e"/><circle cx="63.63" cy="422.76" r="1.25" fill="#1f4f8e"/><circle cx="60.65" cy="422.39" r="1.25" fill="#173b6a"/><circle cx="63.92" cy="424.78" r="1.25" fill="#245da7"/><circle cx="59.97" cy="422.7" r="1.25" fill="#173b6a"/><circle cx="59.05" cy="424.18" r="1.25" fill="#173b6a"/><circle cx="63.25" cy="424.91" r="1.25" fill="#1f4f8e"/><circle cx="62.69" cy="424.21" r="1.25" fill="#173b6a"/><circle cx="58.52" cy="422.83" r="1.25" fill="#1f4f8e"/><circle cx="65.87" cy="423.96" r="1.25" fill="#173b6a"/><circle cx="64.82" cy="422.49" r="1.25" fill="#245da7"/><circle cx="65.21" cy="426.78" r="1.25" fill="#1f4f8e"/><circle cx="67.05" cy="424.97" r="1.25" fill="#1f4f8e"/><circle cx="62.98" cy="428.41" r="1.25" fill="#173b6a"/><circle cx="61.97" cy="424.51" r="1.25" fill="#245da7"/><circle cx="65.3" cy="423.61" r="1.25" fill="#173b6a"/><circle cx="66.93" cy="425.19" r="1.25" fill="#173b6a"/><circle cx="66.41" cy="427.76" r="1.25" fill="#245da7"/><circle cx="62.65" cy="424.63" r="1.25" fill="#1f4f8e"/><circle cx="66.99" cy="425.19" r="1.25" fill="#1f4f8e"/><circle cx="66.62" cy="423.56" r="1.25" fill="#1f4f8e"/><circle cx="65.7" cy="427.98" r="1.25" fill="#245da7"/><circle cx="65.75" cy="425.2" r="1.25" fill="#173b6a"/><circle cx="66.03" cy="425.23" r="1.25" fill="#173b6a"/><circle cx="66.72" cy="426.38" r="1.25" fill="#245da7"/><circle cx="67.39" cy="428.22" r="1.25" fill="#1f4f8e"/><circle cx="67.33" cy="429.53" r="1.25" fill="#173b6a"/><circle cx="67.41" cy="428.55" r="1.25" fill="#173b6a"/><circle cx="66.41" cy="426.64" r="1.25" fill="#1f4f8e"/><circle cx="70.04" cy="426.04" r="1.25" fill="#173b6a"/><circle cx="69.42" cy="427.13" r="1.25" fill="#173b6a"/><circle cx="65.44" cy="427.07" r="1.25" fill="#173b6a"/><circle cx="65.57" cy="428.45" r="1.25" fill="#1f4f8e"/><circle cx="67.56" cy="429.57" r="1.25" fill="#1f4f8e"/><circle cx="67.33" cy="429.97" r="1.25" fill="#1f4f8e"/><circle cx="65.64" cy="428.97" r="1.25" fill="#245da7"/><circle cx="66.86" cy="425.95" r="1.25" fill="#245da7"/><circle cx="73.85" cy="431.8" r="1.25" fill="#1f4f8e"/><circle cx="69.09" cy="431.83" r="1.25" fill="#1f4f8e"/><circle cx="74.55" cy="429.49" r="1.25" fill="#173b6a"/><circle cx="68.61" cy="429.94" r="1.25" fill="#173b6a"/><circle cx="68.33" cy="429.13" r="1.25" fill="#173b6a"/><circle cx="72.82" cy="431.19" r="1.25" fill="#173b6a"/><circle cx="71.02" cy="432.11" r="1.25" fill="#245da7"/><circle cx="68.98" cy="429.72" r="1.25" fill="#173b6a"/><circle cx="74.46" cy="431.27" r="1.25" fill="#173b6a"/><circle cx="73.31" cy="429.38" r="1.25" fill="#1f4f8e"/><circle cx="70.98" cy="429.16" r="1.25" fill="#173b6a"/><circle cx="70.4" cy="430.42" r="1.25" fill="#173b6a"/><circle cx="72.12" cy="431.74" r="1.25" fill="#1f4f8e"/><circle cx="70.78" cy="431.77" r="1.25" fill="#1f4f8e"/><circle cx="61.72" cy="427.38" r="1.25" fill="#245da7"/><circle cx="59.12" cy="429.34" r="1.25" fill="#173b6a"/><circle cx="62.97" cy="428.37" r="1.25" fill="#245da7"/><circle cx="59.42" cy="429.59" r="1.25" fill="#1f4f8e"/><circle cx="63.69" cy="429.04" r="1.25" fill="#173b6a"/><circle cx="59.26" cy="428.83" r="1.25" fill="#173b6a"/><circle cx="64.04" cy="426.98" r="1.25" fill="#1f4f8e"/><circle cx="61.44" cy="426.36" r="1.25" fill="#1f4f8e"/><circle cx="60.03" cy="429.15" r="1.25" fill="#173b6a"/><circle cx="62.89" cy="430.93" r="1.25" fill="#1f4f8e"/><circle cx="59.43" cy="429.36" r="1.25" fill="#245da7"/><circle cx="63.79" cy="430.77" r="1.25" fill="#173b6a"/><circle cx="60.72" cy="426.89" r="1.25" fill="#173b6a"/><circle cx="59.44" cy="428.09" r="1.25" fill="#1f4f8e"/><circle cx="66.28" cy="427.37" r="1.25" fill="#173b6a"/><circle cx="67.2" cy="433.07" r="1.25" fill="#1f4f8e"/><circle cx="66.06" cy="432.65" r="1.25" fill="#1f4f8e"/><circle cx="69.69" cy="428.76" r="1.25" fill="#245da7"/><circle cx="65.23" cy="433.05" r="1.25" fill="#1f4f8e"/><circle cx="68.47" cy="433.37" r="1.25" fill="#173b6a"/><circle cx="65.86" cy="428" r="1.25" fill="#245da7"/><circle cx="65.36" cy="427.67" r="1.25" fill="#173b6a"/><circle cx="68.42" cy="430.84" r="1.25" fill="#1f4f8e"/><circle cx="66.16" cy="430.94" r="1.25" fill="#173b6a"/><circle cx="65.16" cy="429.5" r="1.25" fill="#1f4f8e"/><circle cx="63.97" cy="431.14" r="1.25" fill="#1f4f8e"/><circle cx="65.03" cy="430.57" r="1.25" fill="#173b6a"/><circle cx="66.49" cy="432.4" r="1.25" fill="#1f4f8e"/><circle cx="74.98" cy="434.55" r="1.25" fill="#173b6a"/><circle cx="75.66" cy="430.7" r="1.25" fill="#173b6a"/><circle cx="73.22" cy="433.97" r="1.25" fill="#173b6a"/><circle cx="72.6" cy="432.67" r="1.25" fill="#173b6a"/><circle cx="73.36" cy="430.43" r="1.25" fill="#1f4f8e"/><circle cx="71.7" cy="432.94" r="1.25" fill="#173b6a"/><circle cx="71.95" cy="433.52" r="1.25" fill="#173b6a"/><circle cx="74.75" cy="431.05" r="1.25" fill="#173b6a"/><circle cx="72.37" cy="434.93" r="1.25" fill="#245da7"/><circle cx="72.18" cy="431.71" r="1.25" fill="#1f4f8e"/><circle cx="74.75" cy="431.06" r="1.25" fill="#1f4f8e"/><circle cx="73.49" cy="430.5" r="1.25" fill="#173b6a"/><circle cx="72.82" cy="431.55" r="1.25" fill="#1f4f8e"/><circle cx="70.89" cy="431.61" r="1.25" fill="#173b6a"/></g>
<polyline points="74.6,430.8 75.73,429.9 77.03,429.33 78.4,428.9 77.63,427.55 78.3,426.04 78.02,424.64 77.93,423.21 77.3,421.85 77.4,420.4 77.91,418.8 77.14,417.35 75.39,416.01 76.34,414.36 76.5,412.8 78.05,411.81 79.91,411.31 81.2,409.9 82.77,409.44 84.38,409.17 86,409 87.01,407.48 88.79,406.72 89.8,405.2 91.7,403.7 92.86,405.28 93.6,407.1 94.81,408.5 95.81,410.03 96.4,411.8 97.69,413 99.3,413.7" stroke="#1f9c52" stroke-width="1.8" fill="none" stroke-linejoin="round" stroke-linecap="round"/>
<g><circle cx="74.33" cy="429.96" r="0.76" fill="#22ae5b"/><circle cx="75.6" cy="429.99" r="0.76" fill="#18793f"/><circle cx="78.12" cy="429.71" r="0.76" fill="#22ae5b"/><circle cx="77.94" cy="427.6" r="0.76" fill="#18793f"/><circle cx="78.21" cy="427.45" r="0.76" fill="#18793f"/><circle cx="77.09" cy="425.91" r="0.76" fill="#18793f"/><circle cx="78.01" cy="423.5" r="0.76" fill="#22ae5b"/><circle cx="77.6" cy="421.12" r="0.76" fill="#18793f"/><circle cx="77.18" cy="420.02" r="0.76" fill="#22ae5b"/><circle cx="78.3" cy="418.49" r="0.76" fill="#22ae5b"/><circle cx="77.07" cy="417.5" r="0.76" fill="#22ae5b"/><circle cx="75.02" cy="415.81" r="0.76" fill="#22ae5b"/><circle cx="76.18" cy="415.24" r="0.76" fill="#18793f"/><circle cx="76.09" cy="413.34" r="0.76" fill="#18793f"/><circle cx="77.3" cy="412.05" r="0.76" fill="#22ae5b"/><circle cx="79.22" cy="411.97" r="0.76" fill="#22ae5b"/><circle cx="80.51" cy="409.81" r="0.76" fill="#18793f"/><circle cx="82.41" cy="410.78" r="0.76" fill="#18793f"/><circle cx="83.79" cy="409.35" r="0.76" fill="#22ae5b"/><circle cx="85.03" cy="409.4" r="0.76" fill="#18793f"/><circle cx="86.91" cy="407.85" r="0.76" fill="#22ae5b"/><circle cx="87.1" cy="406.39" r="0.76" fill="#22ae5b"/><circle cx="89.58" cy="406.29" r="0.76" fill="#22ae5b"/><circle cx="90.58" cy="405.68" r="0.76" fill="#22ae5b"/><circle cx="91.99" cy="404.19" r="0.76" fill="#22ae5b"/><circle cx="92.63" cy="403.95" r="0.76" fill="#18793f"/><circle cx="93.15" cy="406.44" r="0.76" fill="#18793f"/><circle cx="93.96" cy="408.08" r="0.76" fill="#18793f"/><circle cx="95.46" cy="409.54" r="0.76" fill="#18793f"/><circle cx="95.76" cy="410.51" r="0.76" fill="#18793f"/><circle cx="96.25" cy="412.74" r="0.76" fill="#22ae5b"/><circle cx="97.27" cy="413.28" r="0.76" fill="#18793f"/><circle cx="99.34" cy="414.32" r="0.76" fill="#18793f"/></g>
<circle cx="98.5" cy="416.5" r="2.4" fill="#a8408c"/>
<circle cx="102.5" cy="414.5" r="2.4" fill="#a8408c"/>
<circle cx="106.5" cy="415.5" r="2.4" fill="#a8408c"/>
<circle cx="110" cy="417.5" r="2.4" fill="#a8408c"/>
<circle cx="101" cy="420" r="2.4" fill="#a8408c"/>
<circle cx="105.5" cy="420" r="2.4" fill="#a8408c"/>
<circle cx="109" cy="421.5" r="2.4" fill="#a8408c"/>
<g><circle cx="97.05" cy="416.21" r="1.25" fill="#a8408c"/><circle cx="95.71" cy="415.12" r="1.25" fill="#a8408c"/><circle cx="100.08" cy="417.66" r="1.25" fill="#a8408c"/><circle cx="100.16" cy="415.47" r="1.25" fill="#7e3069"/><circle cx="98.17" cy="418.06" r="1.25" fill="#7e3069"/><circle cx="97.61" cy="417.83" r="1.25" fill="#a8408c"/><circle cx="100.96" cy="414.57" r="1.25" fill="#7e3069"/><circle cx="96.12" cy="415.39" r="1.25" fill="#7e3069"/><circle cx="97.1" cy="416.22" r="1.25" fill="#a8408c"/><circle cx="97.21" cy="419.08" r="1.25" fill="#7e3069"/><circle cx="96.13" cy="415.89" r="1.25" fill="#7e3069"/><circle cx="100.17" cy="415.71" r="1.25" fill="#7e3069"/><circle cx="97.71" cy="414.41" r="1.25" fill="#a8408c"/><circle cx="99.21" cy="417.51" r="1.25" fill="#a8408c"/><circle cx="100.23" cy="416.41" r="1.25" fill="#7e3069"/><circle cx="102.68" cy="417.47" r="1.25" fill="#a8408c"/><circle cx="103.66" cy="415.46" r="1.25" fill="#a8408c"/><circle cx="102.27" cy="416.87" r="1.25" fill="#c64ba5"/><circle cx="100.37" cy="412.72" r="1.25" fill="#c64ba5"/><circle cx="101.59" cy="417.35" r="1.25" fill="#a8408c"/><circle cx="102.85" cy="415.61" r="1.25" fill="#7e3069"/><circle cx="104.32" cy="416.64" r="1.25" fill="#a8408c"/><circle cx="105.38" cy="415.32" r="1.25" fill="#a8408c"/><circle cx="101.38" cy="414.92" r="1.25" fill="#a8408c"/><circle cx="104.62" cy="413.29" r="1.25" fill="#a8408c"/><circle cx="100.65" cy="413.01" r="1.25" fill="#a8408c"/><circle cx="102.89" cy="415.67" r="1.25" fill="#7e3069"/><circle cx="102.59" cy="414.34" r="1.25" fill="#7e3069"/><circle cx="104.56" cy="414.34" r="1.25" fill="#c64ba5"/><circle cx="106.75" cy="416.55" r="1.25" fill="#7e3069"/><circle cx="104.77" cy="415.52" r="1.25" fill="#a8408c"/><circle cx="105.81" cy="413.82" r="1.25" fill="#a8408c"/><circle cx="108.85" cy="415.79" r="1.25" fill="#c64ba5"/><circle cx="108.72" cy="414.53" r="1.25" fill="#c64ba5"/><circle cx="106.66" cy="417.24" r="1.25" fill="#a8408c"/><circle cx="103.61" cy="415.34" r="1.25" fill="#a8408c"/><circle cx="109.06" cy="416.3" r="1.25" fill="#7e3069"/><circle cx="107.59" cy="414.51" r="1.25" fill="#7e3069"/><circle cx="107.65" cy="416.84" r="1.25" fill="#a8408c"/><circle cx="106.42" cy="416.2" r="1.25" fill="#a8408c"/><circle cx="106.4" cy="414.45" r="1.25" fill="#a8408c"/><circle cx="106.88" cy="415.67" r="1.25" fill="#a8408c"/><circle cx="109.32" cy="420.42" r="1.25" fill="#7e3069"/><circle cx="108.34" cy="415.32" r="1.25" fill="#a8408c"/><circle cx="108.41" cy="417.49" r="1.25" fill="#7e3069"/><circle cx="112.88" cy="418.5" r="1.25" fill="#7e3069"/><circle cx="111.77" cy="419.57" r="1.25" fill="#a8408c"/><circle cx="108.27" cy="417.37" r="1.25" fill="#7e3069"/><circle cx="110.34" cy="416.43" r="1.25" fill="#7e3069"/><circle cx="110.02" cy="415.75" r="1.25" fill="#c64ba5"/><circle cx="111.05" cy="419.57" r="1.25" fill="#a8408c"/><circle cx="107.18" cy="417.49" r="1.25" fill="#7e3069"/><circle cx="107.27" cy="416.69" r="1.25" fill="#7e3069"/><circle cx="107.97" cy="416.89" r="1.25" fill="#a8408c"/><circle cx="107.54" cy="416.91" r="1.25" fill="#a8408c"/><circle cx="112.08" cy="415.95" r="1.25" fill="#c64ba5"/><circle cx="100.15" cy="418.57" r="1.25" fill="#7e3069"/><circle cx="102.5" cy="420.71" r="1.25" fill="#7e3069"/><circle cx="99.92" cy="417.57" r="1.25" fill="#a8408c"/><circle cx="99.39" cy="421.46" r="1.25" fill="#7e3069"/><circle cx="101.35" cy="419.8" r="1.25" fill="#7e3069"/><circle cx="99.78" cy="419.4" r="1.25" fill="#c64ba5"/><circle cx="99.07" cy="420.24" r="1.25" fill="#7e3069"/><circle cx="100.52" cy="422.41" r="1.25" fill="#7e3069"/><circle cx="103.34" cy="420.68" r="1.25" fill="#7e3069"/><circle cx="102.52" cy="417.81" r="1.25" fill="#a8408c"/><circle cx="103.22" cy="418.17" r="1.25" fill="#7e3069"/><circle cx="99.52" cy="419.32" r="1.25" fill="#7e3069"/><circle cx="101.29" cy="421.03" r="1.25" fill="#7e3069"/><circle cx="101.42" cy="422.59" r="1.25" fill="#7e3069"/><circle cx="107.49" cy="420.6" r="1.25" fill="#7e3069"/><circle cx="104.94" cy="418.6" r="1.25" fill="#a8408c"/><circle cx="106.5" cy="421.99" r="1.25" fill="#c64ba5"/><circle cx="104.74" cy="422.19" r="1.25" fill="#a8408c"/><circle cx="105.92" cy="420.2" r="1.25" fill="#c64ba5"/><circle cx="104.07" cy="422.23" r="1.25" fill="#a8408c"/><circle cx="106.24" cy="418.8" r="1.25" fill="#a8408c"/><circle cx="102.78" cy="419.15" r="1.25" fill="#7e3069"/><circle cx="104.07" cy="421.68" r="1.25" fill="#a8408c"/><circle cx="106.99" cy="421.83" r="1.25" fill="#a8408c"/><circle cx="105.34" cy="418.49" r="1.25" fill="#a8408c"/><circle cx="104.91" cy="421.9" r="1.25" fill="#a8408c"/><circle cx="105.85" cy="419.87" r="1.25" fill="#c64ba5"/><circle cx="106.37" cy="420.18" r="1.25" fill="#7e3069"/><circle cx="108.32" cy="424.38" r="1.25" fill="#c64ba5"/><circle cx="110.83" cy="420.7" r="1.25" fill="#7e3069"/><circle cx="106.87" cy="419.34" r="1.25" fill="#7e3069"/><circle cx="109.06" cy="421.38" r="1.25" fill="#a8408c"/><circle cx="105.95" cy="421.63" r="1.25" fill="#c64ba5"/><circle cx="111.16" cy="422.15" r="1.25" fill="#7e3069"/><circle cx="108.24" cy="421.81" r="1.25" fill="#a8408c"/><circle cx="108.83" cy="421.61" r="1.25" fill="#a8408c"/><circle cx="109.62" cy="421.02" r="1.25" fill="#c64ba5"/><circle cx="107.53" cy="421.6" r="1.25" fill="#c64ba5"/><circle cx="106.91" cy="421.85" r="1.25" fill="#a8408c"/><circle cx="109.85" cy="420.72" r="1.25" fill="#7e3069"/><circle cx="108.83" cy="422.28" r="1.25" fill="#c64ba5"/><circle cx="106.52" cy="421.68" r="1.25" fill="#c64ba5"/></g>
<circle cx="110.5" cy="422" r="2.1" fill="#aab83a"/>
<circle cx="113.5" cy="423.5" r="2.1" fill="#aab83a"/>
<circle cx="109" cy="425" r="2.1" fill="#aab83a"/>
<g><circle cx="109.03" cy="422.05" r="1.25" fill="#aab83a"/><circle cx="108.97" cy="422" r="1.25" fill="#7f8a2b"/><circle cx="109" cy="423.87" r="1.25" fill="#7f8a2b"/><circle cx="111.86" cy="421.97" r="1.25" fill="#7f8a2b"/><circle cx="111.76" cy="423.22" r="1.25" fill="#aab83a"/><circle cx="109.4" cy="419.59" r="1.25" fill="#7f8a2b"/><circle cx="111.07" cy="420.55" r="1.25" fill="#aab83a"/><circle cx="112.33" cy="423.91" r="1.25" fill="#aab83a"/><circle cx="110.36" cy="421.57" r="1.25" fill="#aab83a"/><circle cx="110.78" cy="423.86" r="1.25" fill="#aab83a"/><circle cx="111.47" cy="423.79" r="1.25" fill="#c8d944"/><circle cx="111.49" cy="423.64" r="1.25" fill="#7f8a2b"/><circle cx="111.72" cy="423.54" r="1.25" fill="#aab83a"/><circle cx="108.9" cy="419.96" r="1.25" fill="#aab83a"/><circle cx="112.49" cy="425.17" r="1.25" fill="#aab83a"/><circle cx="114.72" cy="421.54" r="1.25" fill="#aab83a"/><circle cx="115.24" cy="425.44" r="1.25" fill="#7f8a2b"/><circle cx="111.32" cy="424.98" r="1.25" fill="#7f8a2b"/><circle cx="114.65" cy="422.81" r="1.25" fill="#7f8a2b"/><circle cx="111.01" cy="423.29" r="1.25" fill="#aab83a"/><circle cx="114.47" cy="422.03" r="1.25" fill="#c8d944"/><circle cx="114.63" cy="424.47" r="1.25" fill="#7f8a2b"/><circle cx="113.37" cy="421.59" r="1.25" fill="#aab83a"/><circle cx="113.68" cy="425.89" r="1.25" fill="#c8d944"/><circle cx="114.89" cy="424.25" r="1.25" fill="#c8d944"/><circle cx="115.06" cy="421.4" r="1.25" fill="#7f8a2b"/><circle cx="112.74" cy="423.18" r="1.25" fill="#aab83a"/><circle cx="112.24" cy="422.84" r="1.25" fill="#aab83a"/><circle cx="108.46" cy="425.61" r="1.25" fill="#7f8a2b"/><circle cx="109.03" cy="424.85" r="1.25" fill="#c8d944"/><circle cx="111.22" cy="423.32" r="1.25" fill="#aab83a"/><circle cx="109.95" cy="425.01" r="1.25" fill="#7f8a2b"/><circle cx="109.29" cy="425.63" r="1.25" fill="#c8d944"/><circle cx="111.07" cy="423.69" r="1.25" fill="#7f8a2b"/><circle cx="110.52" cy="422.97" r="1.25" fill="#7f8a2b"/><circle cx="109.72" cy="425.74" r="1.25" fill="#aab83a"/><circle cx="109.38" cy="424.33" r="1.25" fill="#aab83a"/><circle cx="107.38" cy="427.09" r="1.25" fill="#7f8a2b"/><circle cx="108.11" cy="423.68" r="1.25" fill="#aab83a"/><circle cx="110.11" cy="422.71" r="1.25" fill="#c8d944"/><circle cx="108.61" cy="426.42" r="1.25" fill="#7f8a2b"/><circle cx="108.97" cy="425.97" r="1.25" fill="#aab83a"/></g>
<polyline points="111.6,416.6 111.09,415.22 111.44,413.7 111,412.31 110.7,410.9 111.88,409.55 113.54,408.67 114.5,407.1 116.42,406.68 118.3,406.1 119.73,407.29 121.23,408.37 123,409 122.42,410.59 121.9,412.2 121.1,413.7 119.76,414.2 118.68,415.19 117.3,415.6 115.44,414.97 113.5,414.7" stroke="#1f9c52" stroke-width="1.8" fill="none" stroke-linejoin="round" stroke-linecap="round"/>
<g><circle cx="112.14" cy="417.01" r="0.76" fill="#22ae5b"/><circle cx="110.47" cy="414.93" r="0.76" fill="#18793f"/><circle cx="111.85" cy="413.11" r="0.76" fill="#18793f"/><circle cx="111.21" cy="411.41" r="0.76" fill="#18793f"/><circle cx="112.15" cy="410.93" r="0.76" fill="#18793f"/><circle cx="112.74" cy="408.64" r="0.76" fill="#18793f"/><circle cx="113.9" cy="408.17" r="0.76" fill="#18793f"/><circle cx="115.02" cy="406.86" r="0.76" fill="#18793f"/><circle cx="117.41" cy="406.74" r="0.76" fill="#18793f"/><circle cx="117.84" cy="405.32" r="0.76" fill="#18793f"/><circle cx="119.92" cy="407.42" r="0.76" fill="#22ae5b"/><circle cx="121.16" cy="407.84" r="0.76" fill="#22ae5b"/><circle cx="121.91" cy="408.42" r="0.76" fill="#22ae5b"/><circle cx="121.84" cy="410.86" r="0.76" fill="#18793f"/><circle cx="121.89" cy="411.83" r="0.76" fill="#22ae5b"/><circle cx="121.21" cy="413.72" r="0.76" fill="#22ae5b"/><circle cx="120.27" cy="414.76" r="0.76" fill="#18793f"/><circle cx="118.61" cy="415.19" r="0.76" fill="#18793f"/><circle cx="116.25" cy="415.62" r="0.76" fill="#18793f"/><circle cx="114.74" cy="415.99" r="0.76" fill="#22ae5b"/><circle cx="113.04" cy="414.81" r="0.76" fill="#18793f"/></g>
<circle cx="115.5" cy="423.5" r="2.47" fill="#1f4f8e"/>
<circle cx="119.5" cy="424" r="2.47" fill="#1f4f8e"/>
<circle cx="123" cy="427" r="2.47" fill="#1f4f8e"/>
<circle cx="116.5" cy="428.5" r="2.47" fill="#1f4f8e"/>
<circle cx="120.5" cy="431" r="2.47" fill="#1f4f8e"/>
<circle cx="124.5" cy="432.5" r="2.47" fill="#1f4f8e"/>
<circle cx="128" cy="435.5" r="2.47" fill="#1f4f8e"/>
<g><circle cx="116.21" cy="423.28" r="1.25" fill="#173b6a"/><circle cx="113.73" cy="423.3" r="1.25" fill="#173b6a"/><circle cx="113.5" cy="421.87" r="1.25" fill="#173b6a"/><circle cx="113.34" cy="422.96" r="1.25" fill="#245da7"/><circle cx="116.95" cy="424.16" r="1.25" fill="#1f4f8e"/><circle cx="118.47" cy="424.13" r="1.25" fill="#245da7"/><circle cx="114.13" cy="426.06" r="1.25" fill="#173b6a"/><circle cx="116.94" cy="423.01" r="1.25" fill="#173b6a"/><circle cx="117.53" cy="424.43" r="1.25" fill="#173b6a"/><circle cx="118.1" cy="423.18" r="1.25" fill="#1f4f8e"/><circle cx="114" cy="421.98" r="1.25" fill="#245da7"/><circle cx="115" cy="421.39" r="1.25" fill="#173b6a"/><circle cx="116.64" cy="424.96" r="1.25" fill="#1f4f8e"/><circle cx="118.28" cy="425.04" r="1.25" fill="#173b6a"/><circle cx="118.68" cy="423.79" r="1.25" fill="#1f4f8e"/><circle cx="118.93" cy="423.26" r="1.25" fill="#245da7"/><circle cx="120.38" cy="425.45" r="1.25" fill="#1f4f8e"/><circle cx="117.9" cy="426.64" r="1.25" fill="#173b6a"/><circle cx="118.43" cy="426.53" r="1.25" fill="#245da7"/><circle cx="120.82" cy="422.82" r="1.25" fill="#1f4f8e"/><circle cx="117.2" cy="425.44" r="1.25" fill="#173b6a"/><circle cx="120.98" cy="421.64" r="1.25" fill="#173b6a"/><circle cx="118.75" cy="425.76" r="1.25" fill="#245da7"/><circle cx="117.01" cy="424.71" r="1.25" fill="#245da7"/><circle cx="116.94" cy="425.94" r="1.25" fill="#173b6a"/><circle cx="120.55" cy="424.08" r="1.25" fill="#1f4f8e"/><circle cx="117.29" cy="426.04" r="1.25" fill="#1f4f8e"/><circle cx="118.73" cy="422.2" r="1.25" fill="#1f4f8e"/><circle cx="122.35" cy="425.08" r="1.25" fill="#1f4f8e"/><circle cx="124.77" cy="424.35" r="1.25" fill="#1f4f8e"/><circle cx="125.76" cy="428.24" r="1.25" fill="#1f4f8e"/><circle cx="125.83" cy="426.45" r="1.25" fill="#1f4f8e"/><circle cx="124.44" cy="425.03" r="1.25" fill="#1f4f8e"/><circle cx="124.88" cy="425.34" r="1.25" fill="#245da7"/><circle cx="121.37" cy="428.21" r="1.25" fill="#1f4f8e"/><circle cx="120.7" cy="428.56" r="1.25" fill="#1f4f8e"/><circle cx="122.86" cy="424" r="1.25" fill="#1f4f8e"/><circle cx="125.5" cy="425.51" r="1.25" fill="#245da7"/><circle cx="123.41" cy="427.05" r="1.25" fill="#1f4f8e"/><circle cx="121.46" cy="429.67" r="1.25" fill="#1f4f8e"/><circle cx="122.94" cy="425.36" r="1.25" fill="#1f4f8e"/><circle cx="125.49" cy="425.21" r="1.25" fill="#1f4f8e"/><circle cx="114.1" cy="428.78" r="1.25" fill="#173b6a"/><circle cx="113.28" cy="428.83" r="1.25" fill="#245da7"/><circle cx="115.42" cy="431.01" r="1.25" fill="#245da7"/><circle cx="114.53" cy="430.82" r="1.25" fill="#1f4f8e"/><circle cx="117.23" cy="427.87" r="1.25" fill="#245da7"/><circle cx="118.11" cy="428.31" r="1.25" fill="#1f4f8e"/><circle cx="118.66" cy="429.87" r="1.25" fill="#1f4f8e"/><circle cx="116.42" cy="425.45" r="1.25" fill="#173b6a"/><circle cx="118.73" cy="430.49" r="1.25" fill="#173b6a"/><circle cx="116.67" cy="430.1" r="1.25" fill="#1f4f8e"/><circle cx="113.68" cy="429.57" r="1.25" fill="#1f4f8e"/><circle cx="118.11" cy="426.06" r="1.25" fill="#245da7"/><circle cx="116.18" cy="430.44" r="1.25" fill="#1f4f8e"/><circle cx="113.98" cy="427.05" r="1.25" fill="#245da7"/><circle cx="120.11" cy="432.08" r="1.25" fill="#1f4f8e"/><circle cx="119.83" cy="429.4" r="1.25" fill="#173b6a"/><circle cx="122.13" cy="431.24" r="1.25" fill="#173b6a"/><circle cx="120.7" cy="431.72" r="1.25" fill="#173b6a"/><circle cx="119.91" cy="431.81" r="1.25" fill="#173b6a"/><circle cx="117.69" cy="432.15" r="1.25" fill="#245da7"/><circle cx="119.53" cy="431.66" r="1.25" fill="#173b6a"/><circle cx="119.54" cy="429.12" r="1.25" fill="#1f4f8e"/><circle cx="120.28" cy="428.33" r="1.25" fill="#245da7"/><circle cx="122.04" cy="431.92" r="1.25" fill="#173b6a"/><circle cx="117.94" cy="430.66" r="1.25" fill="#173b6a"/><circle cx="122.61" cy="431.77" r="1.25" fill="#173b6a"/><circle cx="121.2" cy="432.92" r="1.25" fill="#245da7"/><circle cx="118.73" cy="433.14" r="1.25" fill="#1f4f8e"/><circle cx="123.48" cy="433.19" r="1.25" fill="#173b6a"/><circle cx="124.78" cy="430.36" r="1.25" fill="#173b6a"/><circle cx="127.58" cy="432.25" r="1.25" fill="#173b6a"/><circle cx="122.22" cy="433.5" r="1.25" fill="#173b6a"/><circle cx="122.92" cy="433.28" r="1.25" fill="#245da7"/><circle cx="127.22" cy="434.34" r="1.25" fill="#173b6a"/><circle cx="124.06" cy="433.29" r="1.25" fill="#245da7"/><circle cx="124.9" cy="431.74" r="1.25" fill="#1f4f8e"/><circle cx="122.51" cy="434.13" r="1.25" fill="#173b6a"/><circle cx="125.98" cy="432.08" r="1.25" fill="#245da7"/><circle cx="124.21" cy="435.14" r="1.25" fill="#1f4f8e"/><circle cx="122.15" cy="432.11" r="1.25" fill="#1f4f8e"/><circle cx="125.23" cy="432.83" r="1.25" fill="#245da7"/><circle cx="124.46" cy="434.47" r="1.25" fill="#173b6a"/><circle cx="126" cy="432.91" r="1.25" fill="#1f4f8e"/><circle cx="127.15" cy="437.26" r="1.25" fill="#173b6a"/><circle cx="128.61" cy="435.89" r="1.25" fill="#173b6a"/><circle cx="129.23" cy="435.38" r="1.25" fill="#1f4f8e"/><circle cx="128.17" cy="436.11" r="1.25" fill="#245da7"/><circle cx="128.85" cy="436.37" r="1.25" fill="#245da7"/><circle cx="128.06" cy="436.97" r="1.25" fill="#245da7"/><circle cx="129.03" cy="438.33" r="1.25" fill="#173b6a"/><circle cx="126.31" cy="434.76" r="1.25" fill="#173b6a"/><circle cx="130.86" cy="434.2" r="1.25" fill="#173b6a"/><circle cx="127.8" cy="434.28" r="1.25" fill="#173b6a"/><circle cx="130.4" cy="436.64" r="1.25" fill="#1f4f8e"/><circle cx="127.93" cy="432.6" r="1.25" fill="#1f4f8e"/><circle cx="128.1" cy="435.69" r="1.25" fill="#1f4f8e"/></g>
<polyline points="54.6,492.3 56,490.5 56.2,492.4 57.5,493.8 58.89,492.19 61,492.5 62.98,492.3 64.8,493.1 67,491.5 68.13,492.43 69.86,492.39 70.7,493.8 72.2,492.19 72,490" stroke="#6e6e6e" stroke-width="2.0" fill="none" stroke-linejoin="round" stroke-linecap="round"/>
<g><circle cx="55.19" cy="491.95" r="0.84" fill="#7b7b7b"/><circle cx="54.91" cy="490.1" r="0.84" fill="#555555"/><circle cx="56.45" cy="491.89" r="0.84" fill="#555555"/><circle cx="56.58" cy="493.36" r="0.84" fill="#7b7b7b"/><circle cx="58.07" cy="493.92" r="0.84" fill="#555555"/><circle cx="59.13" cy="492.05" r="0.84" fill="#7b7b7b"/><circle cx="62.13" cy="491.62" r="0.84" fill="#555555"/><circle cx="63" cy="492.96" r="0.84" fill="#555555"/><circle cx="64.84" cy="492.78" r="0.84" fill="#7b7b7b"/><circle cx="66.18" cy="492.16" r="0.84" fill="#7b7b7b"/><circle cx="67.93" cy="492.15" r="0.84" fill="#555555"/><circle cx="68.99" cy="491.63" r="0.84" fill="#7b7b7b"/><circle cx="69.51" cy="492.29" r="0.84" fill="#7b7b7b"/><circle cx="70.73" cy="493.42" r="0.84" fill="#555555"/><circle cx="72" cy="491.09" r="0.84" fill="#7b7b7b"/><circle cx="70.84" cy="488.89" r="0.84" fill="#7b7b7b"/></g>
<polyline points="95.5,474.8 97.01,473.35 98,471.5 99.95,470.65 101.3,469 104,468.5 105.59,468.21 107.2,468.2 108.96,468.3 110.2,469.4 111.5,470.4 112.99,470.72 114.51,470.03 116,470.5 117.5,470.27 118.99,470.08 120.43,470.37 121.8,471.2 123.2,472.6 121.66,472.66 120.33,473.32 119,474 117.33,474.34 115.9,473.4" stroke="#6e6e6e" stroke-width="1.8" fill="none" stroke-linejoin="round" stroke-linecap="round"/>
<g><circle cx="94.93" cy="474.49" r="0.76" fill="#7b7b7b"/><circle cx="96.1" cy="473.53" r="0.76" fill="#555555"/><circle cx="96.95" cy="472.43" r="0.76" fill="#7b7b7b"/><circle cx="98.16" cy="470.75" r="0.76" fill="#555555"/><circle cx="99.98" cy="470.06" r="0.76" fill="#7b7b7b"/><circle cx="101.33" cy="469.59" r="0.76" fill="#7b7b7b"/><circle cx="102.57" cy="468.62" r="0.76" fill="#555555"/><circle cx="103.82" cy="467.89" r="0.76" fill="#7b7b7b"/><circle cx="105.36" cy="468.69" r="0.76" fill="#555555"/><circle cx="107.77" cy="468.49" r="0.76" fill="#7b7b7b"/><circle cx="109.99" cy="468.47" r="0.76" fill="#7b7b7b"/><circle cx="110.53" cy="470.7" r="0.76" fill="#7b7b7b"/><circle cx="111.64" cy="470.34" r="0.76" fill="#7b7b7b"/><circle cx="113.7" cy="470.48" r="0.76" fill="#555555"/><circle cx="114.33" cy="470.77" r="0.76" fill="#555555"/><circle cx="116.53" cy="470.27" r="0.76" fill="#7b7b7b"/><circle cx="118.57" cy="470.62" r="0.76" fill="#7b7b7b"/><circle cx="120.86" cy="470.12" r="0.76" fill="#555555"/><circle cx="121.87" cy="471.73" r="0.76" fill="#555555"/><circle cx="123.41" cy="472.29" r="0.76" fill="#7b7b7b"/><circle cx="122.29" cy="472.99" r="0.76" fill="#555555"/><circle cx="119.41" cy="473.15" r="0.76" fill="#7b7b7b"/><circle cx="118.29" cy="473.88" r="0.76" fill="#555555"/><circle cx="118" cy="473.86" r="0.76" fill="#7b7b7b"/><circle cx="116.48" cy="473.78" r="0.76" fill="#555555"/></g>
<polyline points="101.85,496.84 100.4,496.45 98.94,496.8 97.56,496.21 96.25,495.49 97.06,494.23 98.54,493.99 98.31,495.47 97.62,496.81 96.89,498.12 97.27,499.57 95.96,500.3 95.33,501.66 94.02,502.4 92.98,503.48 94.45,503.79 93.72,502.48 92.28,502.07 91.07,501.18 92.54,501.5 94.03,501.65 95.45,501.16 95.41,502.66 95.71,504.13 95.52,502.64 94.43,501.61 94.06,500.16 94.41,498.7 94.73,497.24 94.1,495.88 95.51,495.37 96.69,494.43 97.83,495.41 98.84,496.51 100.31,496.82 101.6,496.07 102.31,497.39 102.08,498.87 100.67,499.38 99.24,499.84 97.95,499.07 97.45,497.66 98.46,496.55 98.88,497.99 99.6,499.31 100,500.75" stroke="#6e6e6e" stroke-width="1.7" fill="none" stroke-linejoin="round" stroke-linecap="round"/>
<polyline points="89.6,493.8 90.38,495.69 91.1,497.6 93.38,496.58 94,499" stroke="#6e6e6e" stroke-width="1.8" fill="none" stroke-linejoin="round" stroke-linecap="round"/>
<g><circle cx="88.89" cy="493.8" r="0.76" fill="#7b7b7b"/><circle cx="90.17" cy="496.47" r="0.76" fill="#555555"/><circle cx="91.3" cy="498.13" r="0.76" fill="#7b7b7b"/><circle cx="93.67" cy="496.31" r="0.76" fill="#7b7b7b"/><circle cx="93.92" cy="498.81" r="0.76" fill="#7b7b7b"/></g>
<polyline points="72.44,472.76 71.23,473.64 69.73,473.8 68.71,474.91 70.18,474.6 71.44,473.78 70.75,475.11 70.35,476.56 71.68,475.87 73.15,476.15 74.63,476.4 76.13,476.35 75.92,474.86 76.7,473.58 77.1,472.13 78.02,470.95 76.62,470.42 77.74,471.41 76.41,472.11 75.26,473.06 73.96,473.82 72.53,473.37 71.55,472.24 70.44,471.22 69.36,470.19 70.41,469.12 70.74,467.65 71.46,466.34 72.88,466.83 74.07,467.74 74.63,466.35 74.39,467.83 74.3,469.32 73.04,470.13 71.56,470.35 70.16,470.91 68.79,470.29 67.76,469.21 68.97,470.09 69.95,471.23 71.23,472.02" stroke="#1f9c52" stroke-width="1.6" fill="none" stroke-linejoin="round" stroke-linecap="round"/>
<polyline points="65.5,469 66.57,467.6 67.98,466.54 69.2,465.3 70.75,465.09 72.25,465.2 73.6,466.1 74.58,468.02 76.5,469 78,469.59 79.4,470.4 80.14,471.63 80.93,472.83 81.6,474.1 80.86,475.29 80.12,476.49 79.4,477.7 77.92,478.17 76.6,479.09 75,479.2 73.72,478.25 72.02,478.53 70.7,477.7 69.51,476.17 67.7,475.5 66.13,474.81 65.77,473.38 65.5,471.9" stroke="#1f9c52" stroke-width="1.7" fill="none" stroke-linejoin="round" stroke-linecap="round"/>
<g><circle cx="65.97" cy="468.93" r="0.71" fill="#22ae5b"/><circle cx="66.71" cy="467.15" r="0.71" fill="#18793f"/><circle cx="66.83" cy="466.4" r="0.71" fill="#18793f"/><circle cx="69.34" cy="465.83" r="0.71" fill="#22ae5b"/><circle cx="71.49" cy="464.81" r="0.71" fill="#22ae5b"/><circle cx="71.26" cy="466.03" r="0.71" fill="#18793f"/><circle cx="73.41" cy="465.97" r="0.71" fill="#22ae5b"/><circle cx="75.13" cy="467.8" r="0.71" fill="#22ae5b"/><circle cx="75.82" cy="467.58" r="0.71" fill="#18793f"/><circle cx="77.3" cy="469.27" r="0.71" fill="#22ae5b"/><circle cx="78.85" cy="470.71" r="0.71" fill="#18793f"/><circle cx="79.67" cy="471.68" r="0.71" fill="#18793f"/><circle cx="81.53" cy="473.33" r="0.71" fill="#18793f"/><circle cx="81.73" cy="474.63" r="0.71" fill="#22ae5b"/><circle cx="80.97" cy="475.7" r="0.71" fill="#22ae5b"/><circle cx="79.21" cy="477.31" r="0.71" fill="#22ae5b"/><circle cx="77.89" cy="477.86" r="0.71" fill="#22ae5b"/><circle cx="76.37" cy="479.28" r="0.71" fill="#22ae5b"/><circle cx="75.38" cy="479.92" r="0.71" fill="#22ae5b"/><circle cx="73.01" cy="478.35" r="0.71" fill="#18793f"/><circle cx="71.97" cy="479.05" r="0.71" fill="#22ae5b"/><circle cx="70.87" cy="477.54" r="0.71" fill="#22ae5b"/><circle cx="69.5" cy="476.35" r="0.71" fill="#22ae5b"/><circle cx="68.29" cy="475.5" r="0.71" fill="#18793f"/><circle cx="66.71" cy="474.21" r="0.71" fill="#18793f"/><circle cx="65.44" cy="473.48" r="0.71" fill="#18793f"/><circle cx="65.38" cy="471.49" r="0.71" fill="#18793f"/></g>
<circle cx="74.5" cy="482.6" r="2.7" fill="#a8408c"/>
<circle cx="78.4" cy="484" r="2.7" fill="#a8408c"/>
<circle cx="75.5" cy="488.4" r="2.7" fill="#a8408c"/>
<circle cx="80.6" cy="489.9" r="2.7" fill="#a8408c"/>
<circle cx="78" cy="492" r="2.7" fill="#a8408c"/>
<g><circle cx="75.92" cy="485" r="1.25" fill="#c64ba5"/><circle cx="75.7" cy="480.44" r="1.25" fill="#a8408c"/><circle cx="75.22" cy="479.82" r="1.25" fill="#c64ba5"/><circle cx="72.25" cy="484.75" r="1.25" fill="#a8408c"/><circle cx="74.28" cy="479.51" r="1.25" fill="#7e3069"/><circle cx="74.84" cy="482.01" r="1.25" fill="#a8408c"/><circle cx="71.75" cy="480.83" r="1.25" fill="#7e3069"/><circle cx="73.5" cy="480.74" r="1.25" fill="#7e3069"/><circle cx="73.07" cy="485.1" r="1.25" fill="#7e3069"/><circle cx="74.93" cy="481.99" r="1.25" fill="#7e3069"/><circle cx="74.06" cy="483.4" r="1.25" fill="#c64ba5"/><circle cx="77.85" cy="481.88" r="1.25" fill="#7e3069"/><circle cx="75.54" cy="480.79" r="1.25" fill="#7e3069"/><circle cx="74.11" cy="481.62" r="1.25" fill="#7e3069"/><circle cx="80.34" cy="483.1" r="1.25" fill="#a8408c"/><circle cx="77.42" cy="484.49" r="1.25" fill="#a8408c"/><circle cx="78.89" cy="484.9" r="1.25" fill="#7e3069"/><circle cx="76.91" cy="485.07" r="1.25" fill="#7e3069"/><circle cx="81.58" cy="483.22" r="1.25" fill="#a8408c"/><circle cx="78.52" cy="487.12" r="1.25" fill="#a8408c"/><circle cx="76.67" cy="483.69" r="1.25" fill="#7e3069"/><circle cx="76.74" cy="484.92" r="1.25" fill="#c64ba5"/><circle cx="75.5" cy="484.63" r="1.25" fill="#c64ba5"/><circle cx="77.35" cy="483" r="1.25" fill="#7e3069"/><circle cx="79.08" cy="483.64" r="1.25" fill="#7e3069"/><circle cx="75.95" cy="481.75" r="1.25" fill="#c64ba5"/><circle cx="78.04" cy="481.01" r="1.25" fill="#a8408c"/><circle cx="81.06" cy="485.08" r="1.25" fill="#7e3069"/><circle cx="75.89" cy="487.16" r="1.25" fill="#7e3069"/><circle cx="76.97" cy="488.39" r="1.25" fill="#a8408c"/><circle cx="78.8" cy="489.74" r="1.25" fill="#7e3069"/><circle cx="74.24" cy="485.34" r="1.25" fill="#7e3069"/><circle cx="76.19" cy="488.43" r="1.25" fill="#7e3069"/><circle cx="75.57" cy="485.78" r="1.25" fill="#c64ba5"/><circle cx="73.63" cy="486.35" r="1.25" fill="#7e3069"/><circle cx="76.09" cy="491.91" r="1.25" fill="#c64ba5"/><circle cx="72.53" cy="489.62" r="1.25" fill="#a8408c"/><circle cx="75.22" cy="489.99" r="1.25" fill="#a8408c"/><circle cx="78.97" cy="487.57" r="1.25" fill="#a8408c"/><circle cx="77.36" cy="489.21" r="1.25" fill="#7e3069"/><circle cx="77.49" cy="488.25" r="1.25" fill="#c64ba5"/><circle cx="75.58" cy="491.93" r="1.25" fill="#a8408c"/><circle cx="82" cy="487.49" r="1.25" fill="#a8408c"/><circle cx="81.56" cy="490.37" r="1.25" fill="#a8408c"/><circle cx="83.07" cy="487.51" r="1.25" fill="#a8408c"/><circle cx="79.95" cy="489.44" r="1.25" fill="#c64ba5"/><circle cx="79.08" cy="487.52" r="1.25" fill="#c64ba5"/><circle cx="80.84" cy="492.72" r="1.25" fill="#a8408c"/><circle cx="80.64" cy="488.79" r="1.25" fill="#a8408c"/><circle cx="82.94" cy="488.26" r="1.25" fill="#7e3069"/><circle cx="81.6" cy="489.34" r="1.25" fill="#7e3069"/><circle cx="82.29" cy="487.72" r="1.25" fill="#7e3069"/><circle cx="81.55" cy="487.17" r="1.25" fill="#7e3069"/><circle cx="80.96" cy="493.12" r="1.25" fill="#c64ba5"/><circle cx="82.92" cy="491.07" r="1.25" fill="#a8408c"/><circle cx="80.19" cy="490.7" r="1.25" fill="#a8408c"/><circle cx="80.82" cy="490.78" r="1.25" fill="#7e3069"/><circle cx="79.65" cy="489.56" r="1.25" fill="#7e3069"/><circle cx="77.82" cy="493.5" r="1.25" fill="#a8408c"/><circle cx="76.77" cy="493.48" r="1.25" fill="#c64ba5"/><circle cx="78.17" cy="489.48" r="1.25" fill="#c64ba5"/><circle cx="76.38" cy="488.88" r="1.25" fill="#c64ba5"/><circle cx="76.01" cy="489.76" r="1.25" fill="#a8408c"/><circle cx="78.15" cy="488.64" r="1.25" fill="#7e3069"/><circle cx="76.83" cy="493.35" r="1.25" fill="#c64ba5"/><circle cx="79.97" cy="490.64" r="1.25" fill="#a8408c"/><circle cx="80.39" cy="494.63" r="1.25" fill="#a8408c"/><circle cx="80.79" cy="491.35" r="1.25" fill="#a8408c"/><circle cx="77.97" cy="488.61" r="1.25" fill="#c64ba5"/><circle cx="76.55" cy="494.11" r="1.25" fill="#c64ba5"/></g>
<circle cx="83.8" cy="487.2" r="2.1" fill="#aab83a"/>
<circle cx="85.3" cy="490.9" r="2.1" fill="#aab83a"/>
<circle cx="81.4" cy="492.3" r="2.1" fill="#aab83a"/>
<g><circle cx="81.29" cy="487.1" r="1.25" fill="#aab83a"/><circle cx="84.16" cy="486.56" r="1.25" fill="#7f8a2b"/><circle cx="85.36" cy="488.2" r="1.25" fill="#aab83a"/><circle cx="86.5" cy="486.49" r="1.25" fill="#7f8a2b"/><circle cx="84.81" cy="485.48" r="1.25" fill="#c8d944"/><circle cx="82.12" cy="489" r="1.25" fill="#7f8a2b"/><circle cx="82.22" cy="487.52" r="1.25" fill="#7f8a2b"/><circle cx="83.23" cy="488.92" r="1.25" fill="#aab83a"/><circle cx="81.43" cy="486.82" r="1.25" fill="#c8d944"/><circle cx="86.02" cy="486.65" r="1.25" fill="#7f8a2b"/><circle cx="82.17" cy="486.32" r="1.25" fill="#7f8a2b"/><circle cx="83.14" cy="488.36" r="1.25" fill="#aab83a"/><circle cx="85.69" cy="488.03" r="1.25" fill="#aab83a"/><circle cx="85.27" cy="487.26" r="1.25" fill="#c8d944"/><circle cx="84.67" cy="490.56" r="1.25" fill="#aab83a"/><circle cx="85.01" cy="489.91" r="1.25" fill="#aab83a"/><circle cx="85.76" cy="492.91" r="1.25" fill="#c8d944"/><circle cx="85.37" cy="491.94" r="1.25" fill="#7f8a2b"/><circle cx="84.74" cy="490.41" r="1.25" fill="#aab83a"/><circle cx="86.2" cy="488.62" r="1.25" fill="#aab83a"/><circle cx="87.14" cy="491.03" r="1.25" fill="#7f8a2b"/><circle cx="84.21" cy="490.8" r="1.25" fill="#7f8a2b"/><circle cx="87.81" cy="490.11" r="1.25" fill="#7f8a2b"/><circle cx="85.64" cy="490.26" r="1.25" fill="#7f8a2b"/><circle cx="88.01" cy="490.8" r="1.25" fill="#aab83a"/><circle cx="84.79" cy="489.25" r="1.25" fill="#c8d944"/><circle cx="84.79" cy="492.06" r="1.25" fill="#7f8a2b"/><circle cx="83.88" cy="489.37" r="1.25" fill="#c8d944"/><circle cx="82.92" cy="494.3" r="1.25" fill="#c8d944"/><circle cx="81.38" cy="491.35" r="1.25" fill="#7f8a2b"/><circle cx="82.78" cy="493.15" r="1.25" fill="#aab83a"/><circle cx="82.55" cy="493.78" r="1.25" fill="#7f8a2b"/><circle cx="81.02" cy="491.51" r="1.25" fill="#aab83a"/><circle cx="80.47" cy="491.51" r="1.25" fill="#aab83a"/><circle cx="80.22" cy="493.95" r="1.25" fill="#aab83a"/><circle cx="81.16" cy="494.09" r="1.25" fill="#aab83a"/><circle cx="83.1" cy="490.36" r="1.25" fill="#aab83a"/><circle cx="82.13" cy="491.55" r="1.25" fill="#c8d944"/><circle cx="83.95" cy="493.04" r="1.25" fill="#aab83a"/><circle cx="79.48" cy="493.89" r="1.25" fill="#c8d944"/><circle cx="82.56" cy="494.24" r="1.25" fill="#7f8a2b"/><circle cx="81.04" cy="491.7" r="1.25" fill="#aab83a"/></g>
<circle cx="86.7" cy="471.9" r="2.7" fill="#1f4f8e"/>
<circle cx="90.4" cy="468.5" r="2.7" fill="#1f4f8e"/>
<circle cx="93" cy="466.5" r="2.7" fill="#1f4f8e"/>
<circle cx="89.6" cy="476.3" r="2.7" fill="#1f4f8e"/>
<circle cx="85.3" cy="479.2" r="2.7" fill="#1f4f8e"/>
<circle cx="92.6" cy="479.2" r="2.7" fill="#1f4f8e"/>
<g><circle cx="88.95" cy="472.28" r="1.25" fill="#245da7"/><circle cx="85.47" cy="475.22" r="1.25" fill="#1f4f8e"/><circle cx="88.14" cy="475.07" r="1.25" fill="#173b6a"/><circle cx="83.8" cy="469.95" r="1.25" fill="#245da7"/><circle cx="85.14" cy="471.33" r="1.25" fill="#1f4f8e"/><circle cx="86.17" cy="473.85" r="1.25" fill="#173b6a"/><circle cx="86.91" cy="472.58" r="1.25" fill="#1f4f8e"/><circle cx="89.42" cy="472.12" r="1.25" fill="#1f4f8e"/><circle cx="85.09" cy="469.68" r="1.25" fill="#1f4f8e"/><circle cx="87.17" cy="469.22" r="1.25" fill="#245da7"/><circle cx="83.8" cy="470.18" r="1.25" fill="#245da7"/><circle cx="86.15" cy="469.91" r="1.25" fill="#1f4f8e"/><circle cx="89.4" cy="473.36" r="1.25" fill="#1f4f8e"/><circle cx="87.14" cy="470.95" r="1.25" fill="#173b6a"/><circle cx="88.53" cy="466.05" r="1.25" fill="#173b6a"/><circle cx="92.41" cy="468.89" r="1.25" fill="#173b6a"/><circle cx="91.46" cy="468.86" r="1.25" fill="#173b6a"/><circle cx="91.78" cy="468.62" r="1.25" fill="#173b6a"/><circle cx="88.27" cy="470.77" r="1.25" fill="#1f4f8e"/><circle cx="88.45" cy="467" r="1.25" fill="#173b6a"/><circle cx="91.88" cy="468.96" r="1.25" fill="#245da7"/><circle cx="91.46" cy="466" r="1.25" fill="#1f4f8e"/><circle cx="90.3" cy="465.24" r="1.25" fill="#173b6a"/><circle cx="91.34" cy="465.76" r="1.25" fill="#173b6a"/><circle cx="90.05" cy="469.95" r="1.25" fill="#1f4f8e"/><circle cx="93.54" cy="467.87" r="1.25" fill="#173b6a"/><circle cx="91.79" cy="469.81" r="1.25" fill="#173b6a"/><circle cx="92.33" cy="470.9" r="1.25" fill="#173b6a"/><circle cx="91.15" cy="465.69" r="1.25" fill="#245da7"/><circle cx="91.87" cy="465.76" r="1.25" fill="#1f4f8e"/><circle cx="92.4" cy="468.85" r="1.25" fill="#173b6a"/><circle cx="91.01" cy="466.63" r="1.25" fill="#173b6a"/><circle cx="94.93" cy="469.45" r="1.25" fill="#173b6a"/><circle cx="92.53" cy="468.76" r="1.25" fill="#173b6a"/><circle cx="93.3" cy="468.78" r="1.25" fill="#1f4f8e"/><circle cx="90.87" cy="466.01" r="1.25" fill="#1f4f8e"/><circle cx="92.95" cy="464.65" r="1.25" fill="#173b6a"/><circle cx="91.37" cy="464.86" r="1.25" fill="#245da7"/><circle cx="95.64" cy="466.66" r="1.25" fill="#173b6a"/><circle cx="93.79" cy="469.76" r="1.25" fill="#173b6a"/><circle cx="93.8" cy="463.27" r="1.25" fill="#245da7"/><circle cx="94.06" cy="467.45" r="1.25" fill="#173b6a"/><circle cx="88.13" cy="479.4" r="1.25" fill="#1f4f8e"/><circle cx="90.26" cy="477.27" r="1.25" fill="#1f4f8e"/><circle cx="89.47" cy="476.18" r="1.25" fill="#1f4f8e"/><circle cx="90.32" cy="478.11" r="1.25" fill="#173b6a"/><circle cx="92.03" cy="476.17" r="1.25" fill="#1f4f8e"/><circle cx="90.23" cy="478.41" r="1.25" fill="#1f4f8e"/><circle cx="89.53" cy="472.87" r="1.25" fill="#173b6a"/><circle cx="89.75" cy="478.58" r="1.25" fill="#173b6a"/><circle cx="90.53" cy="474.31" r="1.25" fill="#1f4f8e"/><circle cx="86.9" cy="476.26" r="1.25" fill="#1f4f8e"/><circle cx="92.68" cy="476.47" r="1.25" fill="#173b6a"/><circle cx="90.69" cy="474.88" r="1.25" fill="#173b6a"/><circle cx="86.25" cy="475.55" r="1.25" fill="#1f4f8e"/><circle cx="87.3" cy="476.58" r="1.25" fill="#173b6a"/><circle cx="84.48" cy="482.55" r="1.25" fill="#245da7"/><circle cx="85.19" cy="482.65" r="1.25" fill="#173b6a"/><circle cx="85.19" cy="478.63" r="1.25" fill="#1f4f8e"/><circle cx="83.27" cy="480.44" r="1.25" fill="#245da7"/><circle cx="85.01" cy="479.59" r="1.25" fill="#173b6a"/><circle cx="85.29" cy="477.91" r="1.25" fill="#173b6a"/><circle cx="86.5" cy="482.55" r="1.25" fill="#1f4f8e"/><circle cx="87.05" cy="481.54" r="1.25" fill="#1f4f8e"/><circle cx="81.9" cy="478.03" r="1.25" fill="#1f4f8e"/><circle cx="81.79" cy="478.42" r="1.25" fill="#1f4f8e"/><circle cx="82.12" cy="480.17" r="1.25" fill="#245da7"/><circle cx="84.89" cy="477.06" r="1.25" fill="#1f4f8e"/><circle cx="87.06" cy="479.3" r="1.25" fill="#1f4f8e"/><circle cx="81.98" cy="479.43" r="1.25" fill="#1f4f8e"/><circle cx="89.64" cy="477.9" r="1.25" fill="#1f4f8e"/><circle cx="91.35" cy="477.01" r="1.25" fill="#1f4f8e"/><circle cx="92.69" cy="478.24" r="1.25" fill="#245da7"/><circle cx="95.78" cy="478.4" r="1.25" fill="#1f4f8e"/><circle cx="90.43" cy="479.91" r="1.25" fill="#1f4f8e"/><circle cx="93.17" cy="482.37" r="1.25" fill="#245da7"/><circle cx="89.28" cy="479.18" r="1.25" fill="#173b6a"/><circle cx="94.86" cy="476.46" r="1.25" fill="#1f4f8e"/><circle cx="95.58" cy="478.49" r="1.25" fill="#1f4f8e"/><circle cx="91.73" cy="479.35" r="1.25" fill="#173b6a"/><circle cx="93.32" cy="477.85" r="1.25" fill="#1f4f8e"/><circle cx="94.27" cy="481.84" r="1.25" fill="#245da7"/><circle cx="92.08" cy="478.72" r="1.25" fill="#1f4f8e"/><circle cx="89.29" cy="479.71" r="1.25" fill="#173b6a"/></g>
<circle cx="95.5" cy="483.6" r="3" fill="#1f4f8e"/>
<circle cx="99.9" cy="484" r="3" fill="#1f4f8e"/>
<circle cx="97.7" cy="489.4" r="3" fill="#1f4f8e"/>
<circle cx="101.5" cy="488.5" r="3" fill="#1f4f8e"/>
<g><circle cx="94.77" cy="487.36" r="1.25" fill="#245da7"/><circle cx="97.93" cy="482.04" r="1.25" fill="#1f4f8e"/><circle cx="98.46" cy="482.27" r="1.25" fill="#173b6a"/><circle cx="95.62" cy="483.77" r="1.25" fill="#173b6a"/><circle cx="97.95" cy="484.02" r="1.25" fill="#1f4f8e"/><circle cx="97.14" cy="481.64" r="1.25" fill="#173b6a"/><circle cx="98.72" cy="481.53" r="1.25" fill="#245da7"/><circle cx="98.54" cy="484.05" r="1.25" fill="#1f4f8e"/><circle cx="93.81" cy="483.23" r="1.25" fill="#245da7"/><circle cx="94.75" cy="483.42" r="1.25" fill="#173b6a"/><circle cx="95.24" cy="481.82" r="1.25" fill="#1f4f8e"/><circle cx="96.15" cy="486.15" r="1.25" fill="#173b6a"/><circle cx="98.11" cy="486.3" r="1.25" fill="#173b6a"/><circle cx="95.53" cy="479.82" r="1.25" fill="#173b6a"/><circle cx="102.8" cy="484.1" r="1.25" fill="#173b6a"/><circle cx="101.04" cy="482.84" r="1.25" fill="#1f4f8e"/><circle cx="101.96" cy="484.33" r="1.25" fill="#173b6a"/><circle cx="101.75" cy="481.52" r="1.25" fill="#1f4f8e"/><circle cx="101.83" cy="485.1" r="1.25" fill="#245da7"/><circle cx="97.26" cy="481.73" r="1.25" fill="#1f4f8e"/><circle cx="100.96" cy="487.67" r="1.25" fill="#173b6a"/><circle cx="101.45" cy="486.82" r="1.25" fill="#173b6a"/><circle cx="100.21" cy="480.64" r="1.25" fill="#1f4f8e"/><circle cx="97.12" cy="483.74" r="1.25" fill="#173b6a"/><circle cx="101.98" cy="485.14" r="1.25" fill="#173b6a"/><circle cx="100.85" cy="486.22" r="1.25" fill="#1f4f8e"/><circle cx="98.24" cy="483.84" r="1.25" fill="#1f4f8e"/><circle cx="100.8" cy="480.87" r="1.25" fill="#1f4f8e"/><circle cx="97.62" cy="493.06" r="1.25" fill="#1f4f8e"/><circle cx="99.16" cy="492.37" r="1.25" fill="#1f4f8e"/><circle cx="95.21" cy="488.25" r="1.25" fill="#1f4f8e"/><circle cx="97.32" cy="486.35" r="1.25" fill="#173b6a"/><circle cx="98.15" cy="493.33" r="1.25" fill="#1f4f8e"/><circle cx="96.73" cy="488.32" r="1.25" fill="#1f4f8e"/><circle cx="94.99" cy="487.2" r="1.25" fill="#245da7"/><circle cx="95.55" cy="490.01" r="1.25" fill="#173b6a"/><circle cx="96.35" cy="491.7" r="1.25" fill="#245da7"/><circle cx="94.42" cy="489.17" r="1.25" fill="#1f4f8e"/><circle cx="99.62" cy="489.57" r="1.25" fill="#1f4f8e"/><circle cx="99.15" cy="489.95" r="1.25" fill="#1f4f8e"/><circle cx="97.02" cy="488.08" r="1.25" fill="#173b6a"/><circle cx="99.22" cy="487.11" r="1.25" fill="#173b6a"/><circle cx="100.87" cy="485.29" r="1.25" fill="#245da7"/><circle cx="104.29" cy="490.62" r="1.25" fill="#1f4f8e"/><circle cx="101.53" cy="491.32" r="1.25" fill="#173b6a"/><circle cx="102.44" cy="489.43" r="1.25" fill="#1f4f8e"/><circle cx="100.99" cy="486.59" r="1.25" fill="#173b6a"/><circle cx="101.85" cy="486.03" r="1.25" fill="#173b6a"/><circle cx="104.28" cy="487.51" r="1.25" fill="#1f4f8e"/><circle cx="100.88" cy="487.98" r="1.25" fill="#1f4f8e"/><circle cx="102.28" cy="485.37" r="1.25" fill="#245da7"/><circle cx="100.48" cy="491.06" r="1.25" fill="#173b6a"/><circle cx="101.98" cy="489.61" r="1.25" fill="#173b6a"/><circle cx="102.87" cy="490.77" r="1.25" fill="#1f4f8e"/><circle cx="101.81" cy="484.99" r="1.25" fill="#1f4f8e"/><circle cx="99.98" cy="486.22" r="1.25" fill="#173b6a"/></g>
<polyline points="105.22,491.32 104.05,490.38 102.56,490.17 101.07,490.1 100.81,491.58 102.26,491.2 101.63,489.84 102.85,488.96 101.89,487.81 101.5,486.36 102.79,487.12 102.17,488.49 100.86,487.74 100.42,489.18 99.28,490.15 100.75,490.43 102.22,490.13 102.51,488.66 101.29,487.78 102.65,487.15 103.56,485.96 104.47,487.15 105.22,488.45 106.22,489.56 107.55,490.25 108.79,489.4 108.35,487.97 107.13,487.1 106.19,485.93 104.86,486.64 104.24,488.01" stroke="#1f9c52" stroke-width="1.6" fill="none" stroke-linejoin="round" stroke-linecap="round"/>
<polyline points="88.2,485 89.49,486.14 91.19,486.84 92,488.5 93.16,489.31 94.95,489.2 95.5,490.9 96.89,490.05 98.78,490.2 99.93,488.88 101.3,488 102.71,488.76 104.27,488.17 105.81,487.84 107.2,488.7 108.11,490.05 108.6,491.6 107.2,492.16 105.54,491.74 104,491.74 102.8,493.1 101.39,493.7 99.89,493.74 98.4,493.8" stroke="#1f9c52" stroke-width="1.7" fill="none" stroke-linejoin="round" stroke-linecap="round"/>
<g><circle cx="88.14" cy="484.84" r="0.71" fill="#18793f"/><circle cx="89.56" cy="486.33" r="0.71" fill="#18793f"/><circle cx="90.54" cy="486.77" r="0.71" fill="#22ae5b"/><circle cx="92.36" cy="487.84" r="0.71" fill="#18793f"/><circle cx="93.07" cy="489.04" r="0.71" fill="#22ae5b"/><circle cx="94.14" cy="490.1" r="0.71" fill="#22ae5b"/><circle cx="95.65" cy="491.91" r="0.71" fill="#22ae5b"/><circle cx="97.28" cy="490.08" r="0.71" fill="#18793f"/><circle cx="98.98" cy="490.36" r="0.71" fill="#18793f"/><circle cx="100.03" cy="489.5" r="0.71" fill="#22ae5b"/><circle cx="101.28" cy="487.83" r="0.71" fill="#18793f"/><circle cx="101.94" cy="489.06" r="0.71" fill="#22ae5b"/><circle cx="104.4" cy="487.89" r="0.71" fill="#22ae5b"/><circle cx="105.94" cy="487.18" r="0.71" fill="#22ae5b"/><circle cx="107.34" cy="489.12" r="0.71" fill="#22ae5b"/><circle cx="108.24" cy="491.65" r="0.71" fill="#18793f"/><circle cx="107.38" cy="491.58" r="0.71" fill="#22ae5b"/><circle cx="106.23" cy="491.66" r="0.71" fill="#18793f"/><circle cx="105.39" cy="491.78" r="0.71" fill="#22ae5b"/><circle cx="103.14" cy="492.5" r="0.71" fill="#18793f"/><circle cx="102.07" cy="494.06" r="0.71" fill="#22ae5b"/><circle cx="100.3" cy="494.25" r="0.71" fill="#22ae5b"/><circle cx="98.43" cy="493" r="0.71" fill="#22ae5b"/></g>
<polyline points="75.4,552.49 76.79,553.04 76.91,554.54 76.06,555.77 76.51,557.2 75.14,556.59 73.9,557.44 72.69,558.33 73.19,559.75 73.47,558.28 74.75,557.49 76.11,556.86 77.45,556.19 76.16,556.96 74.78,556.39 74.3,554.96 73.41,553.76 72.54,552.53 72.09,551.1 73.45,550.48 74.95,550.47 76.45,550.58 77.86,550.06 76.85,551.17 75.73,552.18 74.82,553.37 73.79,554.46 72.3,554.62 70.88,554.13 69.66,553.27 69.18,551.85 69,550.36 68.85,548.86 69.37,547.46 68.98,548.91 70.11,549.89 70.2,551.39 70.2,552.89 68.91,553.66 67.57,554.32 67.12,555.76 68.54,555.26 70.01,554.99 71.51,554.89 72.47,556.05 72.33,557.54 71.83,558.96 73.1,559.76 73.1,558.26 74.6,558.4 74.02,557.02 75.02,555.9 75.96,554.73 76.93,553.58 78.09,552.64 77.49,551.26" stroke="#6e6e6e" stroke-width="1.7" fill="none" stroke-linejoin="round" stroke-linecap="round"/>
<polyline points="99.64,557.45 98.67,556.31 98.01,554.96 99.13,553.97 100.63,554.03 101.97,554.71 102.88,553.51 101.43,553.11 99.94,553.22 98.74,554.13 97.75,555.25 97.34,556.69 96.45,557.91 97.73,557.12 98.64,555.93 100.08,555.49 101.3,556.37 101.43,557.86 100.59,559.1 101.69,558.08 101.64,556.58 101.25,555.13 101.22,553.63 99.73,553.41 100.47,554.72 101.75,555.51 102.84,556.53 104.16,557.24 105.65,557.04 107.05,557.59 108.55,557.61 109.09,556.22 108.88,554.73 107.92,555.89 106.49,555.44 105.27,556.3" stroke="#6e6e6e" stroke-width="1.7" fill="none" stroke-linejoin="round" stroke-linecap="round"/>
<polyline points="81.14,543.16 81.32,544.65 80.07,545.47 79.92,543.98 80.01,542.48 81.43,542.98 82.3,541.76 83.69,541.19 85.12,540.72 86.51,540.18 87.7,539.26 88.64,538.09 87.15,538.21 86.23,539.4 84.95,538.61 83.68,539.41 82.19,539.26 80.77,538.78 80.61,537.29 81.03,535.84 82.47,535.43 83.93,535.08 85.07,536.05 85.79,537.37 84.29,537.47 83.08,538.35 81.77,537.63 80.95,536.37 81.93,537.51 82.3,538.96 83.79,539.05 84.47,537.72 85.85,537.13 85.61,535.65 85.12,537.07 84.24,538.29" stroke="#6e6e6e" stroke-width="1.6" fill="none" stroke-linejoin="round" stroke-linecap="round"/>
<circle cx="71.4" cy="537.7" r="2.7" fill="#1f4f8e"/>
<circle cx="75.8" cy="536.3" r="2.7" fill="#1f4f8e"/>
<circle cx="79.4" cy="539.2" r="2.7" fill="#1f4f8e"/>
<circle cx="72.8" cy="543.6" r="2.7" fill="#1f4f8e"/>
<circle cx="78" cy="545" r="2.7" fill="#1f4f8e"/>
<g><circle cx="69.95" cy="534.87" r="1.25" fill="#173b6a"/><circle cx="74.63" cy="538.67" r="1.25" fill="#1f4f8e"/><circle cx="73.92" cy="539.39" r="1.25" fill="#173b6a"/><circle cx="69.59" cy="535.72" r="1.25" fill="#1f4f8e"/><circle cx="74.25" cy="539.61" r="1.25" fill="#245da7"/><circle cx="74.54" cy="537.4" r="1.25" fill="#173b6a"/><circle cx="74.2" cy="537.32" r="1.25" fill="#1f4f8e"/><circle cx="70.53" cy="536.31" r="1.25" fill="#245da7"/><circle cx="70.38" cy="536.35" r="1.25" fill="#1f4f8e"/><circle cx="72.87" cy="539.56" r="1.25" fill="#245da7"/><circle cx="69.71" cy="539.21" r="1.25" fill="#245da7"/><circle cx="72.48" cy="538.32" r="1.25" fill="#1f4f8e"/><circle cx="73.32" cy="539.76" r="1.25" fill="#245da7"/><circle cx="70.46" cy="537.31" r="1.25" fill="#173b6a"/><circle cx="72.4" cy="535.42" r="1.25" fill="#1f4f8e"/><circle cx="74.89" cy="533.68" r="1.25" fill="#173b6a"/><circle cx="75.53" cy="536.08" r="1.25" fill="#1f4f8e"/><circle cx="76.42" cy="534.79" r="1.25" fill="#1f4f8e"/><circle cx="75.54" cy="534.9" r="1.25" fill="#245da7"/><circle cx="75.94" cy="539.83" r="1.25" fill="#173b6a"/><circle cx="73.12" cy="534.04" r="1.25" fill="#245da7"/><circle cx="74.22" cy="536.44" r="1.25" fill="#1f4f8e"/><circle cx="75.02" cy="535.82" r="1.25" fill="#1f4f8e"/><circle cx="78.09" cy="535.05" r="1.25" fill="#173b6a"/><circle cx="74.3" cy="534.39" r="1.25" fill="#245da7"/><circle cx="75.22" cy="536.34" r="1.25" fill="#173b6a"/><circle cx="77.39" cy="539.43" r="1.25" fill="#1f4f8e"/><circle cx="73.73" cy="539.19" r="1.25" fill="#173b6a"/><circle cx="76.88" cy="536.77" r="1.25" fill="#245da7"/><circle cx="80.72" cy="541.29" r="1.25" fill="#173b6a"/><circle cx="78.85" cy="537.5" r="1.25" fill="#173b6a"/><circle cx="79.22" cy="540.49" r="1.25" fill="#1f4f8e"/><circle cx="78.98" cy="541.44" r="1.25" fill="#173b6a"/><circle cx="77.95" cy="540.56" r="1.25" fill="#1f4f8e"/><circle cx="79.02" cy="537.75" r="1.25" fill="#1f4f8e"/><circle cx="78.77" cy="540.1" r="1.25" fill="#173b6a"/><circle cx="80" cy="538.77" r="1.25" fill="#173b6a"/><circle cx="80.06" cy="538.43" r="1.25" fill="#173b6a"/><circle cx="79.01" cy="542.47" r="1.25" fill="#173b6a"/><circle cx="80.57" cy="538.78" r="1.25" fill="#1f4f8e"/><circle cx="79.79" cy="536.54" r="1.25" fill="#1f4f8e"/><circle cx="77.73" cy="539.89" r="1.25" fill="#245da7"/><circle cx="70.43" cy="545.24" r="1.25" fill="#1f4f8e"/><circle cx="74.53" cy="543.18" r="1.25" fill="#173b6a"/><circle cx="74.87" cy="542.08" r="1.25" fill="#1f4f8e"/><circle cx="70.55" cy="541.35" r="1.25" fill="#245da7"/><circle cx="72.72" cy="543.36" r="1.25" fill="#245da7"/><circle cx="76.02" cy="544.48" r="1.25" fill="#173b6a"/><circle cx="73.24" cy="540.76" r="1.25" fill="#173b6a"/><circle cx="72.86" cy="540.86" r="1.25" fill="#173b6a"/><circle cx="74.78" cy="541.66" r="1.25" fill="#1f4f8e"/><circle cx="74.33" cy="543.05" r="1.25" fill="#173b6a"/><circle cx="73.92" cy="542.7" r="1.25" fill="#245da7"/><circle cx="73.61" cy="546.75" r="1.25" fill="#1f4f8e"/><circle cx="70.72" cy="541.71" r="1.25" fill="#1f4f8e"/><circle cx="69.92" cy="543.26" r="1.25" fill="#173b6a"/><circle cx="80.82" cy="543.35" r="1.25" fill="#173b6a"/><circle cx="78.35" cy="547.23" r="1.25" fill="#1f4f8e"/><circle cx="75.99" cy="544.79" r="1.25" fill="#1f4f8e"/><circle cx="79.02" cy="547.85" r="1.25" fill="#1f4f8e"/><circle cx="80.18" cy="546.62" r="1.25" fill="#1f4f8e"/><circle cx="79.94" cy="544.65" r="1.25" fill="#1f4f8e"/><circle cx="79.2" cy="544.49" r="1.25" fill="#245da7"/><circle cx="76.6" cy="546.58" r="1.25" fill="#245da7"/><circle cx="76.62" cy="546.14" r="1.25" fill="#173b6a"/><circle cx="77.04" cy="542.3" r="1.25" fill="#173b6a"/><circle cx="76.07" cy="545.06" r="1.25" fill="#245da7"/><circle cx="76.23" cy="547.2" r="1.25" fill="#245da7"/><circle cx="78.25" cy="548.5" r="1.25" fill="#1f4f8e"/><circle cx="76.81" cy="543.55" r="1.25" fill="#1f4f8e"/></g>
<circle cx="82.3" cy="548" r="2.7" fill="#1f4f8e"/>
<circle cx="86.7" cy="549.4" r="2.7" fill="#1f4f8e"/>
<circle cx="89.6" cy="552.3" r="2.7" fill="#1f4f8e"/>
<circle cx="83.8" cy="555.3" r="2.7" fill="#1f4f8e"/>
<circle cx="85.3" cy="559.6" r="2.7" fill="#1f4f8e"/>
<g><circle cx="81.85" cy="545.27" r="1.25" fill="#245da7"/><circle cx="81.87" cy="548.08" r="1.25" fill="#245da7"/><circle cx="79.73" cy="546.83" r="1.25" fill="#1f4f8e"/><circle cx="84.17" cy="548.49" r="1.25" fill="#173b6a"/><circle cx="80.34" cy="545.31" r="1.25" fill="#1f4f8e"/><circle cx="83.11" cy="546.09" r="1.25" fill="#173b6a"/><circle cx="81.05" cy="548.8" r="1.25" fill="#173b6a"/><circle cx="82.41" cy="549.53" r="1.25" fill="#1f4f8e"/><circle cx="79.63" cy="546.12" r="1.25" fill="#245da7"/><circle cx="82.57" cy="551.48" r="1.25" fill="#1f4f8e"/><circle cx="79.02" cy="546.63" r="1.25" fill="#1f4f8e"/><circle cx="83.55" cy="548.23" r="1.25" fill="#173b6a"/><circle cx="81.4" cy="545.44" r="1.25" fill="#1f4f8e"/><circle cx="84.08" cy="548.21" r="1.25" fill="#1f4f8e"/><circle cx="85.36" cy="547.45" r="1.25" fill="#173b6a"/><circle cx="85.55" cy="552.32" r="1.25" fill="#1f4f8e"/><circle cx="86.76" cy="552.91" r="1.25" fill="#173b6a"/><circle cx="86.93" cy="551.77" r="1.25" fill="#245da7"/><circle cx="83.99" cy="548.22" r="1.25" fill="#245da7"/><circle cx="85.67" cy="550.54" r="1.25" fill="#1f4f8e"/><circle cx="85.48" cy="548.89" r="1.25" fill="#173b6a"/><circle cx="86.16" cy="545.86" r="1.25" fill="#245da7"/><circle cx="84.97" cy="551.1" r="1.25" fill="#245da7"/><circle cx="88.84" cy="549.2" r="1.25" fill="#245da7"/><circle cx="86.26" cy="548.09" r="1.25" fill="#1f4f8e"/><circle cx="89" cy="549.44" r="1.25" fill="#1f4f8e"/><circle cx="87.31" cy="547.42" r="1.25" fill="#1f4f8e"/><circle cx="85.35" cy="547.17" r="1.25" fill="#1f4f8e"/><circle cx="86.88" cy="553" r="1.25" fill="#1f4f8e"/><circle cx="90.63" cy="551.66" r="1.25" fill="#245da7"/><circle cx="89.59" cy="551.92" r="1.25" fill="#1f4f8e"/><circle cx="87.93" cy="554.25" r="1.25" fill="#1f4f8e"/><circle cx="89.37" cy="549.8" r="1.25" fill="#1f4f8e"/><circle cx="89.78" cy="553.24" r="1.25" fill="#1f4f8e"/><circle cx="90.6" cy="552.23" r="1.25" fill="#245da7"/><circle cx="87.42" cy="554.23" r="1.25" fill="#173b6a"/><circle cx="88.74" cy="550.08" r="1.25" fill="#1f4f8e"/><circle cx="89.25" cy="554.35" r="1.25" fill="#1f4f8e"/><circle cx="92.4" cy="554.49" r="1.25" fill="#1f4f8e"/><circle cx="91.1" cy="552.04" r="1.25" fill="#1f4f8e"/><circle cx="89.91" cy="553.29" r="1.25" fill="#1f4f8e"/><circle cx="86.95" cy="552.78" r="1.25" fill="#1f4f8e"/><circle cx="84.8" cy="558.1" r="1.25" fill="#173b6a"/><circle cx="83" cy="558.38" r="1.25" fill="#1f4f8e"/><circle cx="83.3" cy="551.88" r="1.25" fill="#245da7"/><circle cx="84.48" cy="558.79" r="1.25" fill="#1f4f8e"/><circle cx="82.03" cy="554.62" r="1.25" fill="#1f4f8e"/><circle cx="83.18" cy="555.07" r="1.25" fill="#1f4f8e"/><circle cx="82.06" cy="557.74" r="1.25" fill="#1f4f8e"/><circle cx="83.08" cy="554.63" r="1.25" fill="#1f4f8e"/><circle cx="81.94" cy="557.71" r="1.25" fill="#1f4f8e"/><circle cx="80.72" cy="555.25" r="1.25" fill="#173b6a"/><circle cx="85.23" cy="552.06" r="1.25" fill="#245da7"/><circle cx="84.67" cy="553.18" r="1.25" fill="#245da7"/><circle cx="82.26" cy="554.66" r="1.25" fill="#1f4f8e"/><circle cx="85.56" cy="552.91" r="1.25" fill="#245da7"/><circle cx="88.76" cy="560.38" r="1.25" fill="#245da7"/><circle cx="81.84" cy="559.54" r="1.25" fill="#173b6a"/><circle cx="84.32" cy="560.71" r="1.25" fill="#1f4f8e"/><circle cx="88.32" cy="557.88" r="1.25" fill="#173b6a"/><circle cx="85.61" cy="556.93" r="1.25" fill="#173b6a"/><circle cx="87.37" cy="557.99" r="1.25" fill="#173b6a"/><circle cx="83.19" cy="561.69" r="1.25" fill="#245da7"/><circle cx="86.17" cy="562.23" r="1.25" fill="#173b6a"/><circle cx="85.6" cy="559.41" r="1.25" fill="#245da7"/><circle cx="82.44" cy="558.35" r="1.25" fill="#1f4f8e"/><circle cx="82.92" cy="559.51" r="1.25" fill="#173b6a"/><circle cx="85.05" cy="560.68" r="1.25" fill="#173b6a"/><circle cx="83.79" cy="557.4" r="1.25" fill="#1f4f8e"/><circle cx="81.86" cy="558.97" r="1.25" fill="#245da7"/></g>
<circle cx="94" cy="542.1" r="2.85" fill="#aab83a"/>
<circle cx="98.4" cy="543.6" r="2.85" fill="#aab83a"/>
<circle cx="95.5" cy="548" r="2.85" fill="#aab83a"/>
<circle cx="99.9" cy="549.4" r="2.85" fill="#aab83a"/>
<circle cx="97" cy="552" r="2.85" fill="#aab83a"/>
<g><circle cx="93.75" cy="544.92" r="1.25" fill="#c8d944"/><circle cx="93.65" cy="545.26" r="1.25" fill="#aab83a"/><circle cx="92.63" cy="539.62" r="1.25" fill="#aab83a"/><circle cx="91.39" cy="544.69" r="1.25" fill="#aab83a"/><circle cx="92.4" cy="544.68" r="1.25" fill="#aab83a"/><circle cx="96.65" cy="540.63" r="1.25" fill="#aab83a"/><circle cx="92.5" cy="544.08" r="1.25" fill="#7f8a2b"/><circle cx="91.43" cy="539.68" r="1.25" fill="#aab83a"/><circle cx="94.21" cy="542.79" r="1.25" fill="#c8d944"/><circle cx="93.12" cy="545.13" r="1.25" fill="#c8d944"/><circle cx="96.63" cy="541.06" r="1.25" fill="#c8d944"/><circle cx="90.98" cy="544.22" r="1.25" fill="#aab83a"/><circle cx="97" cy="543.76" r="1.25" fill="#7f8a2b"/><circle cx="94.84" cy="542.08" r="1.25" fill="#aab83a"/><circle cx="100.01" cy="545.88" r="1.25" fill="#aab83a"/><circle cx="99.81" cy="542.2" r="1.25" fill="#aab83a"/><circle cx="99.3" cy="543.25" r="1.25" fill="#aab83a"/><circle cx="101.3" cy="545.29" r="1.25" fill="#c8d944"/><circle cx="100.69" cy="546.34" r="1.25" fill="#aab83a"/><circle cx="97.06" cy="547.09" r="1.25" fill="#aab83a"/><circle cx="98.95" cy="545.71" r="1.25" fill="#c8d944"/><circle cx="100.95" cy="543.34" r="1.25" fill="#aab83a"/><circle cx="95.56" cy="541.59" r="1.25" fill="#7f8a2b"/><circle cx="99.46" cy="540.01" r="1.25" fill="#aab83a"/><circle cx="94.96" cy="545.02" r="1.25" fill="#aab83a"/><circle cx="95.88" cy="546.06" r="1.25" fill="#aab83a"/><circle cx="97.17" cy="541.98" r="1.25" fill="#aab83a"/><circle cx="96.13" cy="546.08" r="1.25" fill="#aab83a"/><circle cx="97.96" cy="546.64" r="1.25" fill="#c8d944"/><circle cx="92.61" cy="549.14" r="1.25" fill="#7f8a2b"/><circle cx="92.85" cy="546.4" r="1.25" fill="#7f8a2b"/><circle cx="91.99" cy="547.01" r="1.25" fill="#7f8a2b"/><circle cx="92.03" cy="548.26" r="1.25" fill="#aab83a"/><circle cx="98.21" cy="548.51" r="1.25" fill="#aab83a"/><circle cx="98.28" cy="546.64" r="1.25" fill="#aab83a"/><circle cx="93.07" cy="550.65" r="1.25" fill="#c8d944"/><circle cx="98.1" cy="549.67" r="1.25" fill="#c8d944"/><circle cx="93.3" cy="544.97" r="1.25" fill="#7f8a2b"/><circle cx="93.14" cy="546.55" r="1.25" fill="#7f8a2b"/><circle cx="95.99" cy="545.55" r="1.25" fill="#aab83a"/><circle cx="96.15" cy="544.83" r="1.25" fill="#7f8a2b"/><circle cx="98.74" cy="549.17" r="1.25" fill="#aab83a"/><circle cx="100.72" cy="550.5" r="1.25" fill="#aab83a"/><circle cx="101.5" cy="552.7" r="1.25" fill="#7f8a2b"/><circle cx="102.92" cy="548.29" r="1.25" fill="#aab83a"/><circle cx="98.4" cy="546.62" r="1.25" fill="#7f8a2b"/><circle cx="98.92" cy="549.47" r="1.25" fill="#7f8a2b"/><circle cx="103.19" cy="548.18" r="1.25" fill="#aab83a"/><circle cx="102.28" cy="551.22" r="1.25" fill="#aab83a"/><circle cx="97.78" cy="550.39" r="1.25" fill="#aab83a"/><circle cx="102.5" cy="549.57" r="1.25" fill="#7f8a2b"/><circle cx="97.25" cy="550.38" r="1.25" fill="#aab83a"/><circle cx="102.45" cy="546.91" r="1.25" fill="#aab83a"/><circle cx="100.64" cy="546.82" r="1.25" fill="#7f8a2b"/><circle cx="100.42" cy="548.21" r="1.25" fill="#aab83a"/><circle cx="99.06" cy="548.47" r="1.25" fill="#7f8a2b"/><circle cx="95.35" cy="548.89" r="1.25" fill="#aab83a"/><circle cx="93.86" cy="551.38" r="1.25" fill="#aab83a"/><circle cx="94.05" cy="552.7" r="1.25" fill="#aab83a"/><circle cx="97.9" cy="549.3" r="1.25" fill="#aab83a"/><circle cx="97.51" cy="553.44" r="1.25" fill="#c8d944"/><circle cx="97.41" cy="554.48" r="1.25" fill="#c8d944"/><circle cx="98.89" cy="554.49" r="1.25" fill="#7f8a2b"/><circle cx="94.59" cy="549.56" r="1.25" fill="#c8d944"/><circle cx="97.47" cy="549.31" r="1.25" fill="#aab83a"/><circle cx="97.61" cy="553.14" r="1.25" fill="#aab83a"/><circle cx="100.47" cy="553.18" r="1.25" fill="#7f8a2b"/><circle cx="96.52" cy="549.5" r="1.25" fill="#aab83a"/><circle cx="97.09" cy="549.93" r="1.25" fill="#c8d944"/><circle cx="97.1" cy="549.11" r="1.25" fill="#aab83a"/></g>
<circle cx="101.3" cy="540.7" r="2.7" fill="#a8408c"/>
<circle cx="106.4" cy="539.9" r="2.7" fill="#a8408c"/>
<circle cx="104.2" cy="545" r="2.7" fill="#a8408c"/>
<circle cx="108.6" cy="546.5" r="2.7" fill="#a8408c"/>
<circle cx="102.8" cy="549.4" r="2.7" fill="#a8408c"/>
<g><circle cx="98.66" cy="543.06" r="1.25" fill="#a8408c"/><circle cx="101.45" cy="543.39" r="1.25" fill="#c64ba5"/><circle cx="103.75" cy="539.47" r="1.25" fill="#a8408c"/><circle cx="101.25" cy="538.01" r="1.25" fill="#c64ba5"/><circle cx="102.81" cy="538.09" r="1.25" fill="#c64ba5"/><circle cx="99.19" cy="537.84" r="1.25" fill="#a8408c"/><circle cx="101.86" cy="543.5" r="1.25" fill="#a8408c"/><circle cx="99.99" cy="541.38" r="1.25" fill="#a8408c"/><circle cx="101.62" cy="539.09" r="1.25" fill="#7e3069"/><circle cx="103.87" cy="538.25" r="1.25" fill="#c64ba5"/><circle cx="102.27" cy="537.78" r="1.25" fill="#a8408c"/><circle cx="99.5" cy="538.16" r="1.25" fill="#7e3069"/><circle cx="102.13" cy="543.58" r="1.25" fill="#a8408c"/><circle cx="103.61" cy="540.56" r="1.25" fill="#a8408c"/><circle cx="106.72" cy="540.21" r="1.25" fill="#7e3069"/><circle cx="103.44" cy="537.97" r="1.25" fill="#7e3069"/><circle cx="107.99" cy="542.41" r="1.25" fill="#7e3069"/><circle cx="109.65" cy="540.86" r="1.25" fill="#7e3069"/><circle cx="103.52" cy="541.12" r="1.25" fill="#a8408c"/><circle cx="109.06" cy="539.14" r="1.25" fill="#7e3069"/><circle cx="108.93" cy="541.3" r="1.25" fill="#a8408c"/><circle cx="106.41" cy="541.36" r="1.25" fill="#a8408c"/><circle cx="105.89" cy="541.98" r="1.25" fill="#a8408c"/><circle cx="106.44" cy="537.45" r="1.25" fill="#c64ba5"/><circle cx="104.46" cy="539.88" r="1.25" fill="#c64ba5"/><circle cx="104.48" cy="537.21" r="1.25" fill="#7e3069"/><circle cx="109.23" cy="539.42" r="1.25" fill="#a8408c"/><circle cx="106.39" cy="541.03" r="1.25" fill="#7e3069"/><circle cx="104.87" cy="546.89" r="1.25" fill="#a8408c"/><circle cx="103.59" cy="545.46" r="1.25" fill="#7e3069"/><circle cx="104.92" cy="545.08" r="1.25" fill="#7e3069"/><circle cx="103.29" cy="543.92" r="1.25" fill="#c64ba5"/><circle cx="107.01" cy="544.78" r="1.25" fill="#7e3069"/><circle cx="105.27" cy="547.34" r="1.25" fill="#c64ba5"/><circle cx="107.27" cy="544.65" r="1.25" fill="#c64ba5"/><circle cx="106.3" cy="546.47" r="1.25" fill="#a8408c"/><circle cx="104.76" cy="547.64" r="1.25" fill="#a8408c"/><circle cx="105.12" cy="544.83" r="1.25" fill="#7e3069"/><circle cx="105.01" cy="546.5" r="1.25" fill="#7e3069"/><circle cx="101.81" cy="547.58" r="1.25" fill="#7e3069"/><circle cx="102.74" cy="545.15" r="1.25" fill="#7e3069"/><circle cx="104.76" cy="547.66" r="1.25" fill="#7e3069"/><circle cx="108.15" cy="549.07" r="1.25" fill="#7e3069"/><circle cx="109.13" cy="545.88" r="1.25" fill="#a8408c"/><circle cx="110.07" cy="546.39" r="1.25" fill="#7e3069"/><circle cx="105.75" cy="546.75" r="1.25" fill="#a8408c"/><circle cx="109.16" cy="549.44" r="1.25" fill="#a8408c"/><circle cx="106.98" cy="548.82" r="1.25" fill="#c64ba5"/><circle cx="106.37" cy="546.29" r="1.25" fill="#a8408c"/><circle cx="107.47" cy="546.46" r="1.25" fill="#c64ba5"/><circle cx="110.8" cy="548.68" r="1.25" fill="#a8408c"/><circle cx="109.14" cy="543.95" r="1.25" fill="#c64ba5"/><circle cx="106.84" cy="546.84" r="1.25" fill="#a8408c"/><circle cx="109.79" cy="544.24" r="1.25" fill="#c64ba5"/><circle cx="107.68" cy="543.15" r="1.25" fill="#7e3069"/><circle cx="111.56" cy="545.4" r="1.25" fill="#c64ba5"/><circle cx="101.22" cy="551.57" r="1.25" fill="#c64ba5"/><circle cx="101.89" cy="547.69" r="1.25" fill="#7e3069"/><circle cx="105.58" cy="548.42" r="1.25" fill="#7e3069"/><circle cx="102.65" cy="552.08" r="1.25" fill="#7e3069"/><circle cx="99.93" cy="550.03" r="1.25" fill="#7e3069"/><circle cx="102.72" cy="552.78" r="1.25" fill="#7e3069"/><circle cx="105.29" cy="551.5" r="1.25" fill="#a8408c"/><circle cx="99.52" cy="550" r="1.25" fill="#7e3069"/><circle cx="106.04" cy="549.51" r="1.25" fill="#a8408c"/><circle cx="101.38" cy="551.74" r="1.25" fill="#7e3069"/><circle cx="101.76" cy="551.91" r="1.25" fill="#c64ba5"/><circle cx="102.44" cy="550.21" r="1.25" fill="#7e3069"/><circle cx="101.81" cy="552.07" r="1.25" fill="#a8408c"/><circle cx="101.65" cy="546.23" r="1.25" fill="#a8408c"/></g>
<polyline points="92.85,534.17 91.39,534.54 91.7,533.07 93.07,532.47 94.56,532.28 95.27,530.96 93.99,531.72 93.76,533.21 92.26,533.25 90.77,533.15 89.37,532.59 88.11,533.39 87.85,534.87 88.65,536.14 89.64,535.02 90.28,533.66 91.23,532.5 92.37,531.52 93.63,532.33 95.03,532.87 96.3,532.07 97.53,531.22 98.71,532.14 100.2,532.36 98.8,532.9 97.3,532.96 95.82,532.73 94.58,533.57 93.56,534.67 92.06,534.71 91.15,533.51 91.35,532.03 92.49,531.06 93.27,529.77 92.14,530.76 92.45,532.22 92.88,533.66 94.27,533.08 95.35,532.05 95.58,530.57 94.37,529.68 94.22,531.18 94.59,532.63 95.33,533.94 96.72,534.49 96.66,535.99" stroke="#1f9c52" stroke-width="1.8" fill="none" stroke-linejoin="round" stroke-linecap="round"/>
<polyline points="79.4,530.4 80.78,529.65 82.36,529.55 83.8,529 85.45,528.79 86.7,529.73 88,530.5 89.63,531.02 91.1,531.9 93.05,531.76 95,532 96.88,532.76 98.4,534.1 99.72,533.61 101,533 101.09,534.66 102.68,535.3 103.48,536.47 104.2,537.7 106.09,537.36 108,537.5 110,539 110.81,541.07 113,540.7" stroke="#1f9c52" stroke-width="1.9" fill="none" stroke-linejoin="round" stroke-linecap="round"/>
<g><circle cx="80.23" cy="530.67" r="0.8" fill="#18793f"/><circle cx="80.52" cy="529.55" r="0.8" fill="#18793f"/><circle cx="82.62" cy="529.01" r="0.8" fill="#22ae5b"/><circle cx="84.43" cy="529.1" r="0.8" fill="#22ae5b"/><circle cx="85.81" cy="529.69" r="0.8" fill="#18793f"/><circle cx="87.28" cy="529.24" r="0.8" fill="#22ae5b"/><circle cx="88.1" cy="530.05" r="0.8" fill="#18793f"/><circle cx="91.46" cy="531.05" r="0.8" fill="#22ae5b"/><circle cx="92.02" cy="531.95" r="0.8" fill="#18793f"/><circle cx="92.8" cy="530.96" r="0.8" fill="#18793f"/><circle cx="95.33" cy="532.23" r="0.8" fill="#18793f"/><circle cx="95.92" cy="532.24" r="0.8" fill="#22ae5b"/><circle cx="98.44" cy="534" r="0.8" fill="#22ae5b"/><circle cx="98.96" cy="534.13" r="0.8" fill="#18793f"/><circle cx="102.4" cy="532.94" r="0.8" fill="#22ae5b"/><circle cx="100.53" cy="534.39" r="0.8" fill="#22ae5b"/><circle cx="102.46" cy="534.89" r="0.8" fill="#22ae5b"/><circle cx="103.61" cy="536.52" r="0.8" fill="#22ae5b"/><circle cx="104.75" cy="537.58" r="0.8" fill="#18793f"/><circle cx="106.63" cy="537.46" r="0.8" fill="#22ae5b"/><circle cx="108.15" cy="537.88" r="0.8" fill="#22ae5b"/><circle cx="110.07" cy="539.42" r="0.8" fill="#22ae5b"/><circle cx="110.11" cy="539.14" r="0.8" fill="#22ae5b"/><circle cx="111.39" cy="541.4" r="0.8" fill="#18793f"/><circle cx="112.83" cy="541.48" r="0.8" fill="#22ae5b"/></g>
<text x="9.6" y="589.2" font-size="12.5" text-anchor="start" fill="#1a1a1a" font-weight="bold">i</text>
<text x="135.6" y="596.9" font-size="9.3" text-anchor="middle" fill="#262626">Δ Contact Probability</text>
<defs><linearGradient id="cbi" x1="0" x2="1" y1="0" y2="0"><stop offset="0" stop-color="#26307a"/><stop offset="0.12" stop-color="#2d4595"/><stop offset="0.3" stop-color="#4a6cb5"/><stop offset="0.42" stop-color="#a9b8dc"/><stop offset="0.5" stop-color="#ffffff"/><stop offset="0.58" stop-color="#f2b6b8"/><stop offset="0.7" stop-color="#e5404a"/><stop offset="0.85" stop-color="#c41a2c"/><stop offset="1" stop-color="#7d0a1e"/></linearGradient></defs>
<rect x="53.1" y="600.9" width="165.2" height="5.4" fill="url(#cbi)"/>
<line x1="69.8" y1="606.3" x2="69.8" y2="608.3" stroke="#6f6f6f" stroke-width="0.7"/>
<text transform="translate(72.6,610.3) rotate(-90)" font-size="7.8" text-anchor="end" fill="#262626">0.04</text>
<line x1="102.4" y1="606.3" x2="102.4" y2="608.3" stroke="#6f6f6f" stroke-width="0.7"/>
<text transform="translate(105.2,610.3) rotate(-90)" font-size="7.8" text-anchor="end" fill="#262626">0.02</text>
<line x1="135.3" y1="606.3" x2="135.3" y2="608.3" stroke="#6f6f6f" stroke-width="0.7"/>
<text transform="translate(138.1,610.3) rotate(-90)" font-size="7.8" text-anchor="end" fill="#262626">0.00</text>
<line x1="167.9" y1="606.3" x2="167.9" y2="608.3" stroke="#6f6f6f" stroke-width="0.7"/>
<text transform="translate(170.7,610.3) rotate(-90)" font-size="7.8" text-anchor="end" fill="#262626">−0.02</text>
<line x1="200.8" y1="606.3" x2="200.8" y2="608.3" stroke="#6f6f6f" stroke-width="0.7"/>
<text transform="translate(203.6,610.3) rotate(-90)" font-size="7.8" text-anchor="end" fill="#262626">−0.04</text>
<filter id="soft" x="0" y="0" width="1" height="1"><feGaussianBlur stdDeviation="0.45"/></filter><g filter="url(#soft)">
<path d="M140.49 640.2h3.99v2h-3.99zM170.42 640.2h3.99v2h-3.99zM176.4 640.2h11.97v2h-11.97zM190.37 640.2h2v2h-2zM204.33 640.2h2v2h-2zM212.31 640.2h2v2h-2zM172.41 642.2h2v2h-2zM176.4 642.2h7.98v2h-7.98zM186.38 642.2h2v2h-2zM204.33 642.2h2v2h-2zM142.48 644.19h2v2h-2zM170.42 644.19h2v2h-2zM174.41 644.19h2v2h-2zM180.39 644.19h2v2h-2zM186.38 644.19h2v2h-2zM170.42 646.19h9.98v2h-9.98zM186.38 646.19h2v2h-2zM192.36 646.19h2v2h-2zM204.33 646.19h2v2h-2zM208.32 646.19h2v2h-2zM162.43 648.18h2v2h-2zM170.42 648.18h9.98v2h-9.98zM184.38 648.18h3.99v2h-3.99zM190.37 648.18h2v2h-2zM106.57 650.18h2v2h-2zM92.6 652.17h2v2h-2zM96.59 652.17h5.99v2h-5.99zM172.41 652.17h2v2h-2zM182.39 652.17h2v2h-2zM206.33 652.17h2v2h-2zM84.62 654.17h2v2h-2zM98.59 654.17h2v2h-2zM170.42 654.17h3.99v2h-3.99zM200.34 654.17h2v2h-2zM182.39 656.16h2v2h-2zM204.33 656.16h2v2h-2zM216.3 656.16h2v2h-2zM82.63 658.16h2v2h-2zM98.59 658.16h3.99v2h-3.99zM104.57 658.16h2v2h-2zM162.43 658.16h2v2h-2zM172.41 658.16h2v2h-2zM192.36 658.16h2v2h-2zM196.35 658.16h2v2h-2zM206.33 658.16h3.99v2h-3.99zM142.48 660.15h2v2h-2zM198.35 660.15h2v2h-2zM204.33 660.15h2v2h-2zM106.57 662.15h2v2h-2zM172.41 662.15h2v2h-2zM182.39 662.15h2v2h-2zM186.38 662.15h2v2h-2zM192.36 662.15h2v2h-2zM214.31 662.15h2v2h-2zM100.58 664.14h2v2h-2zM152.46 664.14h2v2h-2zM164.43 664.14h2v2h-2zM172.41 664.14h2v2h-2zM176.4 664.14h2v2h-2zM186.38 664.14h2v2h-2zM194.36 664.14h2v2h-2zM198.35 664.14h2v2h-2zM204.33 664.14h2v2h-2zM216.3 664.14h2v2h-2zM122.53 666.14h2v2h-2zM162.43 666.14h2v2h-2zM182.39 666.14h5.99v2h-5.99zM198.35 666.14h2v2h-2zM210.32 666.14h2v2h-2zM214.31 666.14h2v2h-2zM142.48 668.13h2v2h-2zM152.46 668.13h2v2h-2zM172.41 668.13h7.98v2h-7.98zM182.39 668.13h3.99v2h-3.99zM204.33 668.13h2v2h-2zM208.32 668.13h5.99v2h-5.99zM152.46 670.13h2v2h-2zM172.41 670.13h3.99v2h-3.99zM178.4 670.13h2v2h-2zM190.37 670.13h2v2h-2zM204.33 670.13h2v2h-2zM212.31 670.13h3.99v2h-3.99zM146.47 672.12h2v2h-2zM152.46 672.12h2v2h-2zM172.41 672.12h3.99v2h-3.99zM188.37 672.12h3.99v2h-3.99zM148.47 674.12h2v2h-2zM162.43 674.12h2v2h-2zM172.41 674.12h3.99v2h-3.99zM180.39 674.12h2v2h-2zM186.38 674.12h5.99v2h-5.99zM204.33 674.12h2v2h-2zM214.31 674.12h3.99v2h-3.99zM140.49 676.11h3.99v2h-3.99zM170.42 676.11h2v2h-2zM182.39 676.11h2v2h-2zM186.38 676.11h5.99v2h-5.99zM142.48 678.11h2v2h-2zM160.44 678.11h3.99v2h-3.99zM166.43 678.11h3.99v2h-3.99zM184.38 678.11h2v2h-2zM188.37 678.11h2v2h-2zM168.42 680.1h2v2h-2zM184.38 680.1h7.98v2h-7.98zM210.32 680.1h2v2h-2zM78.64 682.1h2v2h-2zM138.49 682.1h2v2h-2zM166.43 682.1h2v2h-2zM184.38 682.1h2v2h-2zM204.33 682.1h2v2h-2zM208.32 682.1h2v2h-2zM142.48 684.09h2v2h-2zM160.44 684.09h7.98v2h-7.98zM174.41 684.09h2v2h-2zM180.39 684.09h5.99v2h-5.99zM204.33 684.09h2v2h-2zM212.31 684.09h2v2h-2zM142.48 686.09h2v2h-2zM146.47 686.09h2v2h-2zM160.44 686.09h3.99v2h-3.99zM166.43 686.09h2v2h-2zM176.4 686.09h2v2h-2zM180.39 686.09h5.99v2h-5.99zM202.34 686.09h2v2h-2zM206.33 686.09h2v2h-2zM174.41 688.08h7.98v2h-7.98zM204.33 688.08h2v2h-2zM164.43 690.08h2v2h-2zM170.42 690.08h7.98v2h-7.98zM194.36 690.08h2v2h-2zM204.33 690.08h2v2h-2zM136.5 692.07h2v2h-2zM170.42 692.07h5.99v2h-5.99zM178.4 692.07h2v2h-2zM188.37 692.07h2v2h-2zM122.53 694.07h2v2h-2zM142.48 694.07h2v2h-2zM160.44 694.07h2v2h-2zM170.42 694.07h2v2h-2zM174.41 694.07h2v2h-2zM182.39 694.07h2v2h-2zM212.31 694.07h2v2h-2zM142.48 696.07h2v2h-2zM174.41 696.07h2v2h-2zM186.38 696.07h2v2h-2zM204.33 696.07h2v2h-2zM208.32 696.07h2v2h-2zM216.3 696.07h2v2h-2zM156.45 698.06h2v2h-2zM142.48 700.06h2v2h-2zM158.44 700.06h2v2h-2zM188.37 700.06h2v2h-2zM192.36 700.06h2v2h-2zM204.33 700.06h2v2h-2zM210.32 700.06h2v2h-2zM172.41 702.05h3.99v2h-3.99zM204.33 702.05h2v2h-2zM208.32 702.05h2v2h-2zM216.3 702.05h2v2h-2zM142.48 704.05h2v2h-2zM154.45 704.05h2v2h-2zM180.39 704.05h2v2h-2zM188.37 704.05h2v2h-2zM128.52 706.04h2v2h-2zM148.47 706.04h2v2h-2zM204.33 706.04h2v2h-2zM208.32 706.04h2v2h-2zM128.52 708.04h2v2h-2zM178.4 708.04h5.99v2h-5.99zM190.37 708.04h2v2h-2zM198.35 708.04h2v2h-2zM202.34 708.04h2v2h-2zM174.41 710.03h2v2h-2zM204.33 710.03h2v2h-2zM122.53 712.03h2v2h-2zM160.44 712.03h2v2h-2zM204.33 712.03h2v2h-2zM210.32 712.03h2v2h-2zM172.41 714.02h3.99v2h-3.99zM186.38 714.02h3.99v2h-3.99zM144.48 716.02h2v2h-2zM174.41 716.02h2v2h-2zM122.53 718.01h2v2h-2zM136.5 718.01h3.99v2h-3.99zM162.43 718.01h3.99v2h-3.99zM170.42 718.01h5.99v2h-5.99zM178.4 718.01h3.99v2h-3.99zM186.38 718.01h2v2h-2zM190.37 718.01h2v2h-2zM204.33 718.01h2v2h-2zM210.32 718.01h2v2h-2zM162.43 720.01h2v2h-2zM168.42 720.01h2v2h-2zM174.41 720.01h2v2h-2zM204.33 720.01h2v2h-2zM70.66 722h2v2h-2zM86.62 722h2v2h-2zM92.6 722h2v2h-2zM96.59 722h2v2h-2zM102.58 722h5.99v2h-5.99zM130.51 722h2v2h-2zM204.33 722h2v2h-2zM212.31 722h2v2h-2zM84.62 724h2v2h-2zM88.61 724h3.99v2h-3.99zM100.58 724h2v2h-2zM106.57 724h2v2h-2zM126.52 724h2v2h-2zM134.5 724h2v2h-2zM196.35 724h2v2h-2zM204.33 724h2v2h-2zM58.69 725.99h2v2h-2zM66.67 725.99h2v2h-2zM88.61 725.99h2v2h-2zM92.6 725.99h2v2h-2zM98.59 725.99h5.99v2h-5.99zM108.57 725.99h3.99v2h-3.99zM122.53 725.99h2v2h-2zM196.35 725.99h2v2h-2zM60.68 727.99h2v2h-2zM86.62 727.99h2v2h-2zM92.6 727.99h2v2h-2zM106.57 727.99h5.99v2h-5.99zM122.53 727.99h3.99v2h-3.99zM130.51 727.99h2v2h-2zM200.34 727.99h2v2h-2zM76.64 729.98h2v2h-2zM86.62 729.98h5.99v2h-5.99zM102.58 729.98h2v2h-2zM108.57 729.98h2v2h-2zM116.55 729.98h2v2h-2zM122.53 729.98h2v2h-2zM204.33 729.98h2v2h-2zM92.6 731.98h2v2h-2zM98.59 731.98h2v2h-2zM106.57 731.98h2v2h-2zM110.56 731.98h2v2h-2zM188.37 731.98h2v2h-2zM64.67 733.97h2v2h-2zM80.63 733.97h2v2h-2zM120.54 733.97h2v2h-2zM168.42 733.97h2v2h-2zM178.4 733.97h2v2h-2zM182.39 733.97h3.99v2h-3.99zM54.7 735.97h2v2h-2zM80.63 735.97h2v2h-2zM128.52 735.97h2v2h-2zM178.4 735.97h2v2h-2zM204.33 735.97h2v2h-2zM74.65 737.96h2v2h-2zM98.59 737.96h2v2h-2zM126.52 737.96h3.99v2h-3.99zM172.41 737.96h3.99v2h-3.99zM180.39 737.96h2v2h-2zM188.37 737.96h2v2h-2zM214.31 737.96h2v2h-2zM122.53 739.96h2v2h-2zM128.52 739.96h3.99v2h-3.99zM134.5 739.96h2v2h-2zM188.37 739.96h2v2h-2zM56.69 741.95h3.99v2h-3.99zM78.64 741.95h2v2h-2zM104.57 741.95h2v2h-2zM112.56 741.95h2v2h-2zM174.41 741.95h2v2h-2zM204.33 741.95h2v2h-2zM72.65 743.95h3.99v2h-3.99zM78.64 743.95h2v2h-2zM84.62 743.95h2v2h-2zM122.53 743.95h2v2h-2zM128.52 743.95h2v2h-2zM132.51 743.95h3.99v2h-3.99zM178.4 743.95h2v2h-2zM184.38 743.95h2v2h-2zM108.57 745.94h2v2h-2zM128.52 745.94h5.99v2h-5.99zM174.41 745.94h2v2h-2zM188.37 745.94h2v2h-2zM102.58 747.94h3.99v2h-3.99zM110.56 747.94h2v2h-2zM128.52 747.94h2v2h-2zM58.69 749.93h2v2h-2zM74.65 749.93h2v2h-2zM96.59 749.93h7.98v2h-7.98zM116.55 749.93h2v2h-2zM134.5 749.93h2v2h-2zM64.67 751.93h2v2h-2zM88.61 751.93h7.98v2h-7.98zM100.58 751.93h2v2h-2zM128.52 751.93h2v2h-2zM132.51 751.93h2v2h-2zM204.33 751.93h2v2h-2zM60.68 753.93h2v2h-2zM80.63 753.93h2v2h-2zM90.61 753.93h5.99v2h-5.99zM106.57 753.93h3.99v2h-3.99zM122.53 753.93h3.99v2h-3.99zM204.33 753.93h2v2h-2zM58.69 755.92h2v2h-2zM66.67 755.92h2v2h-2zM72.65 755.92h2v2h-2zM82.63 755.92h3.99v2h-3.99zM88.61 755.92h2v2h-2zM92.6 755.92h2v2h-2zM106.57 755.92h5.99v2h-5.99zM122.53 755.92h2v2h-2zM60.68 757.92h2v2h-2zM84.62 757.92h2v2h-2zM88.61 757.92h2v2h-2zM96.59 757.92h2v2h-2zM104.57 757.92h3.99v2h-3.99zM130.51 757.92h2v2h-2zM60.68 759.91h2v2h-2zM86.62 759.91h2v2h-2zM106.57 759.91h3.99v2h-3.99zM196.35 759.91h2v2h-2zM84.62 761.91h3.99v2h-3.99zM92.6 761.91h2v2h-2zM102.58 761.91h2v2h-2zM80.63 763.9h2v2h-2zM86.62 763.9h2v2h-2zM102.58 763.9h2v2h-2zM122.53 763.9h2v2h-2zM128.52 763.9h2v2h-2zM196.35 763.9h2v2h-2zM200.34 763.9h2v2h-2zM66.67 765.9h2v2h-2zM80.63 765.9h2v2h-2zM98.59 765.9h5.99v2h-5.99zM116.55 765.9h2v2h-2zM144.48 765.9h2v2h-2zM62.68 767.89h2v2h-2zM80.63 767.89h5.99v2h-5.99zM98.59 767.89h3.99v2h-3.99zM130.51 767.89h2v2h-2zM60.68 769.89h2v2h-2zM96.59 769.89h3.99v2h-3.99zM114.55 769.89h2v2h-2zM94.6 771.88h3.99v2h-3.99zM100.58 771.88h2v2h-2zM162.43 771.88h2v2h-2zM80.63 773.88h2v2h-2zM92.6 773.88h2v2h-2zM82.63 775.87h2v2h-2zM96.59 775.87h2v2h-2zM112.56 775.87h2v2h-2zM122.53 775.87h2v2h-2zM132.51 775.87h2v2h-2zM204.33 775.87h2v2h-2zM58.69 777.87h2v2h-2zM90.61 777.87h2v2h-2zM128.52 777.87h2v2h-2zM78.64 779.86h2v2h-2zM96.59 779.86h2v2h-2zM114.55 779.86h2v2h-2zM122.53 779.86h3.99v2h-3.99zM128.52 779.86h2v2h-2zM60.68 781.86h2v2h-2zM120.54 781.86h2v2h-2zM132.51 781.86h2v2h-2zM54.7 787.84h3.99v2h-3.99zM94.6 787.84h7.98v2h-7.98zM106.57 787.84h5.99v2h-5.99zM120.54 787.84h2v2h-2zM124.53 787.84h3.99v2h-3.99zM162.43 787.84h2v2h-2zM204.33 787.84h2v2h-2zM64.67 789.84h2v2h-2zM122.53 789.84h2v2h-2zM162.43 789.84h2v2h-2zM66.67 791.83h2v2h-2zM96.59 791.83h3.99v2h-3.99zM162.43 791.83h2v2h-2zM186.38 791.83h2v2h-2zM122.53 793.83h2v2h-2zM128.52 793.83h2v2h-2zM52.7 797.82h2v2h-2zM60.68 797.82h2v2h-2zM86.62 799.81h2v2h-2zM106.57 799.81h2v2h-2zM130.51 799.81h2v2h-2zM56.69 801.81h2v2h-2zM90.61 801.81h2v2h-2zM106.57 801.81h2v2h-2zM110.56 801.81h2v2h-2zM134.5 801.81h2v2h-2zM56.69 803.8h2v2h-2zM128.52 803.8h2v2h-2z" fill="rgb(237, 239, 247)"/>
<path d="M196.35 640.2h2v2h-2zM136.5 642.2h2v2h-2zM166.43 642.2h2v2h-2zM194.36 642.2h5.99v2h-5.99zM208.32 642.2h2v2h-2zM212.31 642.2h2v2h-2zM198.35 644.19h2v2h-2zM212.31 644.19h2v2h-2zM216.3 644.19h2v2h-2zM190.37 646.19h2v2h-2zM216.3 646.19h2v2h-2zM114.55 648.18h2v2h-2zM146.47 648.18h2v2h-2zM200.34 648.18h2v2h-2zM206.33 648.18h2v2h-2zM212.31 648.18h2v2h-2zM114.55 650.18h2v2h-2zM166.43 650.18h2v2h-2zM208.32 650.18h3.99v2h-3.99zM118.54 652.17h2v2h-2zM122.53 652.17h2v2h-2zM202.34 652.17h2v2h-2zM122.53 654.17h2v2h-2zM126.52 654.17h2v2h-2zM144.48 654.17h3.99v2h-3.99zM168.42 654.17h2v2h-2zM196.35 654.17h2v2h-2zM204.33 654.17h2v2h-2zM214.31 654.17h2v2h-2zM120.54 656.16h3.99v2h-3.99zM158.44 656.16h2v2h-2zM212.31 656.16h3.99v2h-3.99zM116.55 658.16h2v2h-2zM120.54 658.16h2v2h-2zM148.47 658.16h2v2h-2zM158.44 658.16h2v2h-2zM178.4 658.16h2v2h-2zM182.39 658.16h2v2h-2zM202.34 658.16h2v2h-2zM210.32 658.16h2v2h-2zM114.55 660.15h2v2h-2zM118.54 660.15h3.99v2h-3.99zM124.53 660.15h2v2h-2zM144.48 660.15h2v2h-2zM152.46 660.15h2v2h-2zM184.38 660.15h2v2h-2zM200.34 660.15h2v2h-2zM216.3 660.15h2v2h-2zM212.31 662.15h2v2h-2zM158.44 664.14h2v2h-2zM188.37 664.14h3.99v2h-3.99zM210.32 664.14h2v2h-2zM192.36 666.14h5.99v2h-5.99zM216.3 666.14h2v2h-2zM164.43 668.13h2v2h-2zM196.35 668.13h2v2h-2zM144.48 670.13h2v2h-2zM156.45 670.13h2v2h-2zM194.36 670.13h2v2h-2zM198.35 670.13h2v2h-2zM210.32 670.13h2v2h-2zM196.35 672.12h2v2h-2zM212.31 672.12h2v2h-2zM210.32 674.12h3.99v2h-3.99zM144.48 676.11h3.99v2h-3.99zM178.4 676.11h2v2h-2zM196.35 676.11h2v2h-2zM200.34 676.11h2v2h-2zM180.39 678.11h2v2h-2zM196.35 678.11h3.99v2h-3.99zM136.5 680.1h2v2h-2zM158.44 680.1h2v2h-2zM196.35 680.1h2v2h-2zM200.34 680.1h2v2h-2zM172.41 682.1h2v2h-2zM214.31 682.1h2v2h-2zM150.46 684.09h3.99v2h-3.99zM172.41 684.09h2v2h-2zM144.48 688.08h2v2h-2zM190.37 688.08h2v2h-2zM198.35 688.08h2v2h-2zM214.31 688.08h2v2h-2zM168.42 690.08h2v2h-2zM162.43 692.07h2v2h-2zM196.35 692.07h2v2h-2zM200.34 692.07h2v2h-2zM214.31 692.07h2v2h-2zM164.43 694.07h2v2h-2zM180.39 694.07h2v2h-2zM194.36 694.07h3.99v2h-3.99zM184.38 696.07h2v2h-2zM196.35 696.07h2v2h-2zM202.34 696.07h2v2h-2zM140.49 698.06h2v2h-2zM180.39 698.06h2v2h-2zM200.34 698.06h2v2h-2zM136.5 700.06h2v2h-2zM154.45 700.06h2v2h-2zM200.34 700.06h2v2h-2zM156.45 702.05h2v2h-2zM194.36 702.05h2v2h-2zM150.46 704.05h2v2h-2zM198.35 704.05h2v2h-2zM214.31 704.05h2v2h-2zM138.49 706.04h3.99v2h-3.99zM144.48 706.04h2v2h-2zM152.46 706.04h2v2h-2zM178.4 706.04h2v2h-2zM184.38 706.04h2v2h-2zM188.37 706.04h2v2h-2zM196.35 706.04h5.99v2h-5.99zM214.31 706.04h2v2h-2zM146.47 708.04h2v2h-2zM194.36 708.04h2v2h-2zM200.34 708.04h2v2h-2zM214.31 708.04h3.99v2h-3.99zM210.32 710.03h3.99v2h-3.99zM178.4 712.03h2v2h-2zM214.31 712.03h2v2h-2zM148.47 714.02h2v2h-2zM178.4 714.02h2v2h-2zM194.36 714.02h2v2h-2zM138.49 716.02h2v2h-2zM152.46 716.02h3.99v2h-3.99zM184.38 716.02h2v2h-2zM200.34 716.02h2v2h-2zM214.31 716.02h2v2h-2zM144.48 718.01h2v2h-2zM144.48 720.01h2v2h-2zM160.44 720.01h2v2h-2zM200.34 720.01h2v2h-2zM66.67 722h2v2h-2zM80.63 722h2v2h-2zM70.66 724h2v2h-2zM124.53 724h2v2h-2zM52.7 725.99h2v2h-2zM56.69 725.99h2v2h-2zM76.64 725.99h2v2h-2zM124.53 725.99h2v2h-2zM132.51 725.99h2v2h-2zM66.67 727.99h2v2h-2zM112.56 727.99h2v2h-2zM52.7 729.98h2v2h-2zM196.35 729.98h2v2h-2zM52.7 731.98h2v2h-2zM126.52 731.98h2v2h-2zM202.34 731.98h2v2h-2zM124.53 733.97h2v2h-2zM200.34 733.97h2v2h-2zM204.33 733.97h3.99v2h-3.99zM52.7 735.97h2v2h-2zM112.56 735.97h2v2h-2zM134.5 735.97h2v2h-2zM206.33 735.97h2v2h-2zM66.67 737.96h2v2h-2zM124.53 737.96h2v2h-2zM200.34 737.96h2v2h-2zM204.33 737.96h2v2h-2zM68.66 739.96h3.99v2h-3.99zM114.55 739.96h2v2h-2zM126.52 739.96h2v2h-2zM132.51 739.96h2v2h-2zM204.33 739.96h3.99v2h-3.99zM116.55 741.95h2v2h-2zM126.52 741.95h2v2h-2zM132.51 741.95h3.99v2h-3.99zM206.33 741.95h2v2h-2zM62.68 743.95h2v2h-2zM124.53 743.95h3.99v2h-3.99zM130.51 743.95h2v2h-2zM112.56 745.94h2v2h-2zM106.57 747.94h2v2h-2zM114.55 747.94h2v2h-2zM130.51 747.94h2v2h-2zM62.68 749.93h2v2h-2zM78.64 749.93h2v2h-2zM108.57 749.93h2v2h-2zM114.55 749.93h2v2h-2zM86.62 751.93h2v2h-2zM124.53 751.93h2v2h-2zM130.51 751.93h2v2h-2zM134.5 751.93h2v2h-2zM130.51 753.93h2v2h-2zM128.52 755.92h2v2h-2zM52.7 757.92h2v2h-2zM126.52 757.92h2v2h-2zM130.51 759.91h2v2h-2zM52.7 761.91h2v2h-2zM60.68 761.91h3.99v2h-3.99zM74.65 761.91h3.99v2h-3.99zM118.54 761.91h2v2h-2zM126.52 761.91h3.99v2h-3.99zM108.57 763.9h2v2h-2zM112.56 763.9h2v2h-2zM88.61 767.89h2v2h-2zM118.54 769.89h2v2h-2zM112.56 771.88h2v2h-2zM120.54 771.88h2v2h-2zM52.7 773.88h2v2h-2zM56.69 773.88h2v2h-2zM60.68 773.88h2v2h-2zM114.55 773.88h3.99v2h-3.99zM120.54 773.88h2v2h-2zM124.53 773.88h3.99v2h-3.99zM130.51 773.88h2v2h-2zM52.7 777.87h2v2h-2zM60.68 777.87h2v2h-2zM80.63 777.87h2v2h-2zM74.65 779.86h2v2h-2zM76.64 781.86h2v2h-2zM96.59 781.86h2v2h-2zM70.66 783.85h2v2h-2zM92.6 783.85h2v2h-2zM130.51 783.85h2v2h-2zM72.65 785.85h2v2h-2zM66.67 787.84h2v2h-2zM68.66 789.84h2v2h-2zM92.6 789.84h2v2h-2zM134.5 789.84h2v2h-2zM54.7 791.83h2v2h-2zM110.56 791.83h3.99v2h-3.99zM116.55 791.83h2v2h-2zM120.54 791.83h2v2h-2zM132.51 791.83h2v2h-2zM56.69 793.83h2v2h-2zM64.67 793.83h2v2h-2zM116.55 793.83h2v2h-2zM52.7 795.82h2v2h-2zM68.66 795.82h2v2h-2zM86.62 795.82h5.99v2h-5.99zM98.59 795.82h3.99v2h-3.99zM112.56 795.82h2v2h-2zM116.55 795.82h2v2h-2zM124.53 795.82h3.99v2h-3.99zM132.51 795.82h2v2h-2zM66.67 797.82h2v2h-2zM70.66 797.82h2v2h-2zM74.65 797.82h2v2h-2zM78.64 797.82h3.99v2h-3.99zM86.62 797.82h7.98v2h-7.98zM112.56 797.82h3.99v2h-3.99zM122.53 797.82h2v2h-2zM126.52 797.82h2v2h-2zM130.51 797.82h2v2h-2zM116.55 799.81h2v2h-2zM54.7 801.81h2v2h-2zM58.69 801.81h2v2h-2zM76.64 801.81h2v2h-2zM62.68 803.8h2v2h-2zM88.61 803.8h2v2h-2zM134.5 803.8h2v2h-2z" fill="rgb(252, 237, 238)"/>
<path d="M208.32 640.2h2v2h-2zM214.31 644.19h2v2h-2zM170.42 686.09h2v2h-2zM142.48 718.01h2v2h-2zM102.58 753.93h2v2h-2zM86.62 769.89h2v2h-2zM58.69 799.81h2v2h-2zM52.7 801.81h2v2h-2z" fill="rgb(148, 158, 208)"/>
<path d="M210.32 640.2h2v2h-2zM184.38 670.13h2v2h-2zM178.4 672.12h2v2h-2zM186.38 672.12h2v2h-2zM176.4 674.12h3.99v2h-3.99zM182.39 674.12h2v2h-2zM174.41 676.11h2v2h-2zM148.47 678.11h2v2h-2zM172.41 678.11h2v2h-2zM178.4 678.11h2v2h-2zM148.47 680.1h2v2h-2zM182.39 680.1h2v2h-2zM148.47 682.1h2v2h-2zM174.41 682.1h2v2h-2zM178.4 682.1h3.99v2h-3.99zM176.4 684.09h2v2h-2zM148.47 686.09h2v2h-2zM168.42 686.09h2v2h-2zM170.42 688.08h2v2h-2zM170.42 704.05h3.99v2h-3.99zM174.41 708.04h3.99v2h-3.99zM136.5 714.02h2v2h-2zM140.49 720.01h2v2h-2zM124.53 722h2v2h-2zM128.52 725.99h3.99v2h-3.99zM134.5 727.99h2v2h-2zM114.55 741.95h2v2h-2zM94.6 755.92h2v2h-2zM90.61 759.91h2v2h-2zM64.67 761.91h2v2h-2zM94.6 761.91h2v2h-2zM88.61 763.9h2v2h-2zM64.67 765.9h2v2h-2zM94.6 765.9h3.99v2h-3.99zM90.61 767.89h5.99v2h-5.99zM84.62 769.89h2v2h-2zM90.61 787.84h2v2h-2zM58.69 793.83h2v2h-2zM54.7 797.82h2v2h-2z" fill="rgb(201, 206, 231)"/>
<path d="M214.31 640.2h3.99v2h-3.99zM210.32 644.19h2v2h-2zM112.56 648.18h2v2h-2zM118.54 648.18h2v2h-2zM126.52 648.18h2v2h-2zM216.3 648.18h2v2h-2zM118.54 650.18h5.99v2h-5.99zM120.54 652.17h2v2h-2zM112.56 654.17h5.99v2h-5.99zM124.53 654.17h2v2h-2zM116.55 656.16h2v2h-2zM198.35 656.16h2v2h-2zM200.34 658.16h2v2h-2zM112.56 660.15h2v2h-2zM194.36 660.15h2v2h-2zM196.35 662.15h2v2h-2zM216.3 670.13h2v2h-2zM174.41 680.1h2v2h-2zM154.45 682.1h2v2h-2zM176.4 682.1h2v2h-2zM154.45 686.09h2v2h-2zM146.47 688.08h2v2h-2zM168.42 688.08h2v2h-2zM148.47 690.08h2v2h-2zM152.46 694.07h2v2h-2zM154.45 696.07h2v2h-2zM158.44 696.07h2v2h-2zM160.44 698.06h2v2h-2zM170.42 698.06h2v2h-2zM176.4 698.06h3.99v2h-3.99zM160.44 702.05h2v2h-2zM164.43 706.04h2v2h-2zM166.43 708.04h2v2h-2zM148.47 710.03h2v2h-2zM168.42 710.03h2v2h-2zM140.49 712.03h2v2h-2zM130.51 724h2v2h-2zM130.51 729.98h2v2h-2zM122.53 731.98h2v2h-2zM206.33 731.98h3.99v2h-3.99zM198.35 733.97h2v2h-2zM202.34 733.97h2v2h-2zM118.54 735.97h2v2h-2zM196.35 735.97h2v2h-2zM200.34 735.97h2v2h-2zM120.54 737.96h2v2h-2zM196.35 737.96h3.99v2h-3.99zM202.34 737.96h2v2h-2zM206.33 737.96h2v2h-2zM124.53 739.96h2v2h-2zM198.35 739.96h2v2h-2zM202.34 739.96h2v2h-2zM202.34 741.95h2v2h-2zM208.32 741.95h2v2h-2zM110.56 743.95h2v2h-2zM132.51 747.94h2v2h-2zM132.51 753.93h2v2h-2zM94.6 759.91h2v2h-2zM70.66 765.9h2v2h-2zM92.6 765.9h2v2h-2zM62.68 769.89h2v2h-2zM84.62 771.88h2v2h-2zM66.67 773.88h2v2h-2zM68.66 775.87h2v2h-2zM78.64 775.87h2v2h-2zM72.65 779.86h2v2h-2zM92.6 781.86h3.99v2h-3.99zM78.64 785.85h2v2h-2zM80.63 787.84h2v2h-2zM82.63 789.84h2v2h-2zM62.68 791.83h2v2h-2zM54.7 795.82h2v2h-2zM60.68 799.81h2v2h-2zM62.68 801.81h2v2h-2zM54.7 803.8h2v2h-2z" fill="rgb(248, 218, 220)"/>
<path d="M210.32 642.2h2v2h-2zM204.33 652.17h2v2h-2zM210.32 662.15h2v2h-2zM188.37 668.13h2v2h-2zM184.38 672.12h2v2h-2zM184.38 674.12h2v2h-2zM154.45 684.09h2v2h-2zM172.41 698.06h2v2h-2zM148.47 708.04h2v2h-2zM136.5 712.03h2v2h-2zM138.49 714.02h2v2h-2zM126.52 727.99h3.99v2h-3.99zM132.51 729.98h2v2h-2zM124.53 731.98h2v2h-2zM98.59 755.92h2v2h-2zM100.58 757.92h2v2h-2zM70.66 759.91h2v2h-2zM70.66 761.91h2v2h-2zM96.59 761.91h2v2h-2zM70.66 763.9h2v2h-2zM90.61 763.9h2v2h-2zM76.64 779.86h2v2h-2zM90.61 781.86h2v2h-2zM68.66 787.84h2v2h-2zM64.67 791.83h2v2h-2zM56.69 797.82h2v2h-2z" fill="rgb(245, 200, 202)"/>
<path d="M214.31 642.2h2v2h-2zM206.33 650.18h2v2h-2zM202.34 654.17h2v2h-2zM198.35 658.16h2v2h-2zM194.36 662.15h2v2h-2zM190.37 666.14h2v2h-2zM186.38 670.13h2v2h-2zM176.4 676.11h2v2h-2zM174.41 678.11h2v2h-2zM172.41 680.1h2v2h-2zM180.39 680.1h2v2h-2zM162.43 694.07h2v2h-2zM158.44 698.06h2v2h-2zM154.45 702.05h2v2h-2zM150.46 706.04h2v2h-2zM170.42 708.04h3.99v2h-3.99zM146.47 710.03h2v2h-2zM136.5 716.02h2v2h-2zM126.52 725.99h2v2h-2zM124.53 729.98h2v2h-2zM134.5 729.98h2v2h-2zM122.53 733.97h2v2h-2zM118.54 737.96h2v2h-2zM110.56 745.94h2v2h-2zM100.58 753.93h2v2h-2zM96.59 755.92h2v2h-2zM102.58 755.92h2v2h-2zM94.6 757.92h2v2h-2zM98.59 757.92h2v2h-2zM64.67 759.91h2v2h-2zM92.6 759.91h2v2h-2zM64.67 763.9h2v2h-2zM96.59 763.9h2v2h-2zM88.61 765.9h2v2h-2zM64.67 767.89h2v2h-2zM86.62 771.88h2v2h-2zM82.63 773.88h2v2h-2zM78.64 777.87h2v2h-2zM74.65 781.86h2v2h-2zM70.66 785.85h2v2h-2zM66.67 789.84h2v2h-2zM88.61 791.83h2v2h-2zM62.68 795.82h2v2h-2zM58.69 797.82h2v2h-2z" fill="rgb(183, 190, 223)"/>
<path d="M208.32 644.19h2v2h-2zM210.32 648.18h2v2h-2zM204.33 650.18h2v2h-2zM202.34 656.16h2v2h-2zM188.37 666.14h2v2h-2zM180.39 668.13h2v2h-2zM190.37 668.13h2v2h-2zM180.39 670.13h3.99v2h-3.99zM176.4 672.12h2v2h-2zM180.39 672.12h2v2h-2zM172.41 676.11h2v2h-2zM184.38 676.11h2v2h-2zM170.42 678.11h2v2h-2zM182.39 678.11h2v2h-2zM186.38 678.11h2v2h-2zM170.42 680.1h2v2h-2zM168.42 682.1h3.99v2h-3.99zM182.39 682.1h2v2h-2zM186.38 682.1h2v2h-2zM148.47 684.09h2v2h-2zM168.42 684.09h2v2h-2zM178.4 684.09h2v2h-2zM172.41 686.09h3.99v2h-3.99zM178.4 686.09h2v2h-2zM172.41 688.08h2v2h-2zM166.43 692.07h2v2h-2zM162.43 696.07h2v2h-2zM152.46 702.05h2v2h-2zM174.41 704.05h3.99v2h-3.99zM150.46 708.04h2v2h-2zM144.48 710.03h2v2h-2zM146.47 712.03h2v2h-2zM140.49 714.02h2v2h-2zM142.48 716.02h2v2h-2zM142.48 720.01h2v2h-2zM126.52 722h3.99v2h-3.99zM134.5 722h2v2h-2zM134.5 725.99h2v2h-2zM134.5 731.98h2v2h-2zM122.53 735.97h2v2h-2zM116.55 737.96h2v2h-2zM134.5 737.96h2v2h-2zM118.54 739.96h2v2h-2zM128.52 741.95h2v2h-2zM114.55 743.95h2v2h-2zM104.57 749.93h2v2h-2zM96.59 751.93h3.99v2h-3.99zM106.57 751.93h2v2h-2zM96.59 753.93h3.99v2h-3.99zM134.5 753.93h2v2h-2zM90.61 755.92h2v2h-2zM104.57 755.92h2v2h-2zM124.53 755.92h2v2h-2zM90.61 757.92h3.99v2h-3.99zM102.58 757.92h2v2h-2zM128.52 757.92h2v2h-2zM88.61 759.91h2v2h-2zM100.58 759.91h5.99v2h-5.99zM88.61 761.91h3.99v2h-3.99zM98.59 761.91h3.99v2h-3.99zM84.62 763.9h2v2h-2zM94.6 763.9h2v2h-2zM98.59 763.9h3.99v2h-3.99zM84.62 765.9h3.99v2h-3.99zM90.61 765.9h2v2h-2zM96.59 767.89h2v2h-2zM90.61 769.89h5.99v2h-5.99zM88.61 771.88h5.99v2h-5.99zM76.64 777.87h2v2h-2zM72.65 781.86h2v2h-2zM74.65 783.85h2v2h-2zM68.66 785.85h2v2h-2zM70.66 787.84h2v2h-2zM88.61 787.84h2v2h-2zM92.6 787.84h2v2h-2zM90.61 791.83h5.99v2h-5.99zM60.68 793.83h2v2h-2zM56.69 795.82h2v2h-2zM58.69 803.8h2v2h-2z" fill="rgb(219, 222, 239)"/>
<path d="M210.32 646.19h2v2h-2z" fill="rgb(94, 109, 184)"/>
<path d="M212.31 646.19h2v2h-2zM196.35 660.15h2v2h-2zM192.36 664.14h2v2h-2zM182.39 672.12h2v2h-2zM180.39 676.11h2v2h-2zM154.45 678.11h2v2h-2zM154.45 680.1h2v2h-2zM176.4 680.1h2v2h-2zM164.43 692.07h2v2h-2zM160.44 696.07h2v2h-2zM174.41 698.06h2v2h-2zM156.45 700.06h2v2h-2zM152.46 704.05h2v2h-2zM144.48 712.03h2v2h-2zM144.48 714.02h2v2h-2zM140.49 718.01h2v2h-2zM132.51 724h2v2h-2zM128.52 729.98h2v2h-2zM128.52 731.98h2v2h-2zM120.54 735.97h2v2h-2zM116.55 739.96h2v2h-2zM112.56 743.95h2v2h-2zM108.57 747.94h2v2h-2zM104.57 751.93h2v2h-2zM70.66 767.89h2v2h-2zM80.63 775.87h2v2h-2zM88.61 781.86h2v2h-2zM72.65 783.85h2v2h-2zM58.69 795.82h2v2h-2zM62.68 797.82h2v2h-2z" fill="rgb(242, 182, 185)"/>
<path d="M214.31 646.19h2v2h-2zM62.68 793.83h2v2h-2z" fill="rgb(130, 141, 200)"/>
<path d="M208.32 648.18h2v2h-2zM200.34 656.16h2v2h-2zM142.48 712.03h2v2h-2zM140.49 716.02h2v2h-2zM96.59 759.91h2v2h-2zM92.6 763.9h2v2h-2zM60.68 795.82h2v2h-2z" fill="rgb(238, 163, 168)"/>
<path d="M166.43 690.08h2v2h-2zM138.49 712.03h2v2h-2zM132.51 727.99h2v2h-2zM126.52 729.98h2v2h-2zM130.51 731.98h2v2h-2zM106.57 749.93h2v2h-2z" fill="rgb(165, 174, 215)"/>
<path d="M132.51 722h2v2h-2z" fill="rgb(112, 125, 192)"/>
<path d="M100.58 755.92h2v2h-2zM52.7 793.83h2v2h-2z" fill="rgb(235, 145, 150)"/>
<path d="M56.69 799.81h2v2h-2z" fill="rgb(225, 90, 98)"/>
</g>
<rect x="52.7" y="640.2" width="165.6" height="165" fill="none" stroke="#7a7a7a" stroke-width="0.9"/>
<line x1="50.7" y1="646.9" x2="52.7" y2="646.9" stroke="#444" stroke-width="0.7"/>
<text x="50.1" y="649.7" font-size="7.8" text-anchor="end" fill="#262626">400</text>
<line x1="50.7" y1="684.6" x2="52.7" y2="684.6" stroke="#444" stroke-width="0.7"/>
<text x="50.1" y="687.4" font-size="7.8" text-anchor="end" fill="#262626">200</text>
<line x1="50.7" y1="722.6" x2="52.7" y2="722.6" stroke="#444" stroke-width="0.7"/>
<text x="50.1" y="725.4" font-size="7.8" text-anchor="end" fill="#262626">0</text>
<line x1="50.7" y1="729.2" x2="52.7" y2="729.2" stroke="#444" stroke-width="0.7"/>
<text x="50.1" y="732" font-size="7.8" text-anchor="end" fill="#262626">400</text>
<line x1="50.7" y1="767.2" x2="52.7" y2="767.2" stroke="#444" stroke-width="0.7"/>
<text x="50.1" y="770" font-size="7.8" text-anchor="end" fill="#262626">200</text>
<line x1="50.7" y1="805.2" x2="52.7" y2="805.2" stroke="#444" stroke-width="0.7"/>
<text x="50.1" y="808" font-size="7.8" text-anchor="end" fill="#262626">0</text>
<text x="52.7" y="814.9" font-size="7.9" text-anchor="middle" fill="#262626">0</text>
<text x="91.6" y="814.9" font-size="7.9" text-anchor="middle" fill="#262626">200</text>
<text x="124.6" y="814.9" font-size="7.9" text-anchor="middle" fill="#262626">400</text>
<text x="135.4" y="814.9" font-size="7.9" text-anchor="middle" fill="#262626">0</text>
<text x="174" y="814.9" font-size="7.9" text-anchor="middle" fill="#262626">200</text>
<text x="210.5" y="814.9" font-size="7.9" text-anchor="middle" fill="#262626">400</text>
<line x1="52.7" y1="805.2" x2="52.7" y2="807" stroke="#444" stroke-width="0.7"/>
<line x1="90.9" y1="805.2" x2="90.9" y2="807" stroke="#444" stroke-width="0.7"/>
<line x1="129.1" y1="805.2" x2="129.1" y2="807" stroke="#444" stroke-width="0.7"/>
<line x1="135.4" y1="805.2" x2="135.4" y2="807" stroke="#444" stroke-width="0.7"/>
<line x1="173.6" y1="805.2" x2="173.6" y2="807" stroke="#444" stroke-width="0.7"/>
<line x1="211.8" y1="805.2" x2="211.8" y2="807" stroke="#444" stroke-width="0.7"/>
<line x1="31.6" y1="639.7" x2="31.6" y2="720.5" stroke="#666" stroke-width="1.1"/>
<line x1="31.6" y1="724.4" x2="31.6" y2="804" stroke="#666" stroke-width="1.1"/>
<text transform="translate(26.6,680) rotate(-90)" font-size="10.5" text-anchor="middle" fill="#262626">Monomer 2</text>
<text transform="translate(26.6,765.2) rotate(-90)" font-size="10.5" text-anchor="middle" fill="#262626">Monomer 1</text>
<line x1="51" y1="824.2" x2="132.2" y2="824.2" stroke="#444" stroke-width="1.1"/>
<line x1="135.8" y1="824.2" x2="218.2" y2="824.2" stroke="#444" stroke-width="1.1"/>
<text x="92.5" y="835.6" font-size="10.5" text-anchor="middle" fill="#262626">Monomer 1</text>
<text x="177.3" y="835.6" font-size="10.5" text-anchor="middle" fill="#262626">Monomer 2</text>
<text x="249.3" y="591" font-size="12.5" text-anchor="start" fill="#1a1a1a" font-weight="bold">j</text>
<line x1="309.2" y1="586.6" x2="341.3" y2="586.6" stroke="#a9aeaa" stroke-width="2.6"/>
<line x1="455.6" y1="586.6" x2="504.4" y2="586.6" stroke="#8fc086" stroke-width="2.6"/>
<line x1="583.1" y1="586.6" x2="618.4" y2="586.6" stroke="#a9aeaa" stroke-width="2.6"/>
<rect x="341.3" y="581.7" width="114.3" height="9.6" fill="#6a9fdc" stroke="#3d6fb3" stroke-width="0.9"/>
<polygon points="504.4,581.7 583.1,581.7 583.1,591.3" fill="#f7cd6c" stroke="none" stroke-width="1"/>
<polygon points="504.4,581.7 504.4,591.3 583.1,591.3" fill="#f2c4e6" stroke="none" stroke-width="1"/>
<line x1="504.4" y1="581.7" x2="583.1" y2="591.3" stroke="#cf9a2e" stroke-width="0.8"/>
<rect x="504.4" y="581.7" width="78.7" height="9.6" fill="none" stroke="#d3a540" stroke-width="0.9"/>
<line x1="504.4" y1="581.7" x2="504.4" y2="591.3" stroke="#cf96c8" stroke-width="0.9"/>
<line x1="504.4" y1="591.3" x2="583.1" y2="591.3" stroke="#cf96c8" stroke-width="0.9"/>
<text x="398.4" y="577.8" font-size="9.1" text-anchor="middle" fill="#4a7fc4">RNA binding domain</text>
<text x="480" y="577.8" font-size="9.1" text-anchor="middle" fill="#5c9c55">Linker</text>
<text x="543.8" y="577.8" font-size="9.1" text-anchor="middle" fill="#d08cc4">Dimerization domain</text>
<text x="327.2" y="601.2" font-size="9.8" text-anchor="middle" fill="#a8a8a8">N1</text>
<text x="398.4" y="601.2" font-size="9.8" text-anchor="middle" fill="#3a5bab">N2</text>
<text x="482.6" y="601.2" font-size="9.8" text-anchor="middle" fill="#5c9c55">N3</text>
<text x="544" y="601.2" font-size="9.8" text-anchor="middle" fill="#d08cc4">N4</text>
<text x="600.8" y="601.2" font-size="9.8" text-anchor="middle" fill="#a8a8a8">N5</text>
<text x="361.4" y="619" font-size="13.0" text-anchor="middle" fill="#262626">Intramonomer Interactions</text>
<text x="555.6" y="619" font-size="13.0" text-anchor="middle" fill="#262626">Intermonomer Interactions</text>
<rect x="284.4" y="657.6" width="30.76" height="30.7" fill="rgb(233,159,164)"/>
<text x="299.63" y="674.7" font-size="8.0" text-anchor="middle" fill="#1a1a1a">-0.8</text>
<rect x="314.86" y="657.6" width="30.76" height="30.7" fill="rgb(243,224,225)"/>
<text x="330.09" y="674.7" font-size="8.0" text-anchor="middle" fill="#1a1a1a">-0.2</text>
<rect x="345.32" y="657.6" width="30.76" height="30.7" fill="rgb(236,180,183)"/>
<text x="360.55" y="674.7" font-size="8.0" text-anchor="middle" fill="#1a1a1a">-0.6</text>
<rect x="375.78" y="657.6" width="30.76" height="30.7" fill="rgb(244,235,235)"/>
<text x="391.01" y="674.7" font-size="8.0" text-anchor="middle" fill="#1a1a1a">-0.1</text>
<rect x="406.24" y="657.6" width="30.76" height="30.7" fill="rgb(235,235,241)"/>
<text x="421.47" y="674.7" font-size="8.0" text-anchor="middle" fill="#1a1a1a">0.1</text>
<rect x="284.4" y="688" width="30.76" height="30.7" fill="rgb(235,235,241)"/>
<text x="299.63" y="705.1" font-size="8.0" text-anchor="middle" fill="#1a1a1a">0.1</text>
<rect x="314.86" y="688" width="30.76" height="30.7" fill="rgb(243,224,225)"/>
<text x="330.09" y="705.1" font-size="8.0" text-anchor="middle" fill="#1a1a1a">-0.2</text>
<rect x="345.32" y="688" width="30.76" height="30.7" fill="rgb(57,85,164)"/>
<text x="360.55" y="705.1" font-size="8.0" text-anchor="middle" fill="#1a1a1a">2.9</text>
<rect x="375.78" y="688" width="30.76" height="30.7" fill="rgb(236,180,183)"/>
<text x="391.01" y="705.1" font-size="8.0" text-anchor="middle" fill="#1a1a1a">-0.6</text>
<rect x="406.24" y="688" width="30.76" height="30.7" fill="rgb(244,235,235)"/>
<text x="421.47" y="705.1" font-size="8.0" text-anchor="middle" fill="#1a1a1a">-0.1</text>
<rect x="284.4" y="718.4" width="30.76" height="30.7" fill="rgb(224,224,236)"/>
<text x="299.63" y="735.5" font-size="8.0" text-anchor="middle" fill="#1a1a1a">0.2</text>
<rect x="314.86" y="718.4" width="30.76" height="30.7" fill="rgb(243,224,225)"/>
<text x="330.09" y="735.5" font-size="8.0" text-anchor="middle" fill="#1a1a1a">-0.2</text>
<rect x="345.32" y="718.4" width="30.76" height="30.7" fill="rgb(218,34,52)"/>
<text x="360.55" y="735.5" font-size="8.0" text-anchor="middle" fill="#1a1a1a">-2.8</text>
<rect x="375.78" y="718.4" width="30.76" height="30.7" fill="rgb(57,85,164)"/>
<text x="391.01" y="735.5" font-size="8.0" text-anchor="middle" fill="#1a1a1a">2.9</text>
<rect x="406.24" y="718.4" width="30.76" height="30.7" fill="rgb(236,180,183)"/>
<text x="421.47" y="735.5" font-size="8.0" text-anchor="middle" fill="#1a1a1a">-0.6</text>
<rect x="284.4" y="748.8" width="30.76" height="30.7" fill="rgb(241,212,214)"/>
<text x="299.63" y="765.9" font-size="8.0" text-anchor="middle" fill="#1a1a1a">-0.3</text>
<rect x="314.86" y="748.8" width="30.76" height="30.7" fill="rgb(57,85,164)"/>
<text x="330.09" y="765.9" font-size="8.0" text-anchor="middle" fill="#1a1a1a">2.9</text>
<rect x="345.32" y="748.8" width="30.76" height="30.7" fill="rgb(243,224,225)"/>
<text x="360.55" y="765.9" font-size="8.0" text-anchor="middle" fill="#1a1a1a">-0.2</text>
<rect x="375.78" y="748.8" width="30.76" height="30.7" fill="rgb(243,224,225)"/>
<text x="391.01" y="765.9" font-size="8.0" text-anchor="middle" fill="#1a1a1a">-0.2</text>
<rect x="406.24" y="748.8" width="30.76" height="30.7" fill="rgb(243,224,225)"/>
<text x="421.47" y="765.9" font-size="8.0" text-anchor="middle" fill="#1a1a1a">-0.2</text>
<rect x="284.4" y="779.2" width="30.76" height="30.7" fill="rgb(241,212,214)"/>
<text x="299.63" y="796.3" font-size="8.0" text-anchor="middle" fill="#1a1a1a">-0.3</text>
<rect x="314.86" y="779.2" width="30.76" height="30.7" fill="rgb(241,212,214)"/>
<text x="330.09" y="796.3" font-size="8.0" text-anchor="middle" fill="#1a1a1a">-0.3</text>
<rect x="345.32" y="779.2" width="30.76" height="30.7" fill="rgb(224,224,236)"/>
<text x="360.55" y="796.3" font-size="8.0" text-anchor="middle" fill="#1a1a1a">0.2</text>
<rect x="375.78" y="779.2" width="30.76" height="30.7" fill="rgb(235,235,241)"/>
<text x="391.01" y="796.3" font-size="8.0" text-anchor="middle" fill="#1a1a1a">0.1</text>
<rect x="406.24" y="779.2" width="30.76" height="30.7" fill="rgb(233,159,164)"/>
<text x="421.47" y="796.3" font-size="8.0" text-anchor="middle" fill="#1a1a1a">-0.8</text>
<rect x="284.4" y="657.6" width="152.3" height="152" fill="none" stroke="#7a7a7a" stroke-width="0.9"/>
<line x1="299.63" y1="657.6" x2="299.63" y2="655.8" stroke="#444" stroke-width="0.7"/>
<text transform="translate(302.23,653.6) rotate(-90)" font-size="7.2" text-anchor="start" fill="#262626">N1</text>
<line x1="330.09" y1="657.6" x2="330.09" y2="655.8" stroke="#444" stroke-width="0.7"/>
<text transform="translate(332.69,653.6) rotate(-90)" font-size="7.2" text-anchor="start" fill="#262626">N2</text>
<line x1="360.55" y1="657.6" x2="360.55" y2="655.8" stroke="#444" stroke-width="0.7"/>
<text transform="translate(363.15,653.6) rotate(-90)" font-size="7.2" text-anchor="start" fill="#262626">N3</text>
<line x1="391.01" y1="657.6" x2="391.01" y2="655.8" stroke="#444" stroke-width="0.7"/>
<text transform="translate(393.61,653.6) rotate(-90)" font-size="7.2" text-anchor="start" fill="#262626">N4</text>
<line x1="421.47" y1="657.6" x2="421.47" y2="655.8" stroke="#444" stroke-width="0.7"/>
<text transform="translate(424.07,653.6) rotate(-90)" font-size="7.2" text-anchor="start" fill="#262626">N5</text>
<line x1="284.4" y1="672.8" x2="282.6" y2="672.8" stroke="#444" stroke-width="0.7"/>
<text x="282" y="675.4" font-size="7.2" text-anchor="end" fill="#262626">N5</text>
<line x1="284.4" y1="703.2" x2="282.6" y2="703.2" stroke="#444" stroke-width="0.7"/>
<text x="282" y="705.8" font-size="7.2" text-anchor="end" fill="#262626">N4</text>
<line x1="284.4" y1="733.6" x2="282.6" y2="733.6" stroke="#444" stroke-width="0.7"/>
<text x="282" y="736.2" font-size="7.2" text-anchor="end" fill="#262626">N3</text>
<line x1="284.4" y1="764" x2="282.6" y2="764" stroke="#444" stroke-width="0.7"/>
<text x="282" y="766.6" font-size="7.2" text-anchor="end" fill="#262626">N2</text>
<line x1="284.4" y1="794.4" x2="282.6" y2="794.4" stroke="#444" stroke-width="0.7"/>
<text x="282" y="797" font-size="7.2" text-anchor="end" fill="#262626">N1</text>
<text x="359.3" y="637.5" font-size="10.5" text-anchor="middle" fill="#262626">Monomer 1 Domain Number</text>
<text transform="translate(263.2,733.2) rotate(-90)" font-size="10.5" text-anchor="middle" fill="#262626">Monomer 1 Domain Number</text>
<rect x="284.4" y="817.4" width="152.3" height="19.4" fill="#fff" stroke="#7a7a7a" stroke-width="0.9"/>
<rect x="287.63" y="827.1" width="24" height="4.27" fill="rgb(229,130,137)"/>
<line x1="299.63" y1="836.8" x2="299.63" y2="838.6" stroke="#444" stroke-width="0.7"/>
<text transform="translate(302.23,839.8) rotate(-90)" font-size="7.2" text-anchor="end" fill="#262626">N1</text>
<rect x="318.09" y="819.34" width="24" height="7.76" fill="rgb(72,105,178)"/>
<line x1="330.09" y1="836.8" x2="330.09" y2="838.6" stroke="#444" stroke-width="0.7"/>
<text transform="translate(332.69,839.8) rotate(-90)" font-size="7.2" text-anchor="end" fill="#262626">N2</text>
<rect x="348.55" y="827.1" width="24" height="1.94" fill="rgb(238,190,193)"/>
<line x1="360.55" y1="836.8" x2="360.55" y2="838.6" stroke="#444" stroke-width="0.7"/>
<text transform="translate(363.15,839.8) rotate(-90)" font-size="7.2" text-anchor="end" fill="#262626">N3</text>
<rect x="379.01" y="818.95" width="24" height="8.15" fill="rgb(70,103,176)"/>
<line x1="391.01" y1="836.8" x2="391.01" y2="838.6" stroke="#444" stroke-width="0.7"/>
<text transform="translate(393.61,839.8) rotate(-90)" font-size="7.2" text-anchor="end" fill="#262626">N4</text>
<rect x="409.47" y="827.1" width="24" height="6.21" fill="rgb(228,91,100)"/>
<line x1="421.47" y1="836.8" x2="421.47" y2="838.6" stroke="#444" stroke-width="0.7"/>
<text transform="translate(424.07,839.8) rotate(-90)" font-size="7.2" text-anchor="end" fill="#262626">N5</text>
<line x1="284.4" y1="827.1" x2="436.7" y2="827.1" stroke="#333" stroke-width="0.8"/>
<line x1="284.4" y1="817.4" x2="282.6" y2="817.4" stroke="#444" stroke-width="0.7"/>
<text x="282" y="820.1" font-size="7.8" text-anchor="end" fill="#262626">2.5</text>
<line x1="284.4" y1="827.1" x2="282.6" y2="827.1" stroke="#444" stroke-width="0.7"/>
<text x="282" y="829.8" font-size="7.8" text-anchor="end" fill="#262626">0.0</text>
<line x1="284.4" y1="836.8" x2="282.6" y2="836.8" stroke="#444" stroke-width="0.7"/>
<text x="282" y="839.5" font-size="7.8" text-anchor="end" fill="#262626">−2.5</text>
<text transform="translate(263.2,827.7) rotate(-90)" font-size="10.1" text-anchor="middle" fill="#262626">Sum Δ</text>
<rect x="479.5" y="656.6" width="30.84" height="30.9" fill="rgb(245,245,245)"/>
<text x="494.77" y="673.8" font-size="8.0" text-anchor="middle" fill="#1a1a1a">0.1</text>
<rect x="510.04" y="656.6" width="30.84" height="30.9" fill="rgb(192,192,221)"/>
<text x="525.31" y="673.8" font-size="8.0" text-anchor="middle" fill="#1a1a1a">0.5</text>
<rect x="540.58" y="656.6" width="30.84" height="30.9" fill="rgb(224,224,236)"/>
<text x="555.85" y="673.8" font-size="8.0" text-anchor="middle" fill="#1a1a1a">0.2</text>
<rect x="571.12" y="656.6" width="30.84" height="30.9" fill="rgb(203,203,226)"/>
<text x="586.39" y="673.8" font-size="8.0" text-anchor="middle" fill="#1a1a1a">0.4</text>
<rect x="601.66" y="656.6" width="30.84" height="30.9" fill="rgb(203,203,226)"/>
<text x="616.93" y="673.8" font-size="8.0" text-anchor="middle" fill="#1a1a1a">0.4</text>
<rect x="479.5" y="687.2" width="30.84" height="30.9" fill="rgb(245,245,245)"/>
<text x="494.77" y="704.4" font-size="8.0" text-anchor="middle" fill="#1a1a1a">0.1</text>
<rect x="510.04" y="687.2" width="30.84" height="30.9" fill="rgb(240,201,204)"/>
<text x="525.31" y="704.4" font-size="8.0" text-anchor="middle" fill="#1a1a1a">-0.4</text>
<rect x="540.58" y="687.2" width="30.84" height="30.9" fill="rgb(83,110,181)"/>
<text x="555.85" y="704.4" font-size="8.0" text-anchor="middle" fill="#1a1a1a">1.8</text>
<rect x="571.12" y="687.2" width="30.84" height="30.9" fill="rgb(240,201,204)"/>
<text x="586.39" y="704.4" font-size="8.0" text-anchor="middle" fill="#1a1a1a">-0.4</text>
<rect x="601.66" y="687.2" width="30.84" height="30.9" fill="rgb(203,203,226)"/>
<text x="616.93" y="704.4" font-size="8.0" text-anchor="middle" fill="#1a1a1a">0.4</text>
<rect x="479.5" y="717.8" width="30.84" height="30.9" fill="rgb(165,167,208)"/>
<text x="494.77" y="735" font-size="8.0" text-anchor="middle" fill="#1a1a1a">0.7</text>
<rect x="510.04" y="717.8" width="30.84" height="30.9" fill="rgb(124,130,188)"/>
<text x="525.31" y="735" font-size="8.0" text-anchor="middle" fill="#1a1a1a">1.0</text>
<rect x="540.58" y="717.8" width="30.84" height="30.9" fill="rgb(124,130,188)"/>
<text x="555.85" y="735" font-size="8.0" text-anchor="middle" fill="#1a1a1a">1.0</text>
<rect x="571.12" y="717.8" width="30.84" height="30.9" fill="rgb(83,110,181)"/>
<text x="586.39" y="735" font-size="8.0" text-anchor="middle" fill="#1a1a1a">1.8</text>
<rect x="601.66" y="717.8" width="30.84" height="30.9" fill="rgb(224,224,236)"/>
<text x="616.93" y="735" font-size="8.0" text-anchor="middle" fill="#1a1a1a">0.2</text>
<rect x="479.5" y="748.4" width="30.84" height="30.9" fill="rgb(203,203,226)"/>
<text x="494.77" y="765.6" font-size="8.0" text-anchor="middle" fill="#1a1a1a">0.4</text>
<rect x="510.04" y="748.4" width="30.84" height="30.9" fill="rgb(178,180,214)"/>
<text x="525.31" y="765.6" font-size="8.0" text-anchor="middle" fill="#1a1a1a">0.6</text>
<rect x="540.58" y="748.4" width="30.84" height="30.9" fill="rgb(124,130,188)"/>
<text x="555.85" y="765.6" font-size="8.0" text-anchor="middle" fill="#1a1a1a">1.0</text>
<rect x="571.12" y="748.4" width="30.84" height="30.9" fill="rgb(240,201,204)"/>
<text x="586.39" y="765.6" font-size="8.0" text-anchor="middle" fill="#1a1a1a">-0.4</text>
<rect x="601.66" y="748.4" width="30.84" height="30.9" fill="rgb(192,192,221)"/>
<text x="616.93" y="765.6" font-size="8.0" text-anchor="middle" fill="#1a1a1a">0.5</text>
<rect x="479.5" y="779" width="30.84" height="30.9" fill="rgb(178,180,214)"/>
<text x="494.77" y="796.2" font-size="8.0" text-anchor="middle" fill="#1a1a1a">0.6</text>
<rect x="510.04" y="779" width="30.84" height="30.9" fill="rgb(203,203,226)"/>
<text x="525.31" y="796.2" font-size="8.0" text-anchor="middle" fill="#1a1a1a">0.4</text>
<rect x="540.58" y="779" width="30.84" height="30.9" fill="rgb(165,167,208)"/>
<text x="555.85" y="796.2" font-size="8.0" text-anchor="middle" fill="#1a1a1a">0.7</text>
<rect x="571.12" y="779" width="30.84" height="30.9" fill="rgb(245,245,245)"/>
<text x="586.39" y="796.2" font-size="8.0" text-anchor="middle" fill="#1a1a1a">0.1</text>
<rect x="601.66" y="779" width="30.84" height="30.9" fill="rgb(245,245,245)"/>
<text x="616.93" y="796.2" font-size="8.0" text-anchor="middle" fill="#1a1a1a">0.1</text>
<rect x="479.5" y="656.6" width="152.7" height="153" fill="none" stroke="#7a7a7a" stroke-width="0.9"/>
<line x1="494.77" y1="656.6" x2="494.77" y2="654.8" stroke="#444" stroke-width="0.7"/>
<text transform="translate(497.37,652.6) rotate(-90)" font-size="7.2" text-anchor="start" fill="#262626">N1</text>
<line x1="525.31" y1="656.6" x2="525.31" y2="654.8" stroke="#444" stroke-width="0.7"/>
<text transform="translate(527.91,652.6) rotate(-90)" font-size="7.2" text-anchor="start" fill="#262626">N2</text>
<line x1="555.85" y1="656.6" x2="555.85" y2="654.8" stroke="#444" stroke-width="0.7"/>
<text transform="translate(558.45,652.6) rotate(-90)" font-size="7.2" text-anchor="start" fill="#262626">N3</text>
<line x1="586.39" y1="656.6" x2="586.39" y2="654.8" stroke="#444" stroke-width="0.7"/>
<text transform="translate(588.99,652.6) rotate(-90)" font-size="7.2" text-anchor="start" fill="#262626">N4</text>
<line x1="616.93" y1="656.6" x2="616.93" y2="654.8" stroke="#444" stroke-width="0.7"/>
<text transform="translate(619.53,652.6) rotate(-90)" font-size="7.2" text-anchor="start" fill="#262626">N5</text>
<line x1="479.5" y1="671.9" x2="477.7" y2="671.9" stroke="#444" stroke-width="0.7"/>
<text x="477.1" y="674.5" font-size="7.2" text-anchor="end" fill="#262626">N5</text>
<line x1="479.5" y1="702.5" x2="477.7" y2="702.5" stroke="#444" stroke-width="0.7"/>
<text x="477.1" y="705.1" font-size="7.2" text-anchor="end" fill="#262626">N4</text>
<line x1="479.5" y1="733.1" x2="477.7" y2="733.1" stroke="#444" stroke-width="0.7"/>
<text x="477.1" y="735.7" font-size="7.2" text-anchor="end" fill="#262626">N3</text>
<line x1="479.5" y1="763.7" x2="477.7" y2="763.7" stroke="#444" stroke-width="0.7"/>
<text x="477.1" y="766.3" font-size="7.2" text-anchor="end" fill="#262626">N2</text>
<line x1="479.5" y1="794.3" x2="477.7" y2="794.3" stroke="#444" stroke-width="0.7"/>
<text x="477.1" y="796.9" font-size="7.2" text-anchor="end" fill="#262626">N1</text>
<text x="556.6" y="637.5" font-size="10.5" text-anchor="middle" fill="#262626">Monomer 2 Domain Number</text>
<text transform="translate(461.2,733.2) rotate(-90)" font-size="10.5" text-anchor="middle" fill="#262626">Monomer 1 Domain Number</text>
<rect x="479.5" y="817.4" width="152.7" height="19.4" fill="#fff" stroke="#7a7a7a" stroke-width="0.9"/>
<rect x="482.77" y="829.43" width="24" height="7.37" fill="rgb(78,108,180)"/>
<line x1="494.77" y1="836.8" x2="494.77" y2="838.6" stroke="#444" stroke-width="0.7"/>
<text transform="translate(497.37,839.8) rotate(-90)" font-size="7.2" text-anchor="end" fill="#262626">N1</text>
<rect x="513.31" y="828.65" width="24" height="8.15" fill="rgb(70,103,176)"/>
<line x1="525.31" y1="836.8" x2="525.31" y2="838.6" stroke="#444" stroke-width="0.7"/>
<text transform="translate(527.91,839.8) rotate(-90)" font-size="7.2" text-anchor="end" fill="#262626">N2</text>
<rect x="543.85" y="818.56" width="24" height="18.24" fill="rgb(40,48,117)"/>
<line x1="555.85" y1="836.8" x2="555.85" y2="838.6" stroke="#444" stroke-width="0.7"/>
<text transform="translate(558.45,839.8) rotate(-90)" font-size="7.2" text-anchor="end" fill="#262626">N3</text>
<rect x="574.39" y="830.98" width="24" height="5.82" fill="rgb(100,118,186)"/>
<line x1="586.39" y1="836.8" x2="586.39" y2="838.6" stroke="#444" stroke-width="0.7"/>
<text transform="translate(588.99,839.8) rotate(-90)" font-size="7.2" text-anchor="end" fill="#262626">N4</text>
<rect x="604.93" y="830.59" width="24" height="6.21" fill="rgb(94,115,184)"/>
<line x1="616.93" y1="836.8" x2="616.93" y2="838.6" stroke="#444" stroke-width="0.7"/>
<text transform="translate(619.53,839.8) rotate(-90)" font-size="7.2" text-anchor="end" fill="#262626">N5</text>
<line x1="479.5" y1="817.4" x2="477.7" y2="817.4" stroke="#444" stroke-width="0.7"/>
<text x="477.1" y="820.1" font-size="7.8" text-anchor="end" fill="#262626">5</text>
<line x1="479.5" y1="836.8" x2="477.7" y2="836.8" stroke="#444" stroke-width="0.7"/>
<text x="477.1" y="839.5" font-size="7.8" text-anchor="end" fill="#262626">0</text>
<text transform="translate(461.2,827.7) rotate(-90)" font-size="10.1" text-anchor="middle" fill="#262626">Sum Δ</text>
<defs><linearGradient id="cbj" x1="0" x2="0" y1="0" y2="1"><stop offset="0.000" stop-color="rgb(38,42,105)"/><stop offset="0.100" stop-color="rgb(45,62,145)"/><stop offset="0.200" stop-color="rgb(55,83,163)"/><stop offset="0.300" stop-color="rgb(72,105,178)"/><stop offset="0.350" stop-color="rgb(100,118,186)"/><stop offset="0.400" stop-color="rgb(124,130,188)"/><stop offset="0.450" stop-color="rgb(192,192,221)"/><stop offset="0.500" stop-color="rgb(255,255,255)"/><stop offset="0.550" stop-color="rgb(238,190,193)"/><stop offset="0.600" stop-color="rgb(229,138,144)"/><stop offset="0.700" stop-color="rgb(228,60,70)"/><stop offset="0.800" stop-color="rgb(215,28,48)"/><stop offset="0.900" stop-color="rgb(168,18,42)"/><stop offset="1.000" stop-color="rgb(118,12,32)"/></linearGradient></defs>
<rect x="642.7" y="656.7" width="5.8" height="152.4" fill="url(#cbj)"/>
<line x1="648.5" y1="671.8" x2="650.3" y2="671.8" stroke="#444" stroke-width="0.7"/>
<text x="651.2" y="673.8" font-size="7.9" text-anchor="start" fill="#262626">4</text>
<line x1="648.5" y1="702.3" x2="650.3" y2="702.3" stroke="#444" stroke-width="0.7"/>
<text x="651.2" y="704.3" font-size="7.9" text-anchor="start" fill="#262626">2</text>
<line x1="648.5" y1="732.8" x2="650.3" y2="732.8" stroke="#444" stroke-width="0.7"/>
<text x="651.2" y="734.8" font-size="7.9" text-anchor="start" fill="#262626">0</text>
<line x1="648.5" y1="763.3" x2="650.3" y2="763.3" stroke="#444" stroke-width="0.7"/>
<text x="651.2" y="765.3" font-size="7.9" text-anchor="start" fill="#262626">−2</text>
<line x1="648.5" y1="793.8" x2="650.3" y2="793.8" stroke="#444" stroke-width="0.7"/>
<text x="651.2" y="795.8" font-size="7.9" text-anchor="start" fill="#262626">−4</text>
<text transform="translate(669.7,731.9) rotate(-90)" font-size="8.8" text-anchor="middle" fill="#262626">Δ Number of Contacts</text>
</svg></body></html>
